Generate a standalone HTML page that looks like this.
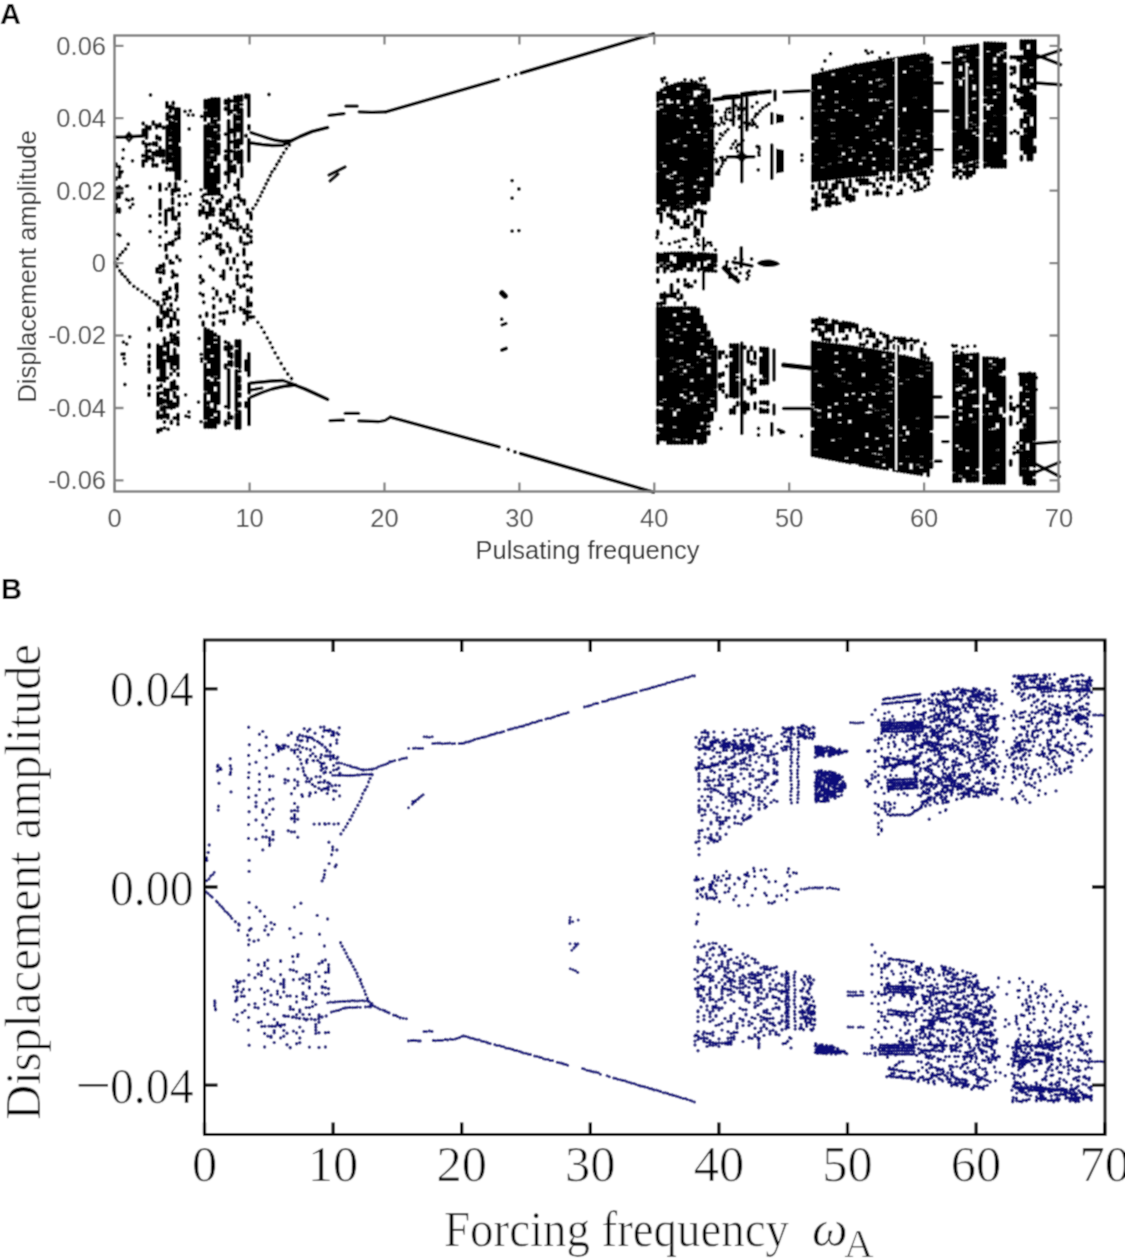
<!DOCTYPE html>
<html><head><meta charset="utf-8"><style>
html,body{margin:0;padding:0;background:#fff;overflow:hidden;}
svg{display:block;}
</style></head><body>
<svg width="1125" height="1259" viewBox="0 0 1125 1259">
<defs><filter id="soft" filterUnits="userSpaceOnUse" x="0" y="0" width="1125" height="1259"><feConvolveMatrix order="3" kernelMatrix="1 2 1 2 8 2 1 2 1" divisor="20" edgeMode="duplicate"/></filter></defs>
<g filter="url(#soft)">
<rect x="0" y="0" width="1125" height="1259" fill="#fff"/>
<g id="pa">
<path d="M732.0 156.8L738.5 154.0L741.8 149.0L745.0 154.0L751.0 156.8L745.0 159.5L741.8 164.0L738.5 159.5Z" fill="#000"/>
<path d="M776.0 113.4L784.0 115.0L784.0 122.0L776.0 123.4Z" fill="#000"/>
<path d="M776.0 148.4L784.0 150.0L784.0 172.0L776.0 173.4Z" fill="#000"/>
<path d="M756.8 263.3C760 258,776 258,780.1 264C776 268,760 268,756.8 263.3Z" fill="#000"/>
<path d="M115.0 137.2L125.0 137.0L133.0 136.5L143.0 136.0" stroke="#000" stroke-width="3.6" stroke-linecap="round" stroke-linejoin="round" fill="none"/>
<path d="M129.0 132.8L132.8 137.0L129.0 141.2L125.2 137.0L129.0 132.8" stroke="#000" stroke-width="2.6" stroke-linecap="round" stroke-linejoin="round" fill="none"/>
<path d="M251.0 132.6L260.0 135.5L268.0 138.2L276.0 140.3L283.0 141.2L292.0 140.4" stroke="#000" stroke-width="3.4" stroke-linecap="round" stroke-linejoin="round" fill="none"/>
<path d="M251.0 143.0L262.0 144.5L272.0 145.5L283.0 145.3L292.0 140.6" stroke="#000" stroke-width="3.4" stroke-linecap="round" stroke-linejoin="round" fill="none"/>
<path d="M292.0 140.4L300.0 136.5L312.0 131.5L327.6 127.6" stroke="#000" stroke-width="3.6" stroke-linecap="round" stroke-linejoin="round" fill="none"/>
<path d="M329.0 115.3L344.0 113.6" stroke="#000" stroke-width="3.2" stroke-linecap="round" stroke-linejoin="round" fill="none"/>
<path d="M345.8 106.1L357.3 106.1" stroke="#000" stroke-width="3.2" stroke-linecap="round" stroke-linejoin="round" fill="none"/>
<path d="M359.1 111.8L372.0 112.3L385.8 111.8" stroke="#000" stroke-width="3.2" stroke-linecap="round" stroke-linejoin="round" fill="none"/>
<path d="M329.0 175.0L345.0 167.0" stroke="#000" stroke-width="3.2" stroke-linecap="round" stroke-linejoin="round" fill="none"/>
<path d="M330.0 181.0L338.0 174.0" stroke="#000" stroke-width="3.2" stroke-linecap="round" stroke-linejoin="round" fill="none"/>
<path d="M251.0 383.0L262.0 382.0L272.0 381.0L283.0 380.5L295.6 385.0" stroke="#000" stroke-width="3.4" stroke-linecap="round" stroke-linejoin="round" fill="none"/>
<path d="M251.0 397.0L262.0 392.5L272.0 389.0L283.0 386.5L295.6 385.0" stroke="#000" stroke-width="3.4" stroke-linecap="round" stroke-linejoin="round" fill="none"/>
<path d="M251.0 390.0L262.0 388.0" stroke="#000" stroke-width="3.0" stroke-linecap="round" stroke-linejoin="round" fill="none"/>
<path d="M295.6 385.3L305.0 389.0L316.0 394.0L327.6 399.4" stroke="#000" stroke-width="3.6" stroke-linecap="round" stroke-linejoin="round" fill="none"/>
<path d="M330.0 420.7L343.6 420.2" stroke="#000" stroke-width="3.2" stroke-linecap="round" stroke-linejoin="round" fill="none"/>
<path d="M345.1 413.3L358.7 413.3" stroke="#000" stroke-width="3.2" stroke-linecap="round" stroke-linejoin="round" fill="none"/>
<path d="M358.7 420.8L378.4 421.7L385.0 420.5L390.4 417.2" stroke="#000" stroke-width="3.2" stroke-linecap="round" stroke-linejoin="round" fill="none"/>
<path d="M385.8 111.8L498.7 79.4" stroke="#000" stroke-width="3.4" stroke-linecap="round" stroke-linejoin="round" fill="none"/>
<path d="M521.1 73.0L653.6 33.9" stroke="#000" stroke-width="3.4" stroke-linecap="round" stroke-linejoin="round" fill="none"/>
<path d="M390.4 417.2L499.2 446.8" stroke="#000" stroke-width="3.4" stroke-linecap="round" stroke-linejoin="round" fill="none"/>
<path d="M520.4 453.5L653.4 492.2" stroke="#000" stroke-width="3.4" stroke-linecap="round" stroke-linejoin="round" fill="none"/>
<path d="M502.0 293.0L505.0 296.0" stroke="#000" stroke-width="6" stroke-linecap="round" stroke-linejoin="round" fill="none"/>
<path d="M502.0 325.0L506.0 323.5" stroke="#000" stroke-width="3.2" stroke-linecap="round" stroke-linejoin="round" fill="none"/>
<path d="M502.0 350.0L506.0 348.5" stroke="#000" stroke-width="4" stroke-linecap="round" stroke-linejoin="round" fill="none"/>
<path d="M714.0 99.5L723.0 98.5" stroke="#000" stroke-width="4.5" stroke-linecap="round" stroke-linejoin="round" fill="none"/>
<path d="M724.0 97.5L738.0 96.5" stroke="#000" stroke-width="5.5" stroke-linecap="round" stroke-linejoin="round" fill="none"/>
<path d="M744.0 94.5L756.0 93.0" stroke="#000" stroke-width="5.5" stroke-linecap="round" stroke-linejoin="round" fill="none"/>
<path d="M760.0 92.5L770.0 91.5" stroke="#000" stroke-width="4.5" stroke-linecap="round" stroke-linejoin="round" fill="none"/>
<path d="M775.0 91.0L775.0 100.0" stroke="#000" stroke-width="3.6" stroke-linecap="round" stroke-linejoin="round" fill="none"/>
<path d="M733.4 98.0L733.4 125.0" stroke="#000" stroke-width="3.6" stroke-linecap="round" stroke-linejoin="round" fill="none"/>
<path d="M746.8 98.0L746.8 130.0" stroke="#000" stroke-width="3.6" stroke-linecap="round" stroke-linejoin="round" fill="none"/>
<path d="M741.8 93.4L741.8 181.8" stroke="#000" stroke-width="3.4" stroke-linecap="round" stroke-linejoin="round" fill="none"/>
<path d="M729.0 156.8L754.0 156.8" stroke="#000" stroke-width="3.4" stroke-linecap="round" stroke-linejoin="round" fill="none"/>
<path d="M771.8 113.4L771.8 123.4" stroke="#000" stroke-width="3.4" stroke-linecap="round" stroke-linejoin="round" fill="none"/>
<path d="M771.8 145.0L771.8 178.5" stroke="#000" stroke-width="3.4" stroke-linecap="round" stroke-linejoin="round" fill="none"/>
<path d="M741.3 247.7L741.3 266.0" stroke="#000" stroke-width="3.6" stroke-linecap="round" stroke-linejoin="round" fill="none"/>
<path d="M724.0 268.0L731.0 275.0L738.0 281.0" stroke="#000" stroke-width="5" stroke-linecap="round" stroke-linejoin="round" fill="none"/>
<path d="M733.0 262.0L752.0 266.0" stroke="#000" stroke-width="3.4" stroke-linecap="round" stroke-linejoin="round" fill="none"/>
<path d="M703.5 238.0L703.5 250.0" stroke="#000" stroke-width="3.2" stroke-linecap="round" stroke-linejoin="round" fill="none"/>
<path d="M703.5 272.0L703.5 289.0" stroke="#000" stroke-width="3.2" stroke-linecap="round" stroke-linejoin="round" fill="none"/>
<path d="M741.8 343.0L741.8 433.5" stroke="#000" stroke-width="3.4" stroke-linecap="round" stroke-linejoin="round" fill="none"/>
<path d="M774.0 350.0L774.0 380.0" stroke="#000" stroke-width="3.4" stroke-linecap="round" stroke-linejoin="round" fill="none"/>
<path d="M774.0 405.0L774.0 414.0" stroke="#000" stroke-width="3.4" stroke-linecap="round" stroke-linejoin="round" fill="none"/>
<path d="M783.5 365.0L810.0 368.0" stroke="#000" stroke-width="5" stroke-linecap="round" stroke-linejoin="round" fill="none"/>
<path d="M783.5 408.5L810.0 408.5" stroke="#000" stroke-width="3.4" stroke-linecap="round" stroke-linejoin="round" fill="none"/>
<path d="M771.8 423.5L771.8 435.0" stroke="#000" stroke-width="3.4" stroke-linecap="round" stroke-linejoin="round" fill="none"/>
<path d="M778.5 430.0L783.5 432.0" stroke="#000" stroke-width="4" stroke-linecap="round" stroke-linejoin="round" fill="none"/>
<path d="M783.7 92.0L809.2 90.8" stroke="#000" stroke-width="3.4" stroke-linecap="round" stroke-linejoin="round" fill="none"/>
<path d="M935.0 83.0L942.5 83.0" stroke="#000" stroke-width="3.4" stroke-linecap="round" stroke-linejoin="round" fill="none"/>
<path d="M935.0 111.0L948.0 111.0" stroke="#000" stroke-width="3.4" stroke-linecap="round" stroke-linejoin="round" fill="none"/>
<path d="M935.0 149.6L942.5 149.6" stroke="#000" stroke-width="3.4" stroke-linecap="round" stroke-linejoin="round" fill="none"/>
<path d="M942.5 62.8L949.8 62.8" stroke="#000" stroke-width="3.4" stroke-linecap="round" stroke-linejoin="round" fill="none"/>
<path d="M933.7 397.0L941.0 397.0" stroke="#000" stroke-width="3.4" stroke-linecap="round" stroke-linejoin="round" fill="none"/>
<path d="M935.5 417.0L948.0 417.0" stroke="#000" stroke-width="3.4" stroke-linecap="round" stroke-linejoin="round" fill="none"/>
<path d="M942.7 441.6L948.0 441.6" stroke="#000" stroke-width="3.4" stroke-linecap="round" stroke-linejoin="round" fill="none"/>
<path d="M935.5 461.3L941.0 461.3" stroke="#000" stroke-width="3.4" stroke-linecap="round" stroke-linejoin="round" fill="none"/>
<path d="M1033.3 59.2L1060.7 50.1" stroke="#000" stroke-width="3.4" stroke-linecap="round" stroke-linejoin="round" fill="none"/>
<path d="M1033.3 53.8L1060.7 64.7" stroke="#000" stroke-width="3.4" stroke-linecap="round" stroke-linejoin="round" fill="none"/>
<path d="M1037.0 83.0L1060.7 84.8" stroke="#000" stroke-width="3.4" stroke-linecap="round" stroke-linejoin="round" fill="none"/>
<path d="M1036.2 443.4L1059.5 441.6" stroke="#000" stroke-width="3.4" stroke-linecap="round" stroke-linejoin="round" fill="none"/>
<path d="M1027.3 459.5L1059.5 476.5" stroke="#000" stroke-width="3.4" stroke-linecap="round" stroke-linejoin="round" fill="none"/>
<path d="M1036.2 472.0L1059.5 462.2" stroke="#000" stroke-width="3.4" stroke-linecap="round" stroke-linejoin="round" fill="none"/>
<path d="M114.9 262.7h0M117.6 258.7h0M120.0 254.9h0M122.6 252.0h0M125.6 248.9h0M128.2 244.2h0M114.9 263.3h0M117.0 266.4h0M119.8 270.7h0M122.1 273.9h0M125.0 276.6h0M127.6 279.8h0M129.7 282.7h0M133.8 286.3h0M137.7 289.1h0M142.1 291.9h0M146.0 294.7h0M149.6 297.8h0M154.1 300.9h0M157.4 303.6h0M132.8 204.3h0M127.6 185.8h0M121.8 188.3h0M130.1 207.5h0M132.5 160.8h0M126.4 186.1h0M121.3 172.5h0M123.4 149.7h0M121.8 192.7h0M122.8 158.3h0M126.5 199.5h0M122.1 171.6h0M128.7 200.3h0M132.5 199.0h0M124.2 354.0h0M124.9 384.5h0M129.7 336.8h0M123.4 342.1h0M123.9 358.5h0M126.7 344.1h0M122.0 354.2h0M125.0 363.8h0M119.8 235.4h0M118.1 234.3h0M201.5 116.4h0M189.2 129.0h0M190.3 110.7h0M185.0 111.4h0M193.1 115.1h0M188.4 115.1h0M185.1 195.9h0M186.5 204.0h0M185.7 181.3h0M190.2 194.0h0M185.6 394.8h0M185.9 416.1h0M188.9 411.9h0M198.5 402.1h0M189.1 417.0h0M212.5 198.7h0M219.8 199.4h0M203.8 195.1h0M205.4 194.3h0M222.5 197.1h0M221.6 195.6h0M200.5 256.6h0M201.1 354.3h0M199.8 243.6h0M200.7 282.8h0M202.3 196.7h0M202.3 233.2h0M201.0 189.7h0M201.0 421.7h0M201.6 361.3h0M200.3 204.6h0M200.2 293.5h0M201.5 358.8h0M199.2 338.5h0M202.5 280.0h0M269.0 94.5h0M150.5 95.0h0M250.6 212.8h0M252.9 208.5h0M255.8 204.6h0M257.9 200.5h0M260.3 196.1h0M262.1 192.1h0M264.2 188.1h0M266.1 183.8h0M268.1 180.0h0M270.2 175.7h0M271.9 171.8h0M274.6 168.7h0M276.7 164.5h0M279.1 161.0h0M281.0 156.8h0M283.6 152.8h0M286.4 148.6h0M289.4 144.9h0M250.1 312.1h0M253.7 316.8h0M257.8 322.3h0M261.5 327.3h0M264.3 332.4h0M267.3 338.0h0M270.2 342.7h0M272.4 347.6h0M275.1 352.8h0M278.0 357.8h0M281.1 363.5h0M284.4 368.9h0M287.7 374.0h0M291.5 378.5h0M508.5 76.6h0M515.7 74.6h0M508.3 449.5h0M515.0 452.0h0M512.1 180.6h0M518.9 189.0h0M512.1 198.1h0M512.1 231.1h0M518.9 230.6h0M501.7 319.2h0M662.6 81.5h0M700.1 78.7h0M692.1 81.5h0M704.0 78.2h0M695.9 82.1h0M664.6 78.0h0M697.1 84.3h0M666.7 83.2h0M700.9 80.6h0M684.9 79.7h0M666.5 87.2h0M691.4 80.4h0M661.7 79.0h0M686.6 83.9h0M675.1 242.1h0M656.9 237.7h0M698.7 245.3h0M697.2 243.6h0M691.6 246.6h0M694.9 236.4h0M684.2 239.2h0M685.9 239.3h0M679.9 247.1h0M683.3 239.0h0M678.9 241.2h0M697.8 239.5h0M669.4 243.8h0M661.3 243.1h0M742.7 110.3h0M752.3 106.7h0M725.4 115.9h0M745.4 123.0h0M748.0 125.3h0M756.1 113.8h0M741.0 104.4h0M734.2 116.3h0M726.7 119.3h0M729.6 112.4h0M757.0 102.5h0M725.4 112.3h0M730.5 120.2h0M724.1 123.5h0M753.1 122.0h0M738.5 107.9h0M746.5 114.4h0M738.3 109.5h0M738.9 118.7h0M752.1 125.3h0M729.6 108.3h0M739.1 115.8h0M735.8 105.5h0M726.9 109.1h0M739.7 127.2h0M754.9 124.2h0M757.1 126.9h0M745.1 122.7h0M726.0 118.9h0M744.7 108.3h0M737.7 151.4h0M736.2 147.8h0M733.1 144.1h0M743.0 140.3h0M731.2 148.1h0M735.6 141.0h0M739.2 144.5h0M737.9 145.0h0M716.7 143.5h0M719.8 138.9h0M722.7 135.3h0M725.4 131.9h0M728.0 129.3h0M746.5 126.7h0M749.3 123.5h0M752.3 120.0h0M755.1 116.7h0M757.7 114.1h0M760.0 110.9h0M762.7 108.0h0M766.2 105.9h0M769.0 104.0h0M716.4 173.8h0M719.0 169.6h0M721.2 166.4h0M722.7 163.4h0M725.4 160.0h0M727.4 156.8h0M713.6 126.6h0M716.7 111.1h0M718.9 124.9h0M716.0 159.5h0M717.3 172.2h0M719.2 171.0h0M718.6 174.2h0M721.7 121.8h0M720.5 133.9h0M720.6 157.6h0M721.3 118.6h0M716.7 161.6h0M722.5 160.5h0M713.4 152.3h0M714.0 148.4h0M721.0 117.9h0M722.3 157.3h0M715.5 123.5h0M758.3 169.8h0M758.7 146.6h0M757.1 146.5h0M759.4 148.9h0M758.7 152.3h0M759.1 155.2h0M729.8 277.3h0M740.0 273.2h0M747.0 278.9h0M726.4 265.5h0M729.9 269.0h0M748.7 275.6h0M726.9 262.0h0M747.3 272.9h0M736.2 268.5h0M730.1 276.6h0M736.2 277.2h0M741.9 259.7h0M734.6 262.8h0M749.2 271.0h0M727.1 261.7h0M735.4 268.3h0M741.0 266.5h0M735.2 258.1h0M741.1 265.3h0M726.5 268.1h0M751.6 259.0h0M729.8 272.8h0M708.0 242.7h0M710.5 242.6h0M711.3 245.3h0M715.5 249.9h0M705.4 245.6h0M721.0 428.5h0M758.5 428.5h0M758.5 435.0h0M801.5 436.0h0M781.0 432.7h0M801.9 118.2h0M801.9 155.0h0M801.9 160.5h0M904.8 63.1h0M865.9 50.7h0M872.1 52.1h0M888.0 52.9h0M879.8 57.8h0M855.6 64.6h0M830.5 53.7h0M923.0 57.3h0M911.2 69.2h0M868.1 53.3h0M822.2 69.3h0M824.9 60.9h0M974.8 346.1h0M962.7 347.7h0M962.5 354.0h0M967.6 346.3h0M961.6 352.9h0M956.6 351.3h0M952.6 345.3h0M953.7 352.7h0M956.3 345.7h0M953.7 346.2h0M1029.0 385.2h0M1029.6 373.2h0M1034.9 377.4h0M1036.3 389.6h0M1021.5 381.6h0M1036.4 377.7h0M1028.9 376.3h0M1019.5 374.1h0" stroke="#000" stroke-width="3.8" stroke-linecap="round" fill="none"/>
<path d="M116.2 164.1V165.9M116.0 177.9V179.3M116.1 188.2V198.6M115.8 204.6V212.0M119.4 166.8V167.7M119.6 171.5V177.1M119.3 186.7V197.1M119.4 209.0V212.0M167.2 118.6V119.6M167.2 126.1V163.4M166.8 168.0V170.0M170.1 116.2V117.5M170.0 121.4V128.9M170.1 132.5V135.5M170.5 139.9V140.4M170.2 145.8V148.7M170.1 153.1V161.2M170.3 168.4V170.0M173.5 116.3V118.3M173.4 122.5V154.2M173.6 157.9V170.0M176.9 118.1V118.6M177.0 129.4V165.2M176.7 169.4V170.0M166.9 102.6V107.1M167.3 113.8V117.0M170.4 106.5V111.6M173.3 102.4V103.7M173.5 107.6V108.6M177.2 108.6V110.4M175.8 110.4V119.5M175.8 123.8V128.1M176.2 134.3V179.0M179.1 109.0V141.2M179.5 147.6V179.0M143.2 123.1V123.7M143.3 130.0V134.8M143.3 141.7V143.3M142.8 155.4V155.9M143.2 160.6V166.0M146.5 126.1V137.9M146.2 144.3V146.7M146.5 150.4V161.0M150.0 127.0V128.7M149.7 143.9V144.6M149.9 150.5V151.3M149.6 156.9V158.5M153.3 122.0V123.9M153.5 143.0V144.6M153.2 152.8V155.1M153.0 158.8V160.5M153.0 164.2V166.0M156.5 125.2V127.7M156.8 136.1V138.5M156.4 142.9V145.3M156.6 151.1V155.5M156.8 164.6V166.0M160.0 124.3V126.4M160.0 137.8V139.6M160.1 147.5V156.0M163.4 127.1V128.0M163.2 150.5V156.0M163.1 160.5V162.2M150.2 186.9V188.0M150.1 216.0V216.2M150.2 231.4V231.5M159.9 184.3V190.4M160.2 199.6V208.8M160.0 213.9V215.0M159.9 222.1V222.5M160.0 236.9V236.9M159.9 245.4V245.4M166.3 188.9V189.1M165.8 210.4V224.7M166.2 231.8V232.0M169.5 183.7V185.9M169.1 209.0V210.2M172.4 189.6V194.5M172.6 198.7V203.4M172.7 207.9V219.0M175.6 183.1V190.9M175.8 217.1V219.5M175.8 232.3V234.0M179.0 189.1V190.2M179.0 195.8V196.0M179.4 203.8V205.3M179.0 212.8V215.6M179.1 224.0V224.1M179.2 227.9V233.2M165.8 244.6V250.0M166.0 291.9V293.0M169.4 242.6V244.0M172.7 241.4V244.9M172.5 271.2V272.2M172.3 277.1V277.3M175.7 239.2V239.6M176.0 284.4V288.5M175.8 299.5V300.0M179.1 236.8V238.0M149.2 328.3V329.8M149.2 344.5V347.0M149.3 355.8V356.6M149.1 361.8V364.4M149.2 368.5V372.1M149.2 385.9V388.6M149.0 393.8V395.2M157.1 268.6V272.1M160.1 265.7V268.0M160.2 272.3V272.6M160.3 278.7V282.3M163.6 264.3V266.6M163.7 270.2V273.4M163.7 292.7V294.2M163.5 299.4V300.0M166.7 255.5V258.1M166.9 291.9V299.3M170.4 260.7V263.0M169.9 288.1V290.1M170.3 297.3V297.9M173.2 262.9V262.9M173.6 273.5V275.7M176.8 256.1V257.6M177.0 275.2V275.5M177.1 284.0V291.7M177.0 295.7V296.9M179.9 260.0V260.6M157.8 302.0V304.6M157.8 317.3V326.5M161.4 306.3V312.8M161.3 319.6V326.5M161.3 330.4V330.4M164.5 303.3V303.8M164.3 312.0V317.5M164.4 338.1V340.0M167.8 309.2V316.1M168.2 325.4V326.9M171.1 304.1V305.8M171.4 310.0V310.3M171.0 318.1V326.3M171.0 333.7V335.8M174.7 312.6V319.1M174.8 334.9V340.0M177.9 309.3V309.4M177.9 320.4V324.5M178.1 332.3V332.4M177.7 337.7V339.6M157.9 345.2V367.7M158.0 378.1V380.2M157.8 387.0V388.1M158.0 393.2V405.0M161.3 346.6V380.5M161.1 385.1V386.3M161.1 392.6V393.2M161.5 398.7V403.8M164.6 342.5V345.7M164.3 352.3V354.8M164.4 360.5V381.1M164.8 389.1V395.1M164.4 400.2V402.1M168.1 342.7V361.2M167.6 378.0V378.1M167.9 389.7V403.2M171.5 339.0V342.0M171.5 356.8V368.4M171.0 373.8V374.5M171.5 382.8V389.7M171.4 401.5V405.0M174.7 343.6V343.9M174.6 349.2V364.3M174.4 370.2V371.1M174.3 381.1V388.3M174.5 392.4V396.9M174.6 403.6V405.0M178.1 341.5V345.2M177.8 355.5V368.4M178.1 373.7V375.4M177.5 386.8V389.0M177.8 397.0V403.7M157.8 411.9V418.0M161.4 408.0V409.7M161.4 415.4V418.0M164.5 406.4V416.9M168.1 406.7V407.5M167.9 414.6V418.0M171.3 406.7V408.3M174.3 405.7V407.2M177.5 405.7V405.8M178.0 414.4V418.0M157.9 429.7V432.0M161.0 428.9V430.3M164.5 421.8V422.3M164.5 427.9V427.9M168.2 429.2V429.3M171.4 421.5V423.3M174.4 417.6V418.3M178.0 419.5V419.9M178.0 423.8V424.4M205.2 100.4V108.0M205.1 112.2V120.2M205.2 125.9V188.0M208.7 99.9V116.1M208.6 124.3V136.5M208.7 141.0V158.0M208.6 161.9V194.2M212.0 98.8V122.2M212.1 126.3V137.6M212.1 141.3V146.8M211.9 150.8V152.5M212.1 157.3V167.2M212.0 174.0V194.2M215.4 98.8V116.1M215.4 120.5V127.2M215.4 132.3V160.3M215.3 166.7V194.0M218.8 98.8V119.7M218.7 125.3V130.9M218.9 134.9V139.1M218.8 144.0V153.8M218.7 164.8V182.5M218.9 188.6V194.2M228.7 99.3V114.2M228.6 120.6V182.0M234.8 96.6V101.5M234.8 105.4V110.0M234.7 115.2V136.3M234.8 139.9V147.8M234.7 151.8V159.3M234.7 165.7V170.2M238.2 96.3V112.3M238.2 116.1V119.6M238.2 124.2V130.8M238.2 139.9V147.4M238.3 151.7V162.5M241.6 96.0V100.4M241.7 104.4V104.5M241.6 109.1V143.4M241.5 150.8V163.2M241.6 166.8V170.2M234.9 169.3V172.2M234.9 184.4V184.9M234.8 197.5V198.0M238.2 179.5V189.7M238.7 195.0V198.0M241.7 168.8V176.6M248.8 95.3V116.1M248.9 125.8V128.8M248.8 139.7V160.9M225.5 100.5V103.4M225.5 108.3V109.4M225.5 134.1V134.3M225.6 151.1V151.2M225.5 156.0V159.6M225.5 172.4V173.9M225.5 185.6V187.8M231.3 100.9V101.0M231.4 110.9V112.0M231.2 129.6V132.1M231.2 141.6V142.1M231.3 150.9V151.3M231.3 161.5V161.7M231.4 166.1V171.4M246.0 94.7V97.5M246.1 135.5V136.1M199.8 210.9V215.1M200.3 275.7V277.4M200.2 316.2V316.7M203.6 200.1V201.1M203.3 207.2V212.9M203.4 240.5V240.9M203.3 280.5V281.0M203.1 294.7V295.6M203.7 302.1V302.5M203.2 322.3V325.0M206.9 200.9V202.8M206.8 212.7V217.9M206.6 233.8V239.2M206.7 313.3V315.8M210.2 203.3V214.9M210.2 224.9V228.5M209.9 234.9V238.3M210.3 266.3V267.0M213.5 208.5V211.2M213.4 214.9V214.9M213.6 232.2V233.6M213.4 269.3V269.7M213.3 288.4V288.4M213.5 298.3V298.5M213.7 305.8V307.9M213.6 314.8V317.2M213.4 322.9V325.0M217.2 200.6V203.1M216.9 228.4V229.7M217.0 233.4V236.0M217.0 245.8V248.4M216.8 291.3V294.7M220.3 199.7V201.6M220.6 209.1V209.2M220.7 213.0V215.0M220.5 220.8V221.3M220.6 235.0V237.6M220.3 243.9V244.8M220.6 249.1V254.6M220.6 276.1V276.1M220.5 299.2V300.8M220.2 312.9V313.6M220.3 320.9V321.0M223.9 210.3V215.0M223.8 223.0V225.0M223.7 250.7V252.5M223.6 270.8V279.1M223.7 312.9V313.0M224.1 320.4V323.8M227.1 204.3V209.6M227.3 217.1V223.1M227.5 243.5V246.2M227.3 258.8V263.4M227.3 294.7V296.2M227.0 311.8V312.7M230.4 200.3V206.3M230.9 210.3V210.6M230.3 220.2V220.6M230.7 224.8V227.7M230.3 248.3V251.7M230.8 268.0V269.1M230.3 297.1V302.6M233.8 213.8V221.1M233.7 227.9V228.2M234.1 258.6V262.8M233.9 291.2V293.7M234.2 298.8V299.1M234.0 305.9V306.9M233.9 310.8V311.5M237.7 205.0V205.9M237.5 219.5V224.3M237.4 228.3V229.7M237.5 254.4V255.4M237.6 270.0V270.6M237.2 275.6V279.9M237.6 283.5V284.1M240.8 199.1V200.8M240.8 227.0V227.5M240.7 237.2V241.7M240.6 286.3V287.1M240.6 307.8V309.5M244.3 200.3V204.2M244.1 229.8V232.3M244.4 243.2V244.4M243.9 249.3V254.8M244.4 261.7V262.4M244.4 275.9V277.1M244.2 284.5V286.1M244.3 309.7V313.1M244.0 322.8V323.8M247.4 209.7V213.1M247.6 225.0V228.7M247.8 234.2V235.7M247.5 243.2V243.7M247.4 264.6V269.3M247.5 275.3V276.0M247.5 290.1V290.5M247.7 297.1V306.4M247.4 311.5V319.7M251.1 215.0V218.9M251.1 230.7V231.2M250.9 236.4V237.0M251.2 241.1V242.4M251.1 262.8V264.5M251.1 277.0V277.4M251.2 288.3V291.7M251.1 303.3V305.5M251.1 316.8V317.5M205.3 328.6V358.7M205.2 364.1V389.7M205.1 393.9V418.6M205.2 423.0V427.2M208.6 330.2V344.0M208.6 349.1V362.2M208.6 369.8V374.9M208.6 380.7V393.1M208.6 402.2V403.2M208.7 407.0V427.2M212.0 331.8V353.2M212.0 358.7V376.6M212.0 382.9V401.3M212.0 409.4V415.3M211.9 419.6V427.2M215.4 334.2V335.6M215.4 340.0V340.3M215.4 344.8V374.7M215.4 378.8V385.1M215.3 393.0V411.7M215.3 417.7V427.2M218.8 336.6V378.0M218.7 382.6V403.2M218.8 411.8V422.7M228.7 343.3V355.9M229.0 362.0V364.7M228.7 369.7V407.8M228.8 412.9V418.7M228.9 423.0V423.0M236.3 340.8V346.2M236.3 350.9V366.2M236.4 370.7V410.3M236.4 414.0V428.2M239.7 340.8V367.5M239.8 371.1V371.3M239.6 377.1V381.4M239.8 385.3V389.3M239.8 393.8V396.3M239.8 403.1V405.9M239.7 411.4V428.2M248.8 353.6V375.6M249.1 383.8V392.8M249.0 398.7V424.4M225.5 341.6V342.2M225.4 346.9V349.4M225.5 365.0V367.8M225.6 406.6V406.6M225.5 421.4V424.7M231.6 346.4V348.6M231.5 353.6V357.6M231.5 361.7V365.5M231.6 416.6V418.2M245.9 361.0V370.1M246.0 402.6V406.5M657.8 92.6V100.9M657.9 104.8V106.3M657.8 111.4V169.5M657.8 173.2V202.9M661.3 90.3V99.1M661.1 104.3V104.6M661.1 109.5V160.5M661.1 164.5V203.8M664.6 88.1V89.9M664.6 94.6V111.9M664.6 115.7V163.6M664.6 168.4V198.2M664.7 202.4V205.7M667.9 86.8V97.2M668.1 105.2V141.7M668.1 145.8V173.7M668.0 179.5V205.5M671.4 85.7V99.8M671.5 104.6V172.5M671.4 176.5V176.6M671.5 180.8V205.3M674.9 84.5V138.3M674.8 144.3V169.8M674.8 175.7V205.1M678.2 83.4V86.1M678.3 91.6V98.3M678.2 105.2V113.2M678.1 118.2V137.0M678.3 140.9V182.6M678.3 187.0V189.7M678.2 195.1V203.1M681.6 82.9V105.0M681.5 109.7V116.0M681.6 119.9V156.1M681.6 160.7V176.1M681.7 179.9V181.3M681.6 185.5V188.8M681.6 194.3V199.4M681.5 203.5V204.7M685.0 83.1V143.4M685.1 148.1V157.2M685.1 161.4V204.5M688.3 83.4V92.2M688.3 96.0V102.0M688.5 105.7V130.1M688.5 134.5V204.3M691.7 83.6V98.8M691.8 106.3V115.2M691.8 120.0V204.1M695.3 83.8V89.1M695.1 98.5V106.0M695.3 110.0V123.0M695.1 129.5V183.9M695.2 189.4V203.9M698.7 84.4V89.0M698.6 96.1V130.0M698.5 134.6V177.2M698.5 181.3V190.2M698.5 194.6V200.1M702.0 84.9V85.3M702.1 89.1V90.2M702.1 94.1V175.7M702.0 181.9V186.5M702.1 190.2V203.5M705.5 85.4V97.9M705.3 102.2V131.9M705.4 135.8V137.6M705.5 142.2V146.9M705.3 150.8V166.8M705.4 170.7V203.4M708.9 90.1V101.6M708.7 105.3V199.9M712.2 105.8V112.9M712.1 116.9V125.9M712.3 130.0V185.7M657.8 208.6V213.3M657.7 231.3V234.2M661.2 206.8V209.4M661.2 213.5V221.8M664.5 206.8V210.2M667.9 214.3V215.8M671.4 208.2V210.5M671.4 214.2V217.8M671.4 227.7V228.3M674.8 206.8V208.7M674.7 216.5V223.4M678.2 206.8V210.2M678.1 220.3V224.2M681.6 208.4V208.9M681.5 227.1V227.3M685.0 207.0V211.5M684.9 221.5V227.6M688.3 206.8V207.0M688.4 216.5V220.0M688.3 224.7V227.3M691.8 206.8V207.6M691.9 223.0V223.9M695.2 210.4V219.6M695.3 227.5V234.2M698.7 209.7V212.5M698.7 230.2V234.2M702.1 211.2V226.2M705.4 212.2V213.2M657.8 253.7V262.4M657.7 267.7V272.1M661.2 254.5V260.7M661.2 265.1V266.2M664.6 253.5V263.7M664.6 267.9V271.7M668.0 253.4V261.0M668.0 265.4V268.4M671.4 253.3V253.5M671.4 262.5V265.8M671.5 271.3V271.3M674.7 253.2V255.3M674.7 264.6V271.1M678.1 253.1V269.1M681.5 253.0V269.1M685.0 252.9V266.4M688.4 252.8V261.6M688.4 268.9V270.3M691.7 252.9V270.3M695.2 255.3V265.9M698.7 253.5V260.0M698.6 269.2V270.5M702.0 253.7V269.1M705.4 254.0V259.8M705.4 267.7V270.8M708.7 254.2V258.6M708.7 264.6V270.9M712.3 254.5V271.1M715.7 254.8V261.4M715.6 265.1V265.7M715.7 271.1V271.2M657.8 279.8V282.0M657.8 303.4V304.2M661.2 294.4V297.8M661.2 303.0V304.2M664.6 293.3V303.4M668.0 295.1V296.4M671.5 284.7V296.2M674.9 293.6V297.1M678.1 279.8V281.4M678.2 290.3V292.5M678.2 299.3V299.9M681.5 295.1V298.1M685.0 279.8V280.9M685.1 284.6V285.6M684.9 302.8V304.2M688.4 283.9V287.0M691.7 286.1V286.5M695.2 281.3V281.9M657.7 307.8V357.1M657.8 360.7V404.9M657.7 410.2V423.3M657.9 427.4V430.5M657.8 435.3V443.2M661.2 307.8V374.2M661.2 382.3V399.6M661.3 403.6V405.0M661.3 411.3V422.6M661.2 428.6V439.5M664.5 307.8V397.5M664.5 401.8V439.8M668.1 307.8V327.7M668.0 331.7V337.4M668.0 341.3V443.2M671.4 307.8V330.7M671.3 335.0V337.0M671.3 343.1V356.1M671.3 360.0V370.0M671.4 373.6V406.4M671.3 410.2V443.2M674.8 307.8V311.9M674.7 318.0V367.1M674.8 371.3V409.7M674.9 417.8V424.8M674.8 429.4V437.1M674.8 440.9V443.2M678.1 307.8V321.6M678.3 326.5V333.6M678.2 337.4V359.0M678.2 363.1V407.4M678.2 412.5V437.6M678.1 441.9V443.2M681.5 307.8V340.4M681.6 345.2V358.6M681.6 362.7V364.8M681.6 368.7V372.8M681.7 376.8V392.3M681.7 398.0V443.2M685.0 307.8V308.7M685.0 313.8V326.8M684.9 331.9V368.0M685.0 374.2V387.2M685.1 391.1V394.8M684.9 400.2V437.6M684.9 441.3V443.2M688.4 307.8V309.0M688.5 314.0V320.0M688.4 324.7V362.6M688.4 367.0V401.6M688.5 405.2V443.2M691.8 307.8V365.6M691.7 369.2V377.6M691.9 383.4V390.5M691.8 396.0V398.7M691.9 403.0V443.2M695.2 307.8V395.6M695.2 402.9V438.2M698.5 309.1V327.2M698.6 332.5V349.3M698.7 356.6V360.7M698.7 364.3V400.7M698.7 404.8V428.5M698.5 433.5V443.2M701.9 316.8V332.7M702.0 336.8V341.2M701.9 346.4V354.5M702.1 359.2V376.8M702.1 381.0V391.7M702.0 395.5V420.4M702.1 426.3V443.2M705.4 324.4V351.8M705.3 357.5V410.8M705.3 414.9V428.3M705.3 432.0V441.9M708.8 332.1V335.7M708.7 340.2V353.7M708.9 357.4V357.7M708.8 363.3V365.9M708.7 375.0V399.9M708.7 404.4V421.5M708.9 426.2V426.5M708.9 431.5V434.1M712.1 339.5V347.9M712.3 351.6V396.3M712.2 400.4V406.5M712.1 412.7V419.5M715.6 346.7V387.4M715.6 391.3V410.5M719.9 351.8V358.0M719.8 373.9V376.9M719.9 384.5V389.3M723.3 351.8V352.9M723.2 373.0V375.1M723.2 384.0V386.4M723.2 390.8V392.0M726.5 356.3V357.1M726.5 366.0V366.4M726.6 395.1V397.0M730.7 344.8V347.0M730.8 352.0V356.4M730.8 363.2V396.4M730.7 409.9V413.2M734.2 344.8V397.3M734.3 406.8V413.2M737.6 344.8V372.3M737.5 377.1V377.4M737.5 382.2V396.8M737.6 402.4V405.1M744.8 346.8V347.9M744.7 379.9V384.5M744.8 402.3V412.8M748.2 351.4V361.8M748.2 387.5V388.7M748.2 404.2V409.4M751.5 347.3V350.0M751.6 362.0V364.1M751.6 375.5V377.0M751.6 380.7V393.7M755.0 352.1V358.5M754.9 363.0V363.8M755.1 379.9V380.4M755.0 388.8V392.6M755.0 403.2V408.5M760.8 347.9V350.9M760.8 358.0V373.0M760.8 380.1V384.1M764.1 348.2V376.5M764.2 380.1V383.8M767.5 348.5V383.5M760.7 401.9V403.3M760.7 408.6V412.2M764.1 401.8V403.4M764.1 410.2V412.2M767.7 401.8V404.6M767.6 409.8V412.2M812.9 75.4V89.1M812.7 92.8V139.1M812.9 143.9V161.9M812.8 165.6V181.0M816.1 74.6V109.1M816.2 113.0V123.7M816.3 127.6V135.5M816.3 140.4V152.8M816.1 156.7V180.6M819.7 73.8V84.6M819.6 90.3V101.9M819.5 106.3V180.2M823.0 72.9V94.1M823.1 100.2V108.5M823.1 112.6V165.6M823.1 169.4V179.8M826.3 72.3V179.4M829.7 71.3V117.9M829.7 121.8V161.9M829.8 166.0V179.0M833.1 70.5V71.7M833.1 77.2V118.1M833.2 122.5V131.8M833.3 135.5V136.2M833.1 140.2V178.6M836.5 69.7V89.3M836.6 94.3V99.9M836.6 104.3V108.5M836.6 112.9V178.2M840.0 68.9V144.0M840.0 148.0V154.8M840.0 158.5V160.1M840.0 164.3V177.7M843.4 68.1V105.1M843.5 109.7V150.7M843.4 156.8V177.3M846.8 67.3V176.9M850.3 66.5V71.9M850.3 75.5V108.2M850.2 112.2V145.2M850.1 149.2V156.9M850.3 162.7V176.5M853.6 65.7V79.4M853.7 84.0V97.2M853.7 100.8V148.8M853.7 153.3V176.2M857.0 65.1V112.7M857.0 117.8V135.3M857.0 140.0V175.9M860.4 64.5V73.3M860.4 77.3V161.1M860.4 166.2V175.7M863.8 63.9V155.7M863.9 160.2V175.5M867.2 63.3V123.7M867.3 128.5V175.2M870.7 62.7V79.5M870.5 85.2V89.8M870.6 93.7V97.5M870.6 103.0V128.8M870.7 132.5V150.2M870.6 155.2V175.0M874.0 62.1V67.8M873.9 72.0V97.7M874.0 101.8V116.4M874.0 120.0V127.9M874.0 131.5V138.4M873.9 142.4V156.1M874.0 161.8V165.2M874.0 171.1V174.8M877.3 61.5V77.8M877.4 82.1V98.1M877.4 102.1V120.5M877.4 126.1V141.3M877.3 145.9V174.5M880.8 60.9V77.2M880.9 81.3V83.9M880.8 88.1V114.2M880.7 120.5V170.1M884.3 60.3V82.0M884.3 86.3V108.7M884.2 113.0V136.7M884.2 142.4V174.1M887.6 59.7V99.6M887.5 105.0V156.4M887.7 160.3V163.1M887.7 166.8V170.0M891.0 59.2V99.1M891.0 103.5V105.5M891.1 109.7V140.4M890.9 146.1V173.6M894.5 58.6V58.8M894.4 62.8V73.4M894.4 77.4V145.9M894.3 150.4V169.5M897.9 58.1V114.7M897.7 118.7V126.6M897.8 131.1V147.5M897.8 151.9V173.1M901.2 57.6V145.7M901.2 149.4V162.6M901.2 166.8V172.4M904.6 57.0V69.1M904.6 74.6V106.0M904.7 112.9V133.5M904.6 137.2V157.1M904.5 160.7V171.8M908.0 56.5V146.0M908.0 151.5V171.2M911.5 56.0V64.3M911.3 68.1V155.6M911.5 159.3V162.8M911.4 170.0V170.6M914.7 55.5V96.0M914.7 99.7V141.3M914.7 147.1V159.3M914.8 163.9V170.0M918.3 55.0V68.7M918.3 72.5V128.7M918.2 132.9V134.1M918.2 138.9V147.8M918.2 151.5V169.3M921.7 54.5V58.7M921.7 62.5V152.4M921.6 159.3V168.7M925.1 54.0V78.0M925.1 81.7V104.9M924.9 109.6V136.8M925.1 140.6V151.7M925.1 157.5V166.5M928.4 55.5V167.5M931.8 57.9V59.7M931.8 64.1V74.0M931.8 77.8V132.1M931.7 135.8V164.4M812.7 185.7V188.2M812.8 198.9V201.8M812.7 207.4V209.5M816.3 192.3V195.1M816.2 198.8V209.0M819.5 183.8V188.4M819.6 204.9V205.6M823.1 188.2V189.6M822.9 194.0V197.4M826.3 183.0V187.9M826.5 194.1V197.8M826.4 201.8V205.6M829.9 190.1V192.6M829.8 196.3V205.7M833.2 184.4V189.7M833.1 194.8V196.5M833.2 202.2V203.2M836.6 181.8V188.0M836.7 198.0V204.1M840.0 181.3V182.2M839.9 203.2V203.3M843.4 182.4V195.9M846.9 188.2V199.3M850.2 180.1V186.6M850.3 195.5V200.9M853.7 188.7V191.7M853.7 196.5V200.1M856.9 179.5V180.6M857.0 189.9V191.0M860.4 179.3V184.3M863.9 179.1V183.7M867.3 179.6V183.9M867.3 191.3V194.9M870.5 183.1V183.2M874.0 184.0V186.4M874.1 192.3V194.0M877.4 179.0V180.2M877.5 189.2V193.6M880.9 177.9V178.1M880.9 183.6V184.8M880.9 192.6V193.6M884.2 177.7V179.7M887.7 186.6V187.5M887.5 192.7V195.5M891.1 177.2V179.6M890.9 185.9V187.7M894.4 177.0V179.9M897.7 176.7V181.0M897.9 193.7V194.0M901.2 176.0V180.0M901.3 190.5V193.4M904.7 184.5V184.7M908.1 174.8V177.2M911.3 174.2V179.7M911.5 187.0V187.6M914.7 179.0V182.5M914.8 190.7V190.8M918.2 172.9V174.3M918.2 183.0V190.1M921.7 172.3V174.2M921.6 189.3V189.4M925.1 171.7V178.7M925.0 186.3V186.9M928.4 177.9V178.7M928.4 182.8V184.2M931.8 170.5V171.3M812.7 320.1V322.4M812.8 328.8V330.8M816.2 319.6V329.1M819.6 318.2V324.3M819.6 329.4V335.1M823.0 318.8V324.4M823.0 332.2V339.6M826.5 319.4V320.6M826.4 324.6V331.6M826.4 339.2V340.0M829.8 325.0V330.6M829.7 339.2V340.4M833.2 320.5V334.2M836.7 321.1V323.1M836.6 339.3V340.9M840.0 323.4V331.6M843.3 322.2V331.5M843.4 338.9V339.2M846.8 322.8V327.2M846.8 335.6V339.0M850.1 323.3V330.6M853.7 324.0V326.8M857.0 325.2V332.0M860.4 332.9V337.7M860.4 344.3V344.5M863.7 329.5V330.5M863.9 344.5V345.0M867.3 328.6V328.9M867.2 336.2V336.2M867.1 341.2V342.5M870.5 329.8V336.4M874.0 333.1V337.0M873.9 344.4V346.8M877.4 339.9V346.5M880.8 333.3V333.4M880.8 342.1V342.4M884.2 334.5V336.5M884.3 348.4V348.5M887.6 335.6V348.6M891.0 341.2V341.8M894.4 337.8V340.3M894.4 345.8V347.9M897.8 338.1V341.0M897.7 346.6V351.1M901.3 338.3V343.1M904.6 338.5V348.6M908.1 340.7V340.7M911.4 339.0V340.2M911.5 345.5V349.5M914.9 340.9V342.6M918.1 340.4V340.9M921.7 348.9V357.1M924.9 343.4V344.0M924.9 355.3V357.9M928.5 358.1V358.8M812.6 342.0V400.5M812.4 404.2V404.7M812.4 409.3V426.0M812.5 431.7V455.4M815.8 342.4V369.1M816.0 373.2V407.5M815.8 411.9V447.6M815.9 451.5V456.0M819.2 342.8V347.5M819.3 351.8V382.7M819.2 387.7V408.0M819.3 413.1V415.1M819.3 419.3V456.7M822.7 343.2V384.4M822.7 388.2V457.4M826.0 343.6V458.0M829.5 344.0V404.8M829.4 410.0V411.4M829.4 419.4V458.7M832.8 344.4V437.8M832.9 442.8V459.4M836.2 344.8V350.6M836.4 355.9V359.8M836.4 364.8V372.1M836.2 375.9V401.0M836.4 406.5V460.0M839.8 345.2V373.6M839.7 378.1V411.9M839.6 417.4V420.3M839.7 424.8V436.8M839.6 440.4V460.7M843.0 345.6V367.1M843.1 371.9V380.0M843.1 383.8V461.4M846.6 346.0V391.9M846.5 397.7V401.5M846.4 405.5V455.8M846.6 460.5V462.1M849.9 346.4V350.7M849.9 355.3V381.0M849.9 385.3V418.3M850.0 424.9V462.7M853.2 346.9V391.0M853.3 396.0V462.3M856.7 347.4V447.5M856.7 452.6V462.8M860.1 348.0V351.5M860.2 359.8V397.0M860.2 402.3V464.7M863.5 348.6V358.6M863.6 362.3V371.5M863.6 378.1V392.0M863.6 397.4V465.3M866.9 349.2V410.3M866.9 415.0V431.1M866.9 438.7V444.8M867.0 449.7V465.8M870.4 349.8V390.7M870.3 394.4V402.8M870.3 409.2V409.7M870.2 414.8V466.4M873.7 350.3V391.4M873.7 396.7V406.7M873.6 410.3V451.4M873.7 455.4V466.9M877.1 350.9V382.8M877.0 386.8V389.1M877.0 392.8V408.5M877.2 412.2V436.0M877.2 441.0V452.2M877.1 456.0V459.7M877.1 463.9V467.5M880.5 351.5V445.7M880.6 451.5V452.6M880.6 456.5V468.0M883.8 352.1V352.4M883.9 358.8V364.8M883.8 369.5V407.4M884.0 411.2V414.7M883.9 418.9V455.9M883.8 459.8V462.1M884.0 468.0V468.5M887.4 352.7V357.9M887.3 361.8V377.8M887.4 381.5V391.5M887.4 395.5V412.3M887.2 416.2V423.7M887.3 427.9V443.8M887.2 448.2V469.1M890.6 353.2V362.6M890.7 366.9V371.2M890.6 376.3V379.7M890.6 384.1V390.8M890.6 395.1V399.5M890.8 403.6V425.8M890.6 430.4V433.0M890.8 438.2V467.1M894.2 353.8V357.9M894.0 362.4V372.0M894.0 378.0V386.3M894.1 390.3V470.2M897.5 354.7V375.8M897.5 379.6V417.7M897.5 421.5V470.7M900.8 356.3V381.6M900.9 385.9V433.1M900.9 437.1V461.2M901.0 466.1V471.2M904.3 356.3V424.5M904.2 430.8V437.9M904.2 442.6V471.8M907.6 357.1V377.4M907.7 381.2V429.6M907.7 436.5V454.5M907.6 458.2V472.3M911.1 358.0V461.7M911.0 471.0V472.9M914.5 358.8V473.4M917.9 359.6V373.2M917.8 377.3V416.0M918.0 420.1V426.3M917.9 429.9V462.7M917.9 467.0V473.9M921.4 360.5V365.0M921.3 368.7V373.9M921.2 378.5V454.7M921.3 458.6V465.0M921.4 469.4V474.5M924.7 361.3V471.4M928.2 362.1V364.0M928.1 367.7V368.3M928.2 372.3V475.6M931.6 362.9V429.1M931.4 433.9V459.1M931.5 463.0V467.2M953.7 47.6V129.6M953.8 133.3V163.2M957.1 47.2V54.6M957.2 58.9V77.4M957.2 81.2V115.0M957.3 119.5V147.4M957.2 151.0V163.2M960.7 46.9V51.8M960.6 57.7V64.4M960.6 72.7V78.5M960.5 87.1V144.6M960.6 150.2V161.4M963.9 46.5V52.8M963.9 56.8V57.8M963.9 62.1V75.8M964.0 80.7V152.1M964.0 156.3V163.2M967.4 46.1V46.6M967.5 50.4V62.0M967.4 67.8V112.9M967.5 118.0V148.5M967.4 152.4V162.1M970.9 45.7V68.7M970.7 75.5V97.7M970.8 101.3V120.4M970.7 124.5V126.3M970.7 130.2V160.0M974.3 45.4V76.4M974.3 80.0V83.1M974.2 91.9V96.0M974.2 100.7V110.3M974.1 114.9V122.4M974.1 126.1V130.6M974.2 135.6V159.9M977.6 45.0V55.4M977.6 59.4V125.5M977.6 129.2V133.3M977.5 137.7V158.8M953.8 166.8V167.4M953.9 172.4V176.8M957.2 167.4V173.9M960.6 170.5V171.2M960.6 176.6V178.4M964.0 166.8V167.0M964.0 172.2V174.2M967.3 165.7V177.9M970.7 164.6V166.4M970.9 171.6V175.8M974.2 163.5V173.0M977.6 162.4V162.7M977.6 166.9V167.2M984.8 42.9V95.3M984.8 99.2V102.4M984.8 107.1V118.4M984.7 123.1V160.5M984.8 164.2V167.1M988.2 43.0V49.3M988.3 53.8V85.0M988.3 89.3V104.1M988.1 111.8V135.9M988.2 140.4V165.7M991.5 43.1V103.2M991.6 107.8V131.9M991.7 135.6V167.1M994.9 43.3V55.8M995.0 64.4V65.7M994.9 71.5V75.1M995.0 78.8V83.3M994.9 89.6V94.2M995.0 100.0V113.9M995.1 117.7V124.6M995.0 128.4V135.9M995.0 142.9V167.1M998.4 43.4V51.9M998.3 57.4V90.5M998.3 94.4V167.1M1001.8 43.5V50.6M1001.7 55.2V167.1M1005.2 43.6V48.4M1005.2 52.6V57.8M1005.2 64.0V113.7M1005.2 117.3V153.4M1005.2 160.4V167.1M1011.3 56.8V57.7M1011.3 67.1V68.4M1011.4 73.4V74.2M1011.4 84.3V87.3M1011.4 108.2V109.0M1011.3 132.6V133.2M1014.7 56.8V57.7M1014.6 67.1V72.6M1014.8 85.7V87.0M1014.8 95.8V101.3M1014.8 130.8V131.2M1018.0 56.8V60.0M1018.1 88.6V91.0M1018.2 99.7V104.2M1018.1 132.8V133.2M1021.3 40.8V48.7M1021.3 56.5V61.7M1021.3 65.4V92.5M1021.5 97.7V108.0M1021.4 119.6V127.1M1021.5 136.6V149.3M1021.5 156.4V159.8M1024.9 40.8V58.5M1024.8 64.0V77.3M1024.7 86.4V108.3M1024.9 113.1V122.1M1024.9 128.9V131.5M1024.8 135.2V153.1M1028.2 40.8V42.7M1028.2 50.8V81.9M1028.3 86.2V113.5M1028.3 117.8V159.8M1031.7 40.8V65.5M1031.6 69.7V76.9M1031.6 84.0V88.1M1031.5 93.5V115.6M1031.6 127.4V159.8M1035.0 40.8V89.0M1035.0 96.3V136.9M1034.9 147.3V151.9M953.9 355.7V406.4M953.8 411.4V470.8M953.9 474.7V481.2M957.2 355.4V362.0M957.2 366.7V382.5M957.2 386.3V386.4M957.1 392.5V422.8M957.1 427.0V443.0M957.1 448.4V481.2M960.6 355.2V385.6M960.7 391.6V398.6M960.7 407.2V408.4M960.5 413.1V415.1M960.5 421.8V446.7M960.7 451.5V473.9M960.5 478.3V481.2M964.0 355.0V366.6M963.9 370.9V374.8M964.0 378.5V383.3M964.0 388.2V392.7M964.0 397.4V476.8M967.4 354.7V359.6M967.3 363.5V367.6M967.4 373.5V448.5M967.4 453.0V465.2M967.3 471.0V481.2M970.9 354.5V354.6M970.8 360.8V370.4M970.8 378.9V390.2M970.8 394.4V412.2M970.7 418.4V481.2M974.2 354.3V388.7M974.3 394.5V403.6M974.1 408.8V420.1M974.3 423.9V474.1M974.2 477.7V481.2M977.6 354.0V403.6M977.6 408.7V467.0M977.6 471.9V480.8M983.9 357.9V385.9M983.9 395.1V412.8M983.8 416.5V473.5M983.9 477.6V483.2M987.3 358.0V403.4M987.1 408.7V483.2M990.6 358.1V358.6M990.5 364.1V366.7M990.6 370.7V391.4M990.7 401.7V411.6M990.6 416.3V427.2M990.7 431.3V483.2M993.9 358.2V362.6M993.9 367.0V396.4M993.9 401.5V426.6M994.0 431.3V465.8M994.0 470.5V483.2M997.5 358.4V421.5M997.3 429.9V448.0M997.4 452.0V462.6M997.5 466.2V483.2M1000.8 360.0V371.8M1000.8 377.0V405.7M1000.9 415.5V483.2M1004.2 358.6V369.0M1004.3 377.1V411.7M1004.2 418.6V483.2M1010.8 396.8V397.7M1010.8 403.4V409.3M1010.7 416.8V424.5M1010.7 460.7V465.0M1014.2 407.9V410.6M1014.3 447.4V447.6M1014.1 452.6V453.5M1017.6 405.7V406.6M1017.6 423.0V423.3M1017.6 442.6V443.3M1017.7 450.9V452.3M1020.8 373.8V384.9M1020.8 392.9V421.3M1020.9 430.1V440.4M1020.8 445.6V448.2M1020.7 452.2V474.9M1024.1 373.8V400.8M1024.1 407.0V416.5M1024.2 424.5V425.2M1024.3 429.0V467.1M1024.2 470.8V483.3M1027.7 373.8V382.2M1027.7 386.3V389.3M1027.6 393.2V397.3M1027.7 402.0V405.6M1027.6 410.9V441.7M1027.7 451.7V456.7M1027.7 462.8V484.2M1031.0 373.8V412.4M1031.1 416.3V465.3M1030.9 471.9V484.2M1034.5 373.8V439.2M1034.4 443.3V466.3M1034.3 471.3V474.9M1034.4 480.2V484.2" stroke="#000" stroke-width="3.9" stroke-linecap="round" fill="none"/>
<path d="" stroke="#fff" stroke-width="2.2" stroke-linecap="round" fill="none"/>
<path d="M966.6 63L966.6 128.7M980.8 60L980.8 170M896.2 58L896.2 190M896.2 340L896.2 470M980.8 360L980.8 480" stroke="#fff" stroke-width="2" fill="none"/>
</g>
<path d="M209.2 845.0h0M208.2 852.5h0M206.8 860.5h0M206.5 858.0h0M217.5 766.4h0M217.9 765.2h0M220.9 769.4h0M218.2 770.1h0M217.8 766.2h0M220.4 768.1h0M217.4 770.9h0M217.9 765.1h0M219.0 783.3h0M218.5 806.3h0M218.2 810.1h0M230.2 758.8h0M230.3 765.8h0M231.1 769.0h0M230.6 772.4h0M230.1 774.4h0M231.0 791.9h0M248.7 727.3h0M249.3 744.8h0M248.6 755.5h0M249.5 764.1h0M248.9 772.6h0M248.4 777.5h0M248.7 788.2h0M248.7 797.3h0M249.1 811.8h0M248.6 824.6h0M248.5 838.4h0M249.1 860.4h0M249.1 871.4h0M273.0 754.5h0M256.0 762.3h0M266.2 737.3h0M259.4 774.3h0M266.2 745.8h0M262.8 836.9h0M269.6 800.1h0M259.4 734.2h0M256.0 839.2h0M269.6 845.5h0M256.0 806.3h0M266.2 817.7h0M262.8 849.9h0M256.0 795.5h0M269.6 838.0h0M269.6 814.4h0M273.0 839.8h0M262.8 812.2h0M273.0 834.5h0M262.8 824.9h0M273.0 798.7h0M269.6 775.9h0M266.2 803.1h0M256.0 806.7h0M269.6 776.6h0M269.6 799.7h0M266.2 830.6h0M256.0 820.0h0M256.0 802.2h0M266.2 757.6h0M269.6 789.7h0M269.6 840.5h0M262.8 731.4h0M262.8 811.4h0M259.4 750.4h0M273.0 809.2h0M266.2 837.0h0M262.8 809.9h0M259.4 781.7h0M273.0 839.7h0M273.0 776.1h0M266.2 768.0h0M259.4 789.6h0M273.0 831.8h0M269.6 844.0h0M278.2 746.2h0M279.6 746.9h0M277.7 747.9h0M281.0 748.5h0M278.5 750.9h0M283.9 748.2h0M276.6 745.2h0M283.0 745.3h0M281.7 749.0h0M278.5 750.5h0M285.0 745.2h0M291.4 732.8h0M297.8 756.6h0M288.2 735.3h0M294.6 780.0h0M294.6 803.4h0M297.8 837.3h0M294.6 752.3h0M291.4 750.0h0M285.0 782.9h0M294.6 750.1h0M288.2 768.7h0M294.6 788.3h0M294.6 814.7h0M291.4 818.7h0M297.8 739.8h0M297.8 810.9h0M288.2 780.8h0M294.6 831.9h0M291.4 793.7h0M297.8 819.2h0M297.8 781.9h0M294.6 752.9h0M294.6 821.7h0M294.6 810.4h0M288.2 830.8h0M294.6 818.6h0M291.4 831.9h0M297.8 769.0h0M285.0 779.4h0M294.6 816.0h0M291.4 733.2h0M297.8 737.2h0M297.8 749.4h0M291.4 818.2h0M288.2 746.7h0M291.4 811.0h0M297.8 807.2h0M297.8 785.2h0M297.8 739.6h0M299.7 735.0h0M302.8 736.0h0M306.1 736.5h0M309.3 737.3h0M311.8 737.9h0M312.3 738.4h0M314.2 740.1h0M317.5 741.5h0M319.6 743.0h0M322.0 745.0h0M322.1 744.5h0M325.1 747.3h0M327.2 750.0h0M330.1 752.0h0M300.2 759.6h0M301.3 763.7h0M303.0 767.9h0M303.5 771.2h0M304.6 774.9h0M305.3 775.4h0M307.3 778.2h0M309.4 781.8h0M312.4 784.6h0M312.3 784.5h0M315.0 786.4h0M318.9 788.2h0M321.9 790.1h0M321.6 790.2h0M325.0 788.7h0M328.4 787.0h0M332.0 785.9h0M295.9 744.9h0M299.5 745.9h0M302.7 747.6h0M306.6 748.8h0M310.4 750.1h0M310.4 749.7h0M312.9 753.6h0M315.7 756.5h0M317.8 760.4h0M317.7 760.5h0M320.1 762.6h0M321.2 766.2h0M323.0 768.6h0M325.3 771.9h0M331.6 735.3h0M316.1 776.7h0M300.7 740.9h0M327.3 793.4h0M338.7 734.5h0M320.2 782.1h0M320.1 776.7h0M307.6 731.2h0M304.2 728.8h0M322.1 764.1h0M322.7 736.8h0M307.4 741.1h0M333.6 799.3h0M337.1 733.0h0M302.5 796.4h0M318.5 782.6h0M313.1 760.6h0M320.6 757.8h0M324.0 727.0h0M328.0 788.5h0M307.3 759.6h0M329.6 756.0h0M307.8 738.2h0M320.5 727.1h0M335.7 785.3h0M328.2 789.7h0M325.2 755.9h0M324.0 763.3h0M339.3 785.6h0M310.3 793.4h0M329.8 783.6h0M332.6 756.0h0M335.9 791.1h0M327.8 782.8h0M330.6 756.0h0M328.9 731.2h0M313.7 760.7h0M300.4 752.3h0M325.5 772.2h0M309.3 795.9h0M326.6 751.0h0M326.4 768.1h0M321.3 754.8h0M340.0 773.5h0M328.1 782.4h0M339.2 727.7h0M324.6 780.7h0M310.3 755.7h0M302.0 740.5h0M315.0 733.3h0M310.0 793.0h0M322.0 763.6h0M338.7 768.0h0M339.8 773.2h0M332.4 731.6h0M323.9 782.2h0M301.8 794.8h0M306.4 760.9h0M306.8 762.7h0M324.4 730.3h0M337.8 757.1h0M321.1 770.2h0M314.6 747.1h0M326.2 767.5h0M311.3 779.0h0M309.8 729.2h0M306.3 781.8h0M315.6 792.4h0M329.9 729.7h0M339.6 795.9h0M324.0 788.6h0M330.4 759.5h0M333.6 790.7h0M336.8 758.8h0M333.6 734.8h0M333.6 758.0h0M327.2 730.5h0M333.6 735.5h0M330.4 772.4h0M330.4 744.8h0M333.6 755.5h0M336.8 763.1h0M336.8 743.2h0M327.2 787.7h0M336.8 769.5h0M330.4 745.5h0M333.6 765.4h0M333.6 770.1h0M336.8 739.9h0M327.2 793.6h0M324.0 731.1h0M327.2 755.9h0M333.6 734.0h0M333.6 731.9h0M324.0 773.0h0M314.1 824.1h0M319.4 824.0h0M324.7 823.8h0M325.2 824.3h0M328.9 823.6h0M334.0 824.1h0M338.3 823.7h0M332.7 847.0h0M336.9 850.0h0M335.2 866.7h0M331.6 854.8h0M336.2 864.9h0M332.7 850.0h0M329.1 863.6h0M328.9 842.2h0M323.8 877.7h0M324.4 874.4h0M324.9 870.4h0M322.1 880.9h0M372.2 774.8h0M370.1 778.4h0M368.6 782.0h0M367.0 786.6h0M365.3 789.6h0M364.8 790.2h0M362.8 793.7h0M361.5 798.0h0M359.8 801.6h0M357.8 805.3h0M357.9 805.4h0M355.6 809.1h0M353.7 812.5h0M352.0 815.9h0M350.3 819.8h0M349.8 819.6h0M347.6 823.5h0M345.7 826.9h0M343.4 830.1h0M340.9 834.0h0M215.6 1009.8h0M215.5 1008.9h0M214.9 1002.9h0M214.7 1005.7h0M214.7 1000.9h0M235.6 1001.0h0M236.7 1000.1h0M244.9 1010.6h0M243.4 989.2h0M237.6 983.3h0M241.3 996.3h0M236.3 980.8h0M235.2 991.8h0M237.7 1021.6h0M241.6 992.1h0M237.3 986.9h0M244.2 996.2h0M242.2 1012.6h0M243.9 980.9h0M236.9 997.3h0M234.0 1019.7h0M236.9 1014.7h0M239.2 982.5h0M237.7 990.7h0M233.5 986.8h0M240.1 981.4h0M236.7 999.1h0M249.1 902.6h0M249.2 917.8h0M249.3 930.2h0M248.6 944.7h0M248.7 960.2h0M248.9 974.9h0M249.4 989.7h0M248.8 1004.8h0M248.7 1017.5h0M248.4 1030.1h0M249.1 1045.3h0M327.6 919.0h0M298.0 954.4h0M254.0 941.3h0M297.7 956.4h0M317.2 915.4h0M294.4 907.1h0M274.5 924.4h0M238.8 923.9h0M264.8 930.3h0M260.1 911.0h0M272.0 929.1h0M249.2 939.9h0M256.3 907.3h0M266.2 926.1h0M247.6 935.2h0M301.0 933.5h0M300.9 903.3h0M271.0 922.8h0M239.1 925.0h0M238.3 930.2h0M289.8 928.7h0M264.6 916.4h0M235.3 921.8h0M319.5 934.2h0M258.4 940.1h0M251.0 928.7h0M292.7 956.4h0M268.2 934.8h0M324.4 946.0h0M293.9 937.4h0M287.0 996.0h0M274.2 1032.8h0M322.2 993.0h0M322.2 962.4h0M264.6 1004.1h0M277.4 991.1h0M328.6 972.3h0M271.0 979.3h0M306.2 979.9h0M255.0 1007.4h0M283.8 980.3h0M293.4 1016.9h0M296.6 1014.6h0M296.6 1033.0h0M328.6 988.7h0M280.6 1037.9h0M277.4 1022.7h0M306.2 1020.1h0M328.6 1032.4h0M267.8 1014.3h0M290.2 1009.2h0M283.8 984.4h0M312.6 1006.5h0M274.2 981.2h0M280.6 974.8h0M293.4 970.2h0M258.2 965.1h0M261.4 1021.7h0M264.6 999.2h0M312.6 1001.8h0M267.8 1036.1h0M319.0 963.8h0M274.2 1004.2h0M315.8 993.9h0M309.4 981.4h0M309.4 988.1h0M280.6 1026.6h0M319.0 1032.7h0M296.6 996.4h0M309.4 1014.4h0M315.8 1030.3h0M264.6 992.5h0M306.2 979.6h0M267.8 960.2h0M299.8 1042.7h0M328.6 970.9h0M306.2 996.3h0M303.0 994.3h0M325.4 1047.0h0M258.2 1022.5h0M264.6 962.8h0M277.4 1024.1h0M328.6 969.7h0M280.6 961.4h0M296.6 1002.0h0M283.8 986.5h0M315.8 1033.6h0M277.4 993.9h0M299.8 1027.1h0M328.6 993.7h0M306.2 1007.6h0M315.8 972.1h0M267.8 968.5h0M325.4 981.4h0M290.2 969.7h0M280.6 960.7h0M296.6 971.8h0M303.0 983.4h0M271.0 1001.9h0M283.8 982.1h0M258.2 964.7h0M322.2 986.5h0M261.4 975.2h0M290.2 1047.7h0M271.0 1036.2h0M290.2 995.9h0M315.8 994.2h0M258.2 1008.0h0M303.0 1014.5h0M274.2 1042.6h0M319.0 1047.5h0M287.0 1033.2h0M309.4 974.7h0M258.2 974.0h0M264.6 965.6h0M280.6 1026.1h0M277.4 1004.8h0M255.0 977.7h0M325.4 960.0h0M293.4 1031.1h0M315.8 1024.5h0M283.8 1030.5h0M315.8 1027.3h0M328.6 968.0h0M325.4 994.8h0M309.4 981.3h0M322.2 961.1h0M299.8 979.2h0M283.8 991.9h0M303.0 1031.2h0M283.8 1015.8h0M280.6 983.9h0M322.2 987.6h0M261.4 988.8h0M309.4 977.8h0M309.4 1007.6h0M306.2 974.8h0M261.4 971.7h0M280.6 997.3h0M255.0 1003.7h0M283.8 987.6h0M296.6 1043.8h0M271.0 1037.4h0M280.6 1026.1h0M264.6 1046.9h0M287.0 1044.7h0M271.0 995.3h0M309.4 974.8h0M274.2 1019.3h0M325.4 987.7h0M267.8 990.8h0M328.6 972.2h0M303.0 992.7h0M303.0 977.9h0M299.8 1038.0h0M319.0 1014.9h0M293.4 1009.5h0M264.6 1033.5h0M306.2 999.3h0M306.2 996.3h0M283.8 979.5h0M299.8 1010.0h0M293.4 961.9h0M303.0 998.8h0M299.8 1011.9h0M325.4 972.5h0M290.2 1047.4h0M309.4 986.9h0M309.4 1047.1h0M283.8 1036.2h0M264.6 1047.1h0M293.4 979.8h0M319.0 1016.8h0M325.4 1032.8h0M315.8 1004.5h0M328.6 964.8h0M319.0 1022.3h0M274.2 1030.8h0M290.2 1006.7h0M319.0 976.4h0M261.8 1026.5h0M264.9 1026.3h0M269.0 1026.1h0M271.7 1026.3h0M272.4 1026.3h0M275.3 1026.2h0M278.8 1025.2h0M281.6 1024.9h0M284.5 1024.8h0M285.4 1016.3h0M288.4 1016.2h0M292.4 1017.3h0M296.4 1017.9h0M299.6 1018.5h0M299.7 1018.1h0M304.1 1018.7h0M307.2 1019.2h0M311.2 1019.0h0M314.8 1019.8h0M315.1 1019.8h0M318.8 1018.9h0M322.0 1017.0h0M326.2 1016.0h0M340.6 942.8h0M342.2 946.3h0M344.2 949.7h0M346.1 953.2h0M347.6 956.9h0M349.6 960.0h0M350.0 959.9h0M351.4 962.9h0M353.2 966.5h0M355.0 969.7h0M356.9 973.3h0M357.8 976.6h0M360.5 979.5h0M360.1 980.5h0M361.3 983.7h0M362.8 987.0h0M364.6 990.9h0M365.7 994.4h0M367.4 998.3h0M368.5 1001.2h0M712.5 741.1h0M735.9 743.8h0M728.4 745.5h0M749.5 745.7h0M718.0 740.0h0M724.8 743.0h0M729.3 747.0h0M722.8 741.0h0M724.9 745.3h0M733.2 750.7h0M712.2 744.9h0M700.9 748.8h0M709.6 749.1h0M742.3 742.8h0M748.4 745.5h0M720.7 746.1h0M750.9 745.4h0M724.0 743.2h0M744.8 745.5h0M715.9 742.2h0M708.5 749.2h0M742.6 750.8h0M749.2 747.5h0M742.3 747.8h0M743.0 748.8h0M706.2 749.0h0M713.6 742.7h0M749.3 740.3h0M725.7 743.8h0M741.9 746.7h0M748.8 750.3h0M733.4 740.7h0M734.7 741.2h0M753.0 749.6h0M714.0 742.0h0M736.3 748.3h0M753.1 746.9h0M703.3 748.0h0M699.4 749.5h0M740.6 748.6h0M746.7 746.3h0M750.7 747.0h0M724.5 744.2h0M716.5 740.3h0M705.3 748.8h0M709.3 747.2h0M741.0 747.6h0M725.9 743.5h0M711.8 742.1h0M733.6 747.5h0M750.6 743.6h0M749.8 750.0h0M712.9 750.5h0M731.9 750.6h0M740.9 743.7h0M712.2 745.7h0M724.3 740.4h0M746.0 745.9h0M723.4 748.2h0M710.5 742.2h0M729.7 742.7h0M715.0 740.8h0M699.0 743.9h0M726.6 750.4h0M733.1 744.6h0M719.6 742.6h0M723.5 750.5h0M703.1 744.8h0M735.8 748.4h0M728.2 747.1h0M750.4 749.9h0M710.6 746.0h0M753.8 745.8h0M707.0 748.4h0M699.3 741.7h0M728.0 743.0h0M737.7 748.0h0M714.5 748.4h0M733.6 747.8h0M722.5 744.8h0M705.0 789.3h0M702.0 737.2h0M717.0 817.6h0M732.0 744.5h0M732.0 801.9h0M756.0 780.0h0M750.0 815.9h0M747.0 734.0h0M753.0 744.6h0M699.0 789.1h0M696.0 737.4h0M729.0 788.4h0M765.0 790.8h0M744.0 768.7h0M777.0 743.5h0M720.0 756.5h0M768.0 793.6h0M729.0 779.4h0M768.0 761.2h0M732.0 775.2h0M732.0 786.4h0M723.0 808.5h0M729.0 767.2h0M759.0 786.7h0M732.0 776.5h0M759.0 779.8h0M720.0 821.4h0M750.0 784.1h0M750.0 757.2h0M759.0 797.6h0M777.0 772.1h0M753.0 730.2h0M729.0 826.9h0M717.0 807.1h0M714.0 779.4h0M777.0 753.4h0M771.0 735.7h0M765.0 778.5h0M744.0 819.9h0M744.0 760.5h0M753.0 800.4h0M708.0 828.7h0M723.0 821.7h0M774.0 763.4h0M744.0 796.2h0M738.0 749.5h0M750.0 765.3h0M762.0 782.2h0M708.0 806.2h0M735.0 796.3h0M777.0 801.5h0M774.0 773.5h0M759.0 737.7h0M720.0 817.3h0M726.0 763.3h0M726.0 797.3h0M699.0 776.3h0M750.0 747.2h0M774.0 760.2h0M711.0 743.2h0M702.0 830.4h0M756.0 762.1h0M735.0 817.7h0M699.0 833.6h0M765.0 755.3h0M714.0 789.1h0M723.0 785.0h0M762.0 801.5h0M714.0 756.7h0M747.0 747.4h0M774.0 772.0h0M732.0 783.6h0M753.0 750.1h0M726.0 819.1h0M714.0 841.9h0M768.0 757.2h0M726.0 757.5h0M756.0 734.1h0M753.0 736.1h0M765.0 798.1h0M744.0 740.3h0M699.0 773.5h0M768.0 736.1h0M705.0 730.7h0M753.0 750.8h0M717.0 814.0h0M753.0 769.6h0M735.0 765.3h0M741.0 773.9h0M726.0 760.1h0M720.0 761.7h0M696.0 768.0h0M744.0 762.7h0M705.0 837.1h0M735.0 794.0h0M759.0 808.3h0M750.0 817.3h0M738.0 781.3h0M729.0 793.0h0M735.0 796.2h0M768.0 756.9h0M699.0 766.8h0M699.0 830.7h0M747.0 764.8h0M711.0 840.1h0M732.0 779.3h0M765.0 737.6h0M741.0 794.4h0M720.0 839.2h0M696.0 747.1h0M729.0 810.5h0M705.0 800.6h0M774.0 784.2h0M759.0 804.4h0M744.0 750.3h0M750.0 756.0h0M732.0 798.1h0M723.0 802.5h0M747.0 730.3h0M714.0 812.7h0M714.0 737.4h0M759.0 771.1h0M774.0 800.1h0M705.0 810.2h0M717.0 833.1h0M702.0 732.4h0M762.0 746.1h0M714.0 731.9h0M708.0 789.1h0M774.0 769.4h0M717.0 834.8h0M711.0 809.9h0M699.0 800.6h0M726.0 834.3h0M717.0 820.2h0M711.0 791.9h0M774.0 759.0h0M750.0 736.5h0M711.0 758.6h0M720.0 837.0h0M750.0 809.0h0M726.0 820.5h0M735.0 735.6h0M735.0 777.5h0M741.0 734.3h0M699.0 854.8h0M726.0 770.6h0M708.0 804.4h0M771.0 751.3h0M738.0 792.5h0M759.0 800.9h0M717.0 752.5h0M756.0 738.1h0M711.0 788.3h0M765.0 807.9h0M756.0 734.7h0M765.0 747.1h0M708.0 732.8h0M699.0 841.1h0M726.0 739.2h0M699.0 837.2h0M699.0 742.5h0M720.0 752.6h0M705.0 753.9h0M750.0 749.7h0M711.0 797.1h0M726.0 747.3h0M744.0 793.5h0M729.0 789.2h0M699.0 807.3h0M711.0 771.3h0M696.0 842.5h0M744.0 778.6h0M708.0 777.5h0M753.0 776.0h0M699.0 764.7h0M720.0 824.8h0M771.0 752.0h0M759.0 742.5h0M768.0 774.7h0M771.0 802.4h0M774.0 746.5h0M729.0 800.8h0M708.0 828.7h0M702.0 809.1h0M720.0 769.6h0M747.0 752.7h0M777.0 761.9h0M726.0 817.5h0M711.0 837.5h0M711.0 799.8h0M723.0 763.5h0M702.0 820.4h0M714.0 790.1h0M774.0 782.3h0M723.0 779.3h0M723.0 823.7h0M735.0 816.4h0M708.0 829.0h0M774.0 754.2h0M747.0 748.9h0M699.0 781.4h0M711.0 822.3h0M744.0 815.0h0M705.0 732.6h0M753.0 798.7h0M765.0 776.0h0M705.0 810.8h0M699.0 757.6h0M699.0 748.8h0M702.0 796.6h0M708.0 805.8h0M765.0 772.4h0M705.0 814.6h0M741.0 803.1h0M777.0 765.0h0M759.0 809.6h0M735.0 729.4h0M735.0 762.0h0M744.0 793.7h0M738.0 735.6h0M708.0 806.3h0M762.0 765.4h0M732.0 793.2h0M762.0 778.9h0M771.0 790.4h0M729.0 789.9h0M699.0 779.6h0M702.0 815.5h0M708.0 747.2h0M732.0 805.7h0M759.0 785.3h0M720.0 775.5h0M768.0 755.5h0M696.0 842.3h0M735.0 745.1h0M708.0 842.9h0M756.0 736.3h0M750.0 755.6h0M732.0 806.1h0M699.0 848.7h0M723.0 746.6h0M759.0 742.1h0M699.0 812.1h0M762.0 754.6h0M699.0 805.8h0M735.0 766.8h0M771.0 754.9h0M750.0 737.5h0M747.0 769.3h0M762.0 733.3h0M738.0 746.1h0M768.0 760.1h0M741.0 769.0h0M711.0 823.9h0M759.0 771.4h0M729.0 817.8h0M756.0 787.8h0M705.0 740.3h0M711.0 834.6h0M738.0 811.1h0M726.0 775.6h0M747.0 744.6h0M753.0 805.1h0M777.0 780.5h0M750.0 776.3h0M729.0 775.2h0M750.0 773.5h0M765.0 777.8h0M750.0 760.4h0M723.0 741.0h0M720.0 776.8h0M705.0 746.3h0M702.0 760.8h0M759.0 757.1h0M768.0 773.5h0M735.0 754.0h0M720.0 782.8h0M720.0 822.1h0M699.0 810.4h0M762.0 770.1h0M711.0 743.5h0M702.0 830.2h0M744.0 730.0h0M732.0 805.2h0M723.0 732.5h0M732.0 773.6h0M777.0 774.4h0M744.0 744.2h0M762.0 739.6h0M741.0 740.5h0M705.0 781.0h0M750.0 789.0h0M708.0 796.4h0M729.0 794.5h0M765.0 739.9h0M708.0 734.1h0M720.0 784.6h0M735.0 800.8h0M720.0 828.5h0M709.0 838.0h0M712.1 839.4h0M714.8 840.1h0M717.4 841.4h0M699.8 739.8h0M705.4 737.4h0M708.1 736.9h0M698.8 762.6h0M701.8 764.0h0M704.2 765.6h0M707.0 767.6h0M711.9 770.6h0M714.6 772.5h0M709.7 767.8h0M715.1 765.6h0M717.7 763.9h0M723.4 761.3h0M725.9 760.1h0M728.5 759.1h0M731.4 758.0h0M733.8 756.7h0M739.1 753.7h0M742.2 752.7h0M707.9 785.0h0M715.7 790.0h0M718.1 791.3h0M720.7 793.3h0M723.2 794.6h0M735.8 803.7h0M709.2 785.2h0M715.1 785.6h0M718.4 785.4h0M721.1 785.2h0M729.3 795.8h0M731.7 797.0h0M735.0 798.0h0M737.3 799.8h0M740.4 800.8h0M757.1 728.6h0M743.7 820.5h0M746.6 819.0h0M748.8 818.0h0M706.9 781.3h0M709.5 780.6h0M712.8 780.8h0M718.6 780.0h0M727.9 779.5h0M722.6 763.4h0M732.1 763.8h0M735.1 763.9h0M737.6 764.0h0M741.1 763.7h0M743.3 791.1h0M745.9 792.1h0M748.6 794.2h0M750.9 795.5h0M753.8 796.9h0M758.8 800.4h0M764.4 804.6h0M766.6 806.5h0M734.7 823.0h0M738.0 823.4h0M741.2 824.0h0M767.2 787.2h0M772.1 784.3h0M774.7 782.5h0M777.0 781.0h0M712.1 763.5h0M715.4 764.1h0M717.9 764.9h0M729.6 767.1h0M732.5 767.6h0M696.4 769.6h0M699.0 768.3h0M702.3 768.4h0M704.8 767.5h0M707.9 766.7h0M710.7 766.3h0M713.5 765.7h0M740.6 760.8h0M743.4 759.1h0M745.7 758.2h0M754.1 754.6h0M756.8 753.4h0M762.9 750.6h0M765.2 749.4h0M742.4 818.3h0M748.1 817.4h0M750.9 816.2h0M783.3 728.2h0M789.6 741.9h0M794.4 734.1h0M784.3 732.3h0M783.1 727.7h0M787.9 737.1h0M786.2 749.8h0M785.4 746.9h0M788.5 729.5h0M781.4 741.6h0M793.2 728.2h0M790.8 732.6h0M790.6 747.0h0M791.2 732.9h0M783.2 750.2h0M793.8 749.2h0M788.6 728.2h0M786.2 748.8h0M781.9 734.1h0M781.6 748.1h0M786.0 729.0h0M786.0 731.9h0M787.1 741.8h0M790.2 729.3h0M788.5 728.3h0M787.2 746.4h0M784.7 746.7h0M784.4 736.4h0M792.1 727.1h0M788.8 739.9h0M791.6 727.4h0M791.5 730.3h0M790.9 734.2h0M791.0 737.9h0M790.8 741.6h0M791.2 744.5h0M790.8 749.0h0M791.7 752.6h0M791.2 756.3h0M790.9 759.6h0M791.8 762.7h0M790.7 766.2h0M790.8 770.5h0M791.4 773.8h0M790.8 777.5h0M790.9 780.6h0M791.4 784.7h0M791.7 788.5h0M790.9 791.6h0M790.9 795.4h0M790.7 799.4h0M791.5 802.9h0M798.0 727.4h0M798.4 730.9h0M798.4 733.9h0M797.8 737.4h0M798.3 741.4h0M798.6 744.8h0M797.9 749.0h0M798.6 752.5h0M798.5 756.2h0M797.7 759.5h0M797.5 763.2h0M798.5 766.6h0M797.6 770.3h0M797.5 773.8h0M797.5 777.3h0M798.4 781.2h0M798.4 784.6h0M797.9 787.8h0M798.3 791.9h0M797.9 795.0h0M798.0 798.6h0M797.5 802.2h0M806.4 726.9h0M812.4 733.5h0M813.0 732.7h0M802.4 728.9h0M812.6 733.2h0M809.7 733.9h0M800.7 727.8h0M806.5 736.8h0M814.2 733.3h0M803.9 725.7h0M808.4 730.7h0M814.0 727.9h0M803.1 725.2h0M800.4 736.3h0M813.1 727.2h0M800.2 733.1h0M803.7 733.6h0M813.7 735.5h0M804.2 733.5h0M804.3 735.6h0M803.9 737.2h0M810.2 737.5h0M805.2 738.4h0M808.7 728.6h0M809.7 729.3h0M801.7 725.6h0M809.2 728.4h0M801.5 735.9h0M802.1 735.6h0M804.1 730.1h0M814.0 736.6h0M812.5 738.7h0M809.1 738.1h0M809.3 733.2h0M804.9 730.3h0M833.2 748.8h0M815.9 750.2h0M828.9 755.7h0M832.5 752.0h0M834.4 752.4h0M836.7 752.4h0M832.7 748.7h0M819.0 751.1h0M824.4 752.6h0M831.6 751.2h0M820.7 755.1h0M817.7 748.6h0M823.9 748.3h0M821.2 746.9h0M831.8 748.0h0M835.6 752.9h0M835.0 751.5h0M834.6 749.4h0M829.8 753.9h0M821.9 754.4h0M834.7 752.3h0M839.6 749.3h0M826.9 751.0h0M838.5 754.3h0M846.4 751.7h0M827.3 747.0h0M815.6 752.8h0M838.0 753.1h0M840.1 751.0h0M838.7 752.9h0M835.3 752.3h0M836.3 752.4h0M817.9 753.8h0M837.5 750.9h0M846.0 751.5h0M820.3 751.9h0M826.5 747.9h0M817.8 755.9h0M815.2 757.2h0M844.1 751.2h0M835.4 751.3h0M820.2 750.1h0M829.1 756.0h0M818.7 752.2h0M830.1 752.4h0M840.4 752.9h0M834.2 749.1h0M816.5 753.5h0M830.6 749.3h0M820.1 748.7h0M829.0 750.9h0M834.2 749.1h0M834.8 751.4h0M832.5 749.9h0M823.1 754.2h0M829.0 753.9h0M823.2 755.9h0M823.5 756.0h0M829.0 750.6h0M833.5 752.0h0M832.5 752.4h0M815.5 746.6h0M815.9 748.0h0M830.8 755.7h0M815.6 747.9h0M815.4 746.6h0M825.1 751.6h0M842.3 752.8h0M822.7 750.3h0M830.3 747.3h0M844.6 751.6h0M821.4 751.7h0M822.7 748.2h0M831.2 753.9h0M822.3 753.9h0M833.8 754.6h0M846.9 751.2h0M831.3 748.0h0M817.7 753.4h0M818.3 746.4h0M817.7 752.2h0M821.3 749.0h0M839.5 751.1h0M819.7 753.8h0M829.2 752.2h0M819.1 751.8h0M820.9 752.5h0M828.9 755.4h0M845.2 751.2h0M839.6 751.7h0M827.8 774.1h0M837.0 780.5h0M831.8 781.8h0M827.5 795.5h0M815.2 785.9h0M831.4 774.9h0M838.4 778.4h0M827.9 778.2h0M834.1 784.2h0M836.9 784.0h0M840.1 788.2h0M818.4 786.2h0M823.1 779.8h0M845.3 785.8h0M838.6 775.1h0M835.1 773.9h0M822.1 774.2h0M815.8 799.9h0M815.4 794.2h0M822.5 795.7h0M839.6 777.7h0M831.3 796.4h0M834.3 787.3h0M820.9 772.2h0M821.0 787.3h0M834.1 785.2h0M835.4 788.6h0M835.7 783.6h0M841.9 787.5h0M837.1 788.2h0M822.9 773.4h0M836.2 778.2h0M834.6 788.1h0M834.4 784.2h0M822.7 780.0h0M825.2 780.4h0M829.3 784.2h0M835.2 794.9h0M829.4 784.7h0M835.8 780.4h0M841.5 783.8h0M832.8 787.2h0M823.9 785.7h0M840.3 779.2h0M815.6 799.1h0M817.2 779.8h0M820.7 786.6h0M818.0 782.5h0M830.9 797.0h0M824.3 792.0h0M819.5 778.5h0M816.9 789.2h0M833.8 793.5h0M828.4 800.9h0M838.1 788.8h0M824.3 788.2h0M845.2 785.4h0M821.6 795.2h0M835.1 798.2h0M832.6 778.4h0M830.1 785.4h0M826.3 789.2h0M819.8 778.4h0M818.8 770.9h0M831.8 794.3h0M827.9 799.8h0M834.5 791.7h0M824.2 799.7h0M826.1 797.9h0M822.8 801.4h0M836.9 775.9h0M838.4 775.1h0M827.3 782.5h0M825.7 781.9h0M820.1 783.2h0M818.0 796.3h0M826.3 793.5h0M844.8 783.6h0M826.7 780.8h0M828.5 786.0h0M841.9 790.9h0M819.7 792.0h0M822.5 790.4h0M829.4 779.0h0M824.9 801.6h0M826.1 778.0h0M832.1 792.1h0M825.5 793.9h0M830.9 792.8h0M816.6 775.9h0M824.7 776.0h0M824.2 773.8h0M815.8 787.3h0M839.3 775.3h0M818.0 794.0h0M817.5 774.6h0M830.7 779.8h0M840.1 786.7h0M831.7 782.3h0M815.9 797.1h0M827.5 797.3h0M818.4 784.3h0M832.3 775.1h0M817.4 800.9h0M832.4 794.2h0M834.2 785.8h0M820.5 791.2h0M829.2 792.4h0M816.3 779.7h0M818.6 795.2h0M830.3 779.4h0M840.0 787.2h0M824.3 783.0h0M815.1 772.0h0M816.2 801.7h0M843.1 788.0h0M845.1 787.8h0M829.0 790.2h0M828.1 791.5h0M826.0 791.6h0M821.7 786.2h0M828.7 787.4h0M816.8 778.0h0M837.9 775.5h0M834.5 794.2h0M827.4 783.1h0M830.0 779.0h0M832.8 794.2h0M842.6 786.7h0M834.7 786.2h0M831.4 783.6h0M820.7 776.5h0M840.4 787.0h0M816.2 790.3h0M841.6 791.5h0M820.8 801.4h0M820.8 786.8h0M829.7 775.5h0M823.5 776.1h0M820.4 771.4h0M835.7 792.0h0M823.1 801.4h0M828.5 785.1h0M829.9 794.7h0M838.7 780.2h0M817.2 794.2h0M838.9 789.8h0M818.7 794.6h0M820.6 796.3h0M834.9 791.0h0M817.4 782.0h0M816.2 783.6h0M842.3 790.8h0M822.4 772.7h0M837.4 776.8h0M820.5 780.6h0M820.1 794.2h0M839.4 778.8h0M817.4 798.2h0M833.1 772.8h0M838.7 791.4h0M841.6 795.1h0M829.8 784.7h0M835.4 796.0h0M823.7 799.6h0M843.1 781.4h0M815.9 789.8h0M832.9 793.9h0M839.3 775.6h0M836.3 784.5h0M821.9 779.1h0M826.6 794.2h0M832.7 780.6h0M816.8 796.0h0M824.0 785.3h0M824.5 797.2h0M821.5 770.5h0M829.4 771.7h0M815.9 790.0h0M834.3 787.9h0M817.3 788.5h0M831.7 780.0h0M822.1 775.1h0M830.5 782.1h0M833.7 792.2h0M823.8 790.0h0M823.3 794.6h0M821.5 789.6h0M838.6 796.4h0M826.5 778.8h0M835.0 774.2h0M820.7 773.1h0M835.8 782.8h0M832.0 781.2h0M825.3 771.7h0M818.5 798.8h0M839.8 785.0h0M830.1 791.4h0M815.8 800.3h0M825.8 792.4h0M817.5 772.6h0M817.8 796.0h0M832.0 773.0h0M839.9 786.7h0M840.0 790.9h0M833.1 775.6h0M819.6 772.7h0M828.8 779.5h0M818.3 800.5h0M822.0 789.6h0M833.7 783.2h0M826.2 774.6h0M837.3 782.3h0M834.2 797.0h0M817.4 784.0h0M826.3 800.8h0M834.9 776.5h0M831.5 772.3h0M819.4 786.8h0M832.2 777.0h0M833.7 780.3h0M841.9 784.8h0M820.5 779.6h0M835.1 773.1h0M828.1 772.4h0M821.0 775.9h0M832.5 791.1h0M819.6 777.2h0M834.3 777.9h0M815.9 792.9h0M842.4 777.0h0M824.9 789.8h0M834.7 790.7h0M832.7 777.7h0M822.6 772.8h0M816.8 789.2h0M817.8 798.9h0M815.2 782.6h0M826.6 780.2h0M817.1 778.0h0M867.5 751.2h0M868.2 751.6h0M869.1 750.8h0M869.2 750.8h0M870.4 783.8h0M868.6 783.4h0M867.7 786.5h0M866.1 780.5h0M867.5 781.5h0M869.0 784.1h0M695.0 880.0h0M709.9 884.5h0M711.3 886.3h0M697.7 891.6h0M718.4 877.2h0M709.8 889.7h0M709.7 887.1h0M707.2 898.7h0M715.9 885.4h0M714.5 891.0h0M714.3 899.0h0M696.7 880.1h0M700.6 894.6h0M717.2 880.4h0M706.7 896.3h0M712.3 889.1h0M716.4 897.2h0M697.2 898.2h0M702.0 889.7h0M713.1 882.1h0M702.4 896.7h0M714.0 898.4h0M697.3 890.0h0M712.7 898.0h0M712.4 881.7h0M697.4 879.2h0M701.2 888.7h0M702.7 878.6h0M697.1 891.5h0M714.6 878.0h0M707.3 898.5h0M703.7 887.8h0M714.5 875.6h0M716.0 893.6h0M712.7 883.2h0M706.8 897.6h0M696.5 877.0h0M710.4 897.9h0M698.6 879.5h0M706.0 893.9h0M764.7 893.1h0M723.2 875.6h0M766.4 895.5h0M726.4 871.4h0M744.5 883.8h0M746.0 874.5h0M725.0 892.5h0M796.2 892.1h0M793.5 872.8h0M768.9 881.9h0M787.6 890.7h0M768.7 902.8h0M796.4 873.2h0M754.4 871.2h0M764.4 876.5h0M775.6 881.5h0M719.6 901.8h0M729.2 878.2h0M761.1 870.2h0M781.5 895.2h0M728.5 891.6h0M729.4 888.2h0M726.6 878.7h0M755.5 888.7h0M772.0 903.2h0M746.2 881.3h0M735.9 896.0h0M748.7 876.1h0M734.6 884.0h0M786.7 884.6h0M784.9 885.9h0M766.1 877.7h0M752.2 895.5h0M725.8 885.3h0M739.5 879.0h0M746.4 875.5h0M765.7 869.5h0M738.3 878.0h0M733.7 899.7h0M774.6 901.7h0M729.8 875.1h0M744.4 887.3h0M786.6 899.7h0M788.7 868.7h0M721.2 880.8h0M753.7 868.2h0M747.4 872.9h0M789.8 876.0h0M744.8 874.6h0M787.7 872.3h0M754.6 876.4h0M738.9 905.8h0M776.9 896.0h0M747.8 905.1h0M797.2 892.2h0M697.0 921.8h0M696.3 923.9h0M698.2 914.3h0M707.0 1038.2h0M782.0 974.2h0M767.0 1018.5h0M746.0 978.1h0M722.0 1030.1h0M701.0 1000.3h0M698.0 1039.6h0M764.0 1017.6h0M725.0 984.2h0M761.0 1016.9h0M752.0 1038.4h0M713.0 980.6h0M722.0 991.6h0M776.0 1034.6h0M782.0 1020.1h0M731.0 990.4h0M704.0 1040.5h0M728.0 960.6h0M701.0 996.2h0M752.0 983.2h0M758.0 1005.4h0M740.0 992.5h0M731.0 1041.1h0M701.0 959.1h0M767.0 969.3h0M725.0 983.5h0M722.0 1023.3h0M704.0 998.5h0M758.0 972.7h0M761.0 974.1h0M722.0 999.1h0M749.0 987.4h0M698.0 996.5h0M713.0 1006.4h0M716.0 943.4h0M701.0 1006.9h0M773.0 1024.7h0M749.0 1037.3h0M779.0 1008.9h0M752.0 972.6h0M704.0 971.0h0M716.0 1007.8h0M755.0 1007.5h0M713.0 943.1h0M728.0 1042.0h0M737.0 1028.1h0M710.0 974.1h0M767.0 966.6h0M761.0 1003.8h0M728.0 964.8h0M758.0 989.8h0M752.0 978.4h0M719.0 966.4h0M716.0 1015.4h0M704.0 945.2h0M764.0 1012.3h0M704.0 945.7h0M725.0 988.7h0M707.0 1046.4h0M707.0 955.5h0M707.0 1009.9h0M770.0 969.6h0M764.0 1026.6h0M758.0 982.4h0M734.0 1036.8h0M758.0 989.6h0M779.0 1022.9h0M716.0 1016.2h0M779.0 983.5h0M725.0 967.9h0M713.0 1010.9h0M767.0 1009.9h0M722.0 979.8h0M767.0 1020.7h0M743.0 1020.9h0M767.0 994.2h0M755.0 1034.7h0M698.0 1016.9h0M770.0 1023.0h0M710.0 949.8h0M755.0 1006.7h0M710.0 1041.3h0M713.0 1032.3h0M758.0 997.8h0M776.0 984.9h0M731.0 959.3h0M770.0 969.9h0M725.0 1002.8h0M770.0 991.0h0M710.0 958.9h0M698.0 976.9h0M731.0 1033.8h0M761.0 974.4h0M764.0 1011.1h0M701.0 988.1h0M734.0 986.8h0M746.0 1014.9h0M731.0 994.1h0M770.0 1013.7h0M713.0 947.8h0M719.0 1046.6h0M731.0 1037.8h0M782.0 1015.9h0M728.0 1021.5h0M740.0 1008.3h0M755.0 1007.5h0M710.0 1000.1h0M734.0 1013.6h0M728.0 962.1h0M782.0 990.6h0M764.0 1035.4h0M731.0 985.8h0M710.0 1013.6h0M740.0 980.8h0M740.0 980.8h0M755.0 1003.0h0M698.0 991.2h0M716.0 1001.8h0M737.0 1023.4h0M782.0 1021.2h0M749.0 992.7h0M704.0 1019.7h0M713.0 977.1h0M746.0 963.2h0M773.0 997.4h0M737.0 970.2h0M746.0 1009.7h0M734.0 976.0h0M761.0 998.3h0M719.0 1043.0h0M743.0 1041.6h0M773.0 1030.2h0M749.0 993.1h0M722.0 951.0h0M734.0 1032.2h0M767.0 997.0h0M749.0 981.7h0M776.0 1032.2h0M710.0 1040.6h0M755.0 974.8h0M761.0 982.2h0M758.0 992.3h0M776.0 989.4h0M731.0 1017.9h0M740.0 964.9h0M722.0 961.6h0M719.0 999.7h0M773.0 1008.9h0M752.0 1023.5h0M731.0 983.0h0M707.0 1006.0h0M725.0 952.8h0M749.0 996.2h0M743.0 993.1h0M749.0 1025.5h0M761.0 1016.8h0M770.0 988.1h0M701.0 986.0h0M755.0 959.5h0M740.0 987.9h0M719.0 1008.0h0M728.0 972.7h0M707.0 1042.4h0M734.0 1001.3h0M716.0 1044.7h0M704.0 1015.7h0M701.0 995.6h0M734.0 1032.9h0M698.0 959.7h0M782.0 975.9h0M698.0 962.5h0M728.0 995.1h0M728.0 968.0h0M737.0 988.0h0M710.0 993.9h0M746.0 1000.7h0M761.0 986.1h0M713.0 1045.6h0M707.0 967.9h0M731.0 981.1h0M713.0 1035.6h0M722.0 997.5h0M743.0 1019.7h0M704.0 986.7h0M755.0 976.4h0M779.0 991.1h0M731.0 1015.6h0M770.0 991.2h0M773.0 1023.3h0M731.0 1017.1h0M776.0 1033.6h0M740.0 967.8h0M740.0 977.5h0M743.0 983.7h0M764.0 1010.9h0M719.0 955.1h0M716.0 970.7h0M734.0 992.3h0M719.0 966.8h0M749.0 1002.3h0M704.0 960.2h0M761.0 1020.8h0M728.0 1038.3h0M710.0 958.8h0M746.0 995.7h0M767.0 968.5h0M776.0 1007.8h0M758.0 1000.8h0M713.0 999.5h0M725.0 968.4h0M719.0 1024.7h0M758.0 1037.7h0M749.0 1038.0h0M743.0 992.5h0M731.0 999.8h0M776.0 1003.6h0M761.0 987.6h0M773.0 1024.4h0M740.0 967.7h0M743.0 982.9h0M749.0 965.4h0M776.0 989.6h0M776.0 997.4h0M743.0 983.8h0M779.0 999.4h0M743.0 975.2h0M737.0 963.8h0M734.0 963.0h0M701.0 975.4h0M698.0 1011.7h0M704.0 1041.0h0M722.0 964.0h0M743.0 966.4h0M761.0 967.9h0M701.0 1038.2h0M758.0 963.0h0M752.0 974.8h0M740.0 964.4h0M743.0 1009.8h0M746.0 999.9h0M773.0 989.3h0M731.0 980.3h0M782.0 1001.4h0M743.0 1025.5h0M749.0 994.0h0M755.0 962.8h0M761.0 1031.1h0M725.0 1043.0h0M704.0 1037.7h0M713.0 1019.9h0M743.0 953.9h0M773.0 996.1h0M695.0 979.1h0M695.0 1041.1h0M773.0 1018.2h0M695.0 1045.0h0M719.0 1010.1h0M764.0 998.9h0M704.0 960.8h0M728.0 1044.2h0M731.0 949.5h0M752.0 973.5h0M767.0 975.4h0M770.0 1031.3h0M710.0 997.4h0M776.0 972.5h0M755.0 988.0h0M737.0 957.5h0M710.0 1033.7h0M749.0 1021.7h0M761.0 979.8h0M743.0 967.8h0M755.0 983.3h0M764.0 966.4h0M698.0 957.1h0M698.0 982.5h0M728.0 1038.2h0M698.0 1050.7h0M704.0 1031.9h0M728.0 960.9h0M749.0 974.2h0M695.0 946.9h0M755.0 1018.4h0M764.0 972.6h0M740.0 964.8h0M731.0 1042.1h0M719.0 982.6h0M776.0 985.9h0M767.0 995.9h0M725.0 1018.5h0M755.0 977.2h0M770.0 1018.6h0M758.0 988.6h0M755.0 1036.2h0M731.0 1021.0h0M758.0 992.0h0M764.0 989.8h0M707.0 994.5h0M737.0 1032.4h0M695.0 1035.9h0M725.0 975.1h0M758.0 1000.7h0M722.0 949.9h0M734.0 1039.1h0M758.0 1014.5h0M707.0 1033.5h0M698.0 994.5h0M731.0 1042.6h0M752.0 958.4h0M701.0 988.4h0M743.0 987.8h0M728.0 1031.8h0M722.0 953.9h0M710.0 1045.0h0M773.0 980.2h0M725.0 975.7h0M779.0 1035.0h0M761.0 974.4h0M698.0 1011.0h0M719.0 1038.9h0M710.0 1012.1h0M719.0 968.6h0M764.0 1024.7h0M713.0 976.4h0M725.0 956.1h0M722.0 966.5h0M761.0 983.2h0M713.0 1008.3h0M764.0 1019.0h0M740.0 1018.8h0M761.0 1028.3h0M722.0 993.7h0M746.0 997.8h0M770.0 1034.0h0M710.0 1016.8h0M743.0 980.1h0M704.0 1041.5h0M725.0 971.0h0M704.0 976.6h0M728.0 981.2h0M701.0 947.1h0M779.0 998.4h0M716.0 985.6h0M728.0 990.0h0M710.0 1021.5h0M779.0 1007.3h0M782.0 1030.0h0M743.0 994.4h0M758.0 975.6h0M701.0 985.9h0M767.0 1013.0h0M698.0 1031.4h0M698.0 994.0h0M710.0 967.5h0M716.0 1005.7h0M758.0 1038.4h0M698.0 941.3h0M707.0 952.4h0M722.0 949.3h0M770.0 974.7h0M737.0 1026.3h0M710.0 991.9h0M698.0 989.9h0M779.0 999.9h0M722.0 1008.0h0M740.0 991.5h0M752.0 1017.4h0M782.0 1029.5h0M755.0 1028.2h0M713.0 955.0h0M770.0 983.9h0M698.0 1021.5h0M707.0 964.1h0M767.0 977.3h0M746.0 1014.1h0M716.0 1025.6h0M710.0 981.3h0M704.0 1001.8h0M710.0 974.9h0M782.0 985.1h0M703.8 945.9h0M709.0 943.9h0M696.8 1035.3h0M703.0 1034.3h0M773.5 997.5h0M781.5 993.2h0M784.2 991.8h0M710.0 1042.2h0M713.1 1042.7h0M716.0 1043.2h0M722.1 1043.3h0M725.3 1043.8h0M727.8 1044.2h0M730.9 1044.3h0M740.4 961.1h0M745.0 957.8h0M747.9 956.0h0M695.6 988.7h0M698.1 988.3h0M710.4 987.8h0M716.3 987.6h0M722.4 986.8h0M703.4 971.6h0M705.9 969.9h0M716.1 961.9h0M710.6 949.1h0M713.9 948.6h0M719.6 946.9h0M725.2 945.8h0M764.6 969.2h0M771.0 968.2h0M774.1 968.0h0M776.6 966.9h0M724.6 953.4h0M729.1 949.4h0M724.9 969.0h0M730.7 971.2h0M733.4 972.8h0M744.3 976.4h0M749.8 977.8h0M753.0 978.4h0M755.2 979.1h0M758.0 980.4h0M724.3 976.0h0M726.8 977.2h0M729.6 978.5h0M732.4 979.7h0M734.8 981.2h0M740.0 983.9h0M745.7 986.0h0M756.3 990.3h0M761.4 992.9h0M758.6 1032.5h0M766.7 1028.7h0M774.8 1025.5h0M779.9 1023.8h0M703.5 989.9h0M709.7 989.4h0M722.0 989.5h0M727.7 989.3h0M730.5 989.4h0M694.9 969.4h0M697.5 971.1h0M702.5 974.0h0M705.6 975.9h0M707.9 976.9h0M710.3 978.5h0M695.5 1035.3h0M698.4 1036.6h0M786.5 971.9h0M785.9 974.4h0M785.8 977.7h0M786.2 980.6h0M786.0 983.7h0M785.4 986.5h0M786.2 989.7h0M786.4 992.2h0M786.5 996.0h0M786.1 998.8h0M785.6 1001.2h0M785.7 1004.5h0M786.5 1007.4h0M786.5 1010.8h0M785.5 1013.0h0M786.6 1016.5h0M786.3 1019.9h0M785.8 1022.0h0M786.4 1025.9h0M785.9 1028.7h0M787.9 973.4h0M788.6 976.9h0M788.7 979.7h0M788.1 983.2h0M788.9 986.6h0M788.5 989.7h0M788.1 993.1h0M788.3 996.8h0M789.0 1000.0h0M788.2 1003.8h0M789.0 1006.7h0M788.3 1010.3h0M788.0 1013.4h0M788.6 1016.9h0M788.2 1020.9h0M788.5 1024.1h0M788.7 1027.6h0M795.2 972.0h0M794.2 975.3h0M794.1 978.3h0M794.4 981.9h0M794.3 985.6h0M795.1 989.8h0M794.7 993.1h0M795.0 996.8h0M794.2 1000.3h0M794.3 1003.9h0M795.3 1007.2h0M794.5 1011.2h0M794.9 1014.5h0M794.6 1018.3h0M795.2 1021.4h0M795.2 1025.6h0M795.2 1029.0h0M809.7 976.3h0M803.2 1011.1h0M804.8 1003.8h0M814.7 1006.2h0M810.0 1006.4h0M803.6 1029.8h0M805.6 976.3h0M806.3 998.1h0M802.9 998.8h0M800.9 1027.3h0M807.7 990.9h0M808.1 1007.9h0M805.7 1020.0h0M806.7 1026.3h0M811.4 1013.5h0M802.3 1014.1h0M814.7 1020.2h0M800.5 990.8h0M799.8 1012.0h0M813.3 1013.2h0M809.9 1005.1h0M810.9 1005.4h0M811.9 983.7h0M807.0 1010.0h0M800.8 1006.3h0M813.7 979.9h0M811.0 1015.0h0M813.3 1028.7h0M809.5 1008.2h0M807.0 999.5h0M808.9 993.8h0M811.9 1005.4h0M806.4 1003.6h0M810.6 1021.5h0M812.2 1014.4h0M801.6 979.7h0M807.5 979.3h0M807.0 1017.0h0M806.5 1023.6h0M805.3 1001.9h0M803.8 982.3h0M808.6 981.9h0M802.0 991.1h0M810.9 1029.4h0M803.1 988.4h0M814.5 1007.3h0M811.9 1030.6h0M809.8 988.8h0M814.7 1024.6h0M799.8 1028.8h0M809.7 987.9h0M807.0 991.8h0M811.6 997.2h0M801.1 1024.4h0M804.8 984.7h0M810.4 982.2h0M809.0 999.7h0M801.6 1028.1h0M810.3 978.1h0M813.5 1010.9h0M800.8 1018.0h0M803.7 1017.0h0M806.1 1016.4h0M814.5 1012.7h0M810.8 984.9h0M802.1 997.3h0M805.1 998.0h0M807.7 998.8h0M813.4 1001.2h0M802.3 1010.2h0M808.2 1010.6h0M811.2 1011.8h0M814.2 1012.3h0M803.2 1018.0h0M806.2 1017.4h0M804.5 976.1h0M805.9 1017.6h0M808.9 1018.8h0M811.8 1018.7h0M814.8 1019.3h0M805.4 1021.3h0M808.5 1022.6h0M811.2 1024.3h0M813.8 1025.0h0M802.1 1012.2h0M804.7 1012.6h0M808.2 1013.3h0M810.7 1013.5h0M814.1 1013.9h0M821.6 1051.0h0M835.8 1054.0h0M844.9 1052.8h0M820.0 1049.1h0M832.0 1052.2h0M816.0 1049.6h0M817.3 1051.2h0M817.9 1047.9h0M840.5 1051.5h0M824.5 1049.8h0M832.3 1048.0h0M834.1 1047.4h0M827.1 1051.3h0M835.7 1053.9h0M844.7 1051.8h0M818.5 1048.1h0M830.9 1051.6h0M815.3 1052.6h0M827.3 1049.8h0M837.1 1053.0h0M826.7 1048.0h0M831.5 1053.2h0M830.9 1049.7h0M817.5 1049.1h0M832.3 1046.8h0M819.9 1045.1h0M832.3 1051.8h0M841.8 1051.2h0M827.8 1048.6h0M826.9 1052.4h0M824.9 1053.1h0M815.7 1043.8h0M829.3 1049.8h0M840.4 1052.9h0M829.9 1046.3h0M815.8 1044.5h0M846.8 1053.8h0M823.9 1050.8h0M821.6 1046.3h0M815.2 1045.9h0M818.1 1047.0h0M817.6 1053.4h0M823.3 1046.5h0M817.0 1051.9h0M826.9 1053.1h0M843.9 1051.2h0M822.9 1052.2h0M820.1 1047.9h0M824.2 1048.9h0M823.0 1048.6h0M818.6 1051.6h0M829.3 1048.3h0M821.0 1047.0h0M839.0 1050.9h0M829.7 1049.4h0M823.2 1053.6h0M835.5 1051.8h0M826.8 1049.1h0M837.7 1048.5h0M827.9 1052.8h0M816.0 1044.3h0M832.4 1050.0h0M837.0 1050.4h0M838.0 1049.4h0M819.9 1048.6h0M831.2 1053.9h0M829.9 1051.3h0M844.8 1052.3h0M833.7 1047.7h0M832.0 1045.9h0M829.1 1049.4h0M825.0 1049.4h0M816.8 1052.6h0M818.4 1052.7h0M842.5 1051.6h0M838.9 1051.6h0M821.7 1047.4h0M817.9 1050.1h0M834.6 1052.7h0M820.7 1053.1h0M817.7 1051.2h0M821.2 1052.5h0M824.7 1047.6h0M830.9 1049.1h0M838.1 1052.9h0M834.0 1051.0h0M822.1 1044.6h0M826.5 1045.4h0M826.3 1053.7h0M826.6 1046.0h0M758.7 1040.3h0M758.8 1047.7h0M759.3 1038.4h0M758.9 1045.9h0M759.0 1043.8h0M783.1 1043.8h0M787.8 1041.3h0M789.7 1037.4h0M785.8 1043.2h0M791.0 1047.9h0M790.9 1038.4h0M875.2 771.8h0M878.4 775.2h0M878.4 806.3h0M875.2 761.6h0M881.6 820.8h0M875.2 751.2h0M878.4 739.8h0M878.4 827.2h0M875.2 813.0h0M884.8 768.6h0M878.4 720.3h0M878.4 814.8h0M878.4 738.1h0M884.8 725.5h0M878.4 804.6h0M878.4 743.1h0M881.6 748.8h0M881.6 808.4h0M884.8 805.6h0M875.2 740.1h0M881.6 787.7h0M884.8 762.2h0M872.0 714.6h0M872.0 775.0h0M875.2 709.9h0M884.8 713.4h0M878.4 805.7h0M881.6 733.4h0M884.8 763.1h0M884.8 759.9h0M881.6 829.3h0M872.0 778.8h0M881.6 830.8h0M881.6 739.0h0M875.2 777.0h0M875.2 750.6h0M884.8 728.7h0M875.2 792.0h0M878.4 823.1h0M875.2 803.6h0M878.4 834.2h0M884.8 730.2h0M878.4 766.6h0M878.4 781.9h0M881.6 724.4h0M904.1 793.3h0M896.7 734.6h0M891.8 770.4h0M887.7 728.4h0M893.3 779.0h0M907.0 763.6h0M888.6 743.5h0M885.9 811.6h0M898.3 794.8h0M891.6 735.3h0M888.4 747.1h0M905.3 764.5h0M894.0 719.6h0M892.4 787.6h0M889.5 811.1h0M910.0 723.9h0M884.1 793.4h0M885.3 777.0h0M899.6 749.7h0M902.0 707.8h0M907.3 795.1h0M885.2 735.9h0M910.0 726.8h0M888.5 791.3h0M914.7 810.7h0M890.0 720.0h0M884.3 718.5h0M894.2 807.8h0M907.4 725.2h0M896.3 764.2h0M888.9 712.1h0M889.9 737.8h0M885.2 809.3h0M914.2 756.1h0M897.4 764.7h0M909.9 749.5h0M912.5 807.4h0M892.6 767.3h0M913.6 738.2h0M914.7 759.1h0M904.8 716.1h0M896.3 775.6h0M890.4 808.9h0M896.3 766.1h0M908.1 739.1h0M905.8 783.7h0M908.0 739.7h0M894.5 767.8h0M897.9 756.1h0M901.6 786.4h0M888.4 728.5h0M887.9 760.9h0M890.4 804.6h0M890.4 753.4h0M907.8 736.0h0M886.5 730.5h0M905.9 743.0h0M913.3 722.5h0M893.4 758.4h0M894.4 737.4h0M887.2 759.6h0M907.2 745.1h0M914.5 771.9h0M895.2 744.8h0M892.6 716.1h0M898.6 762.6h0M908.7 714.3h0M884.9 802.2h0M895.2 782.8h0M911.2 735.7h0M889.5 788.7h0M893.4 759.2h0M884.0 767.8h0M897.7 728.2h0M890.0 804.2h0M911.9 738.9h0M893.8 742.0h0M894.7 746.6h0M913.8 707.8h0M895.3 764.1h0M902.9 741.3h0M906.4 751.4h0M888.7 802.6h0M890.4 780.7h0M912.8 724.0h0M907.4 788.5h0M894.7 803.2h0M888.3 761.0h0M914.3 761.7h0M911.2 748.6h0M904.1 757.5h0M906.0 783.9h0M906.3 786.5h0M890.6 775.2h0M908.6 785.1h0M889.5 764.3h0M884.5 808.9h0M904.1 732.0h0M902.7 739.1h0M901.3 789.4h0M883.4 699.5h0M885.6 698.8h0M887.9 698.1h0M889.8 698.5h0M893.2 698.2h0M894.8 697.7h0M897.3 697.1h0M900.3 697.4h0M899.5 697.3h0M902.7 696.9h0M904.6 696.2h0M907.7 695.8h0M909.7 695.7h0M912.2 695.2h0M914.7 694.8h0M917.1 694.7h0M919.8 694.1h0M882.7 703.9h0M885.0 703.5h0M887.4 703.7h0M889.9 703.1h0M892.4 703.0h0M895.6 702.8h0M897.2 702.0h0M899.7 702.4h0M899.6 702.3h0M902.8 702.1h0M904.9 701.4h0M907.4 701.4h0M910.0 701.2h0M912.4 701.1h0M915.1 700.3h0M917.4 700.0h0M920.4 699.5h0M881.9 722.4h0M884.6 722.2h0M887.1 722.2h0M889.3 722.4h0M891.7 722.9h0M894.1 722.8h0M897.1 722.8h0M899.6 722.5h0M902.0 722.5h0M904.4 722.2h0M907.1 722.7h0M909.9 722.8h0M912.1 722.3h0M914.5 722.2h0M917.3 722.7h0M919.4 722.4h0M922.3 722.4h0M881.7 725.6h0M884.4 725.2h0M887.3 725.3h0M889.3 725.5h0M891.8 725.4h0M894.5 725.8h0M897.1 725.4h0M899.8 725.8h0M902.3 725.1h0M904.7 725.7h0M907.2 725.7h0M909.6 725.3h0M912.3 725.7h0M914.3 725.5h0M916.8 725.3h0M919.6 725.2h0M921.6 725.6h0M882.1 728.8h0M884.1 728.3h0M886.7 728.8h0M889.7 728.2h0M892.0 728.7h0M894.6 728.5h0M897.0 728.3h0M899.1 728.2h0M902.0 728.2h0M904.8 728.3h0M906.6 728.6h0M909.6 728.7h0M912.0 728.8h0M914.6 728.8h0M917.2 728.3h0M919.4 728.3h0M922.1 728.4h0M882.0 731.4h0M884.2 731.6h0M887.2 731.4h0M889.2 731.6h0M892.1 731.5h0M894.8 731.9h0M897.2 731.6h0M899.9 731.6h0M902.0 731.3h0M904.4 731.4h0M906.8 731.3h0M909.2 731.2h0M912.0 731.4h0M914.7 731.7h0M917.3 731.8h0M919.2 731.6h0M922.3 731.2h0M881.6 756.5h0M884.2 757.9h0M887.5 757.5h0M889.2 757.9h0M892.7 758.5h0M894.9 759.0h0M897.3 759.7h0M900.4 759.6h0M899.9 760.2h0M902.9 761.0h0M904.9 761.2h0M907.4 762.6h0M910.7 763.5h0M913.0 764.2h0M915.7 765.6h0M918.0 766.1h0M882.0 766.8h0M885.0 766.1h0M887.1 766.6h0M889.8 765.6h0M892.0 765.2h0M895.1 765.0h0M897.5 764.9h0M899.9 763.8h0M900.1 764.4h0M902.8 763.5h0M905.5 761.8h0M907.9 761.2h0M910.5 760.9h0M913.2 759.4h0M915.3 758.5h0M918.3 758.2h0M888.0 780.0h0M890.6 779.9h0M892.6 780.2h0M895.5 779.7h0M897.7 779.4h0M899.9 779.2h0M902.6 779.8h0M904.7 779.2h0M907.3 779.2h0M910.0 779.0h0M912.0 779.1h0M914.9 779.3h0M916.7 778.7h0M887.6 783.1h0M890.5 782.6h0M892.7 783.1h0M894.9 782.9h0M897.9 782.8h0M899.9 782.8h0M902.8 782.5h0M905.0 782.5h0M907.7 782.7h0M909.9 782.2h0M911.9 782.2h0M914.5 782.2h0M917.0 781.8h0M887.8 786.2h0M890.5 786.1h0M892.6 785.8h0M894.9 785.5h0M897.5 785.5h0M900.4 785.3h0M902.5 785.2h0M905.2 785.1h0M907.6 785.2h0M909.6 784.9h0M912.3 784.8h0M914.7 785.1h0M916.8 785.1h0M888.2 788.7h0M890.7 789.2h0M893.1 789.2h0M895.1 788.5h0M897.6 789.0h0M900.2 788.3h0M902.7 788.7h0M904.9 788.5h0M907.6 788.3h0M910.0 788.3h0M912.4 788.4h0M914.3 787.8h0M917.1 787.9h0M887.8 814.5h0M890.4 815.5h0M892.8 814.7h0M895.2 815.1h0M897.3 814.7h0M900.2 814.9h0M902.9 814.6h0M904.7 815.4h0M907.8 815.1h0M910.1 814.7h0M909.6 814.9h0M912.2 813.6h0M914.0 811.8h0M916.4 810.5h0M917.9 809.7h0M920.4 807.9h0M920.0 808.3h0M921.6 805.6h0M922.9 803.8h0M924.3 801.6h0M926.8 800.3h0M928.3 797.8h0M925.2 800.9h0M927.7 799.2h0M930.0 797.3h0M935.5 793.8h0M937.9 792.7h0M942.7 789.1h0M945.4 787.5h0M943.6 700.3h0M947.0 700.1h0M950.0 699.7h0M952.9 699.7h0M955.8 699.5h0M958.8 699.3h0M961.7 699.4h0M967.9 698.2h0M964.0 727.4h0M975.5 732.2h0M978.0 733.4h0M980.6 734.7h0M983.7 736.3h0M986.4 737.1h0M989.2 738.6h0M995.1 741.8h0M914.5 746.7h0M920.2 745.8h0M923.0 744.8h0M926.0 743.9h0M928.7 743.7h0M931.9 742.7h0M941.8 691.6h0M944.8 692.9h0M948.1 693.7h0M932.7 735.1h0M940.8 731.5h0M943.4 730.3h0M954.3 725.9h0M956.9 725.0h0M946.3 802.4h0M972.8 693.9h0M978.1 696.1h0M989.9 698.5h0M958.5 749.0h0M961.3 749.9h0M969.7 754.6h0M983.1 761.9h0M988.5 765.8h0M994.1 769.1h0M939.7 715.7h0M949.8 721.8h0M955.1 724.3h0M957.8 726.2h0M960.6 727.8h0M963.2 729.4h0M944.3 792.7h0M947.1 790.9h0M950.0 790.1h0M952.7 789.4h0M958.4 787.3h0M961.0 786.5h0M963.9 786.3h0M935.1 755.0h0M940.8 756.5h0M943.8 757.5h0M960.9 701.2h0M969.5 701.6h0M972.9 701.6h0M934.8 743.0h0M937.9 743.6h0M940.2 745.0h0M949.2 747.0h0M951.9 748.0h0M944.3 778.0h0M946.4 779.1h0M949.4 780.9h0M951.5 783.0h0M954.4 784.7h0M956.4 786.8h0M964.1 792.1h0M969.1 796.4h0M929.0 745.2h0M932.2 745.0h0M938.2 744.6h0M940.8 744.8h0M936.2 713.5h0M938.9 714.9h0M944.3 717.1h0M947.6 717.8h0M950.1 719.2h0M931.3 737.0h0M933.8 735.4h0M938.7 731.6h0M940.8 729.4h0M943.8 727.8h0M948.4 724.1h0M951.2 721.6h0M955.7 717.7h0M958.6 715.3h0M960.6 712.9h0M942.9 694.2h0M945.4 694.0h0M948.3 693.8h0M961.8 727.3h0M964.0 729.5h0M971.3 734.5h0M979.1 739.1h0M981.2 740.9h0M984.1 741.7h0M991.3 746.5h0M914.3 773.9h0M920.0 770.9h0M924.8 768.5h0M927.8 766.8h0M930.3 765.4h0M933.3 763.8h0M938.1 760.9h0M941.2 759.7h0M943.8 758.6h0M976.0 726.6h0M978.2 725.5h0M981.1 724.3h0M986.9 722.0h0M994.8 718.3h0M988.3 795.0h0M996.9 790.1h0M946.7 801.2h0M973.5 786.5h0M981.9 787.4h0M985.4 788.2h0M987.9 788.8h0M991.0 789.6h0M994.0 790.1h0M962.9 707.3h0M968.4 706.0h0M971.4 705.0h0M973.6 791.0h0M979.5 792.5h0M982.4 793.7h0M985.3 794.0h0M976.6 716.5h0M981.9 719.3h0M987.5 722.3h0M992.7 725.8h0M926.5 742.8h0M932.1 745.5h0M934.6 746.7h0M937.4 748.4h0M924.5 742.2h0M931.7 746.4h0M934.5 748.2h0M937.1 750.1h0M939.5 751.2h0M941.8 753.4h0M977.5 742.8h0M983.1 744.6h0M985.6 745.6h0M994.3 747.2h0M921.5 782.9h0M924.0 783.6h0M930.4 784.5h0M932.9 784.6h0M936.3 785.2h0M942.0 784.9h0M945.1 785.8h0M948.0 785.8h0M951.0 785.5h0M954.2 785.9h0M950.5 706.2h0M953.4 707.2h0M956.3 708.1h0M959.6 709.4h0M965.2 710.7h0M968.0 711.9h0M979.1 715.9h0M981.9 717.3h0M927.4 727.4h0M930.1 726.8h0M936.5 725.7h0M939.3 725.6h0M945.1 724.7h0M947.9 724.1h0M951.1 723.3h0M953.9 723.1h0M959.9 721.5h0M915.2 777.6h0M920.6 780.4h0M925.9 783.8h0M931.3 786.3h0M934.0 788.3h0M949.3 779.3h0M952.1 778.7h0M957.8 777.8h0M960.6 777.4h0M963.5 776.3h0M966.8 776.3h0M969.5 775.5h0M962.8 689.2h0M965.8 690.1h0M971.8 691.4h0M980.5 694.6h0M982.9 695.1h0M985.8 695.9h0M953.6 712.0h0M956.2 710.2h0M958.3 708.8h0M963.4 705.9h0M970.9 699.9h0M976.4 696.5h0M934.8 801.8h0M937.3 803.4h0M912.1 761.5h0M918.0 764.1h0M926.4 768.1h0M929.1 769.0h0M931.7 770.4h0M966.8 731.5h0M969.7 731.2h0M972.7 731.2h0M979.0 729.8h0M981.9 729.3h0M985.0 728.8h0M990.6 727.9h0M993.4 727.0h0M970.6 696.5h0M973.3 696.7h0M976.1 697.6h0M979.2 697.6h0M982.0 698.7h0M987.9 699.2h0M990.8 699.2h0M996.6 699.9h0M929.6 726.9h0M932.3 729.2h0M934.5 730.5h0M937.1 732.4h0M942.1 736.0h0M947.7 739.3h0M935.5 764.4h0M938.7 766.2h0M946.9 769.3h0M954.8 772.3h0M957.1 749.3h0M964.8 744.0h0M967.5 742.9h0M970.0 741.2h0M973.6 796.5h0M975.0 742.8h0M982.5 747.6h0M985.4 748.6h0M987.7 750.6h0M993.0 753.3h0M949.5 775.3h0M967.3 777.7h0M983.5 759.0h0M986.0 759.9h0M994.7 762.3h0M912.6 736.8h0M917.6 733.4h0M920.1 731.9h0M922.7 729.7h0M925.8 784.7h0M929.0 784.2h0M931.8 783.2h0M937.8 780.9h0M981.9 721.8h0M987.3 719.4h0M989.8 718.3h0M992.4 716.4h0M995.0 715.9h0M941.4 748.4h0M944.2 747.0h0M949.5 745.3h0M952.6 744.9h0M958.6 742.9h0M914.0 727.7h0M916.7 726.4h0M931.1 722.0h0M933.9 721.2h0M936.6 720.1h0M939.4 719.0h0M939.6 778.7h0M948.0 776.2h0M950.8 775.8h0M954.3 775.2h0M959.8 774.7h0M962.4 774.3h0M965.3 773.9h0M968.6 773.7h0M952.4 781.4h0M954.9 782.7h0M958.1 783.9h0M960.7 784.8h0M963.3 786.5h0M968.9 788.6h0M971.5 790.4h0M974.1 791.9h0M976.8 792.6h0M932.1 694.5h0M916.7 764.4h0M919.4 763.5h0M928.2 761.0h0M931.1 760.5h0M958.4 794.1h0M961.7 793.4h0M964.5 793.7h0M967.4 793.0h0M976.8 791.9h0M979.7 791.4h0M982.6 791.3h0M985.8 790.1h0M936.4 705.2h0M939.5 703.7h0M945.1 702.7h0M947.7 701.1h0M953.8 699.0h0M956.6 697.8h0M962.6 695.7h0M965.6 693.8h0M971.1 691.2h0M915.2 720.7h0M917.4 721.9h0M920.2 723.6h0M922.3 725.2h0M924.8 726.8h0M932.6 731.8h0M935.0 733.8h0M975.9 747.0h0M978.6 746.1h0M992.1 738.7h0M956.8 689.4h0M965.3 690.2h0M968.4 690.7h0M974.3 691.2h0M958.2 765.4h0M961.3 764.5h0M966.7 762.6h0M969.7 761.9h0M972.5 760.8h0M975.3 759.2h0M978.6 758.3h0M981.3 757.0h0M984.0 756.0h0M986.7 755.4h0M992.9 753.1h0M961.4 798.2h0M969.1 793.0h0M974.7 772.5h0M977.0 770.6h0M982.1 767.0h0M984.7 765.8h0M987.1 763.9h0M992.2 760.5h0M994.6 759.6h0M925.6 770.1h0M928.3 771.6h0M930.9 773.3h0M933.1 774.6h0M935.4 776.4h0M937.9 777.9h0M940.6 779.8h0M953.1 787.0h0M957.7 789.4h0M914.8 720.3h0M917.6 721.7h0M920.3 723.0h0M925.9 726.0h0M963.3 793.3h0M966.2 794.2h0M969.1 794.8h0M975.5 796.1h0M978.2 797.0h0M987.0 715.6h0M996.1 716.6h0M931.1 716.5h0M934.2 715.5h0M936.9 714.5h0M940.1 713.9h0M948.7 711.3h0M951.9 710.2h0M954.7 708.4h0M957.7 707.3h0M963.1 704.7h0M966.1 703.6h0M915.3 744.1h0M917.7 745.4h0M920.8 747.2h0M931.1 751.0h0M934.4 751.1h0M936.7 699.3h0M939.0 700.9h0M941.2 702.7h0M943.7 704.2h0M946.5 706.4h0M948.7 708.4h0M968.4 699.7h0M973.7 696.9h0M976.7 696.0h0M979.1 694.2h0M981.7 693.2h0M989.4 689.3h0M971.8 739.1h0M984.8 731.6h0M987.6 730.2h0M990.2 728.6h0M992.9 727.0h0M954.4 692.2h0M938.2 794.3h0M945.3 747.2h0M914.7 740.1h0M995.1 700.1h0M981.8 716.5h0M963.3 744.4h0M930.9 710.3h0M995.8 792.1h0M947.0 785.8h0M971.4 732.1h0M981.4 788.8h0M940.9 797.8h0M942.4 712.9h0M987.7 783.3h0M930.7 750.5h0M925.4 780.1h0M921.2 807.5h0M988.9 730.7h0M989.5 741.5h0M963.6 796.7h0M938.6 752.0h0M974.6 710.9h0M992.3 737.5h0M934.5 708.8h0M949.4 716.1h0M930.0 741.7h0M947.9 691.7h0M917.0 773.3h0M956.8 758.5h0M993.4 722.6h0M927.2 736.5h0M960.1 776.9h0M938.0 742.1h0M929.9 759.3h0M978.6 754.5h0M984.9 715.6h0M979.1 772.5h0M985.6 753.3h0M937.9 733.2h0M973.1 721.9h0M994.8 771.7h0M996.7 737.5h0M955.5 780.4h0M994.5 698.7h0M943.5 730.6h0M920.8 768.4h0M948.7 731.7h0M929.1 789.0h0M923.5 739.9h0M934.6 693.8h0M917.9 700.4h0M913.6 716.2h0M938.6 754.2h0M989.1 748.6h0M985.3 736.3h0M983.3 715.4h0M944.5 714.1h0M944.0 746.2h0M995.6 778.1h0M946.5 720.9h0M974.2 763.7h0M918.2 795.1h0M919.6 725.0h0M937.9 715.1h0M944.7 712.2h0M952.7 719.7h0M925.5 712.4h0M993.8 785.6h0M927.2 784.0h0M981.4 727.8h0M988.2 735.0h0M962.6 781.0h0M976.5 754.9h0M940.6 706.7h0M996.4 793.1h0M973.6 688.5h0M955.4 765.0h0M963.6 754.8h0M967.5 746.5h0M947.5 801.9h0M944.4 762.0h0M993.0 722.1h0M921.3 714.5h0M953.4 689.5h0M988.8 755.6h0M937.2 737.6h0M979.4 720.8h0M988.5 688.9h0M921.8 752.7h0M915.7 700.6h0M995.0 728.9h0M923.4 791.5h0M926.8 789.3h0M944.1 718.5h0M981.8 714.7h0M993.8 695.5h0M917.1 703.9h0M992.7 719.0h0M932.4 730.9h0M914.3 759.1h0M947.5 788.9h0M983.9 748.7h0M942.7 800.5h0M957.6 695.6h0M926.7 779.1h0M924.2 780.8h0M983.6 704.7h0M944.6 758.9h0M961.3 736.1h0M988.2 721.9h0M995.4 721.0h0M939.6 739.8h0M983.9 692.4h0M989.9 783.3h0M953.5 739.7h0M975.9 783.2h0M963.2 692.3h0M950.4 724.0h0M951.4 795.1h0M927.3 802.7h0M945.4 773.7h0M969.5 780.0h0M976.1 715.9h0M967.4 730.8h0M993.9 701.5h0M919.5 702.3h0M947.1 759.4h0M950.3 694.0h0M964.0 721.2h0M958.3 727.8h0M985.6 743.0h0M930.9 782.8h0M953.4 760.8h0M990.4 695.4h0M941.3 728.8h0M942.8 777.0h0M995.4 790.6h0M986.0 710.1h0M916.9 758.2h0M994.7 690.8h0M950.6 731.2h0M978.8 783.3h0M976.9 782.8h0M984.4 725.1h0M988.2 688.6h0M959.6 723.0h0M972.4 746.0h0M984.5 786.6h0M928.7 759.9h0M924.8 700.2h0M970.7 736.9h0M981.4 744.0h0M923.6 726.4h0M912.8 748.5h0M979.6 690.9h0M994.8 724.3h0M934.1 799.2h0M952.5 743.6h0M914.3 767.0h0M919.9 755.7h0M946.4 779.3h0M973.1 765.5h0M982.5 740.9h0M938.3 694.5h0M947.4 776.2h0M914.7 720.7h0M996.4 730.2h0M993.8 773.2h0M928.8 717.8h0M980.3 771.6h0M936.2 748.7h0M971.4 767.5h0M982.3 736.2h0M991.2 763.3h0M962.1 749.6h0M987.7 749.2h0M944.7 706.5h0M926.0 733.8h0M952.5 765.8h0M923.8 712.9h0M943.9 695.0h0M961.6 788.7h0M988.6 762.9h0M931.1 797.2h0M961.9 785.7h0M957.7 749.0h0M986.1 764.2h0M988.7 742.3h0M915.1 759.9h0M989.0 693.7h0M969.1 755.6h0M922.0 743.7h0M952.3 723.3h0M971.2 788.3h0M913.7 733.6h0M932.0 750.1h0M943.5 773.6h0M945.6 706.0h0M977.3 720.0h0M945.8 781.3h0M943.8 704.1h0M947.6 700.7h0M958.6 688.3h0M926.9 785.6h0M961.6 741.1h0M987.9 701.0h0M934.2 718.7h0M976.0 733.3h0M914.9 726.4h0M916.8 700.7h0M946.3 796.5h0M940.7 759.0h0M953.3 747.0h0M982.5 708.6h0M923.8 713.9h0M942.2 721.3h0M931.0 710.6h0M963.2 730.3h0M965.5 708.4h0M941.0 710.3h0M982.4 719.6h0M937.6 701.8h0M960.0 719.7h0M969.9 734.3h0M963.0 750.4h0M990.6 716.6h0M984.5 709.3h0M959.1 769.5h0M913.8 723.8h0M946.7 705.4h0M975.9 700.1h0M947.8 709.7h0M972.2 770.9h0M979.2 750.4h0M963.5 796.5h0M947.3 801.6h0M936.7 736.8h0M987.2 697.6h0M949.8 774.0h0M961.9 689.7h0M944.0 786.9h0M949.3 726.3h0M933.2 777.5h0M915.9 778.7h0M936.1 745.1h0M982.6 783.9h0M977.4 707.6h0M923.9 792.4h0M959.8 721.2h0M946.2 733.5h0M983.4 779.1h0M949.1 777.6h0M980.3 720.0h0M928.3 749.3h0M916.9 774.8h0M941.3 736.8h0M987.3 714.3h0M922.3 793.6h0M961.0 692.8h0M978.2 718.9h0M942.0 796.8h0M919.4 728.1h0M990.9 745.4h0M961.0 691.5h0M996.4 763.8h0M985.3 700.0h0M924.3 719.1h0M978.3 693.2h0M991.2 794.3h0M943.1 734.3h0M964.9 756.1h0M926.8 738.6h0M921.5 806.6h0M929.7 790.9h0M955.8 745.4h0M944.0 792.0h0M948.5 705.0h0M945.4 696.7h0M938.1 717.8h0M993.3 742.5h0M976.2 689.1h0M939.0 783.1h0M945.6 792.5h0M926.1 752.6h0M955.7 741.2h0M937.1 728.1h0M995.1 724.8h0M995.8 694.7h0M936.8 763.1h0M986.3 688.9h0M927.5 749.6h0M932.1 700.6h0M969.3 703.6h0M994.5 790.9h0M989.7 793.0h0M942.2 738.9h0M972.5 734.9h0M919.3 735.7h0M969.6 759.7h0M914.2 737.6h0M973.1 707.6h0M942.1 782.3h0M983.7 721.1h0M918.3 714.6h0M977.4 777.4h0M924.2 727.1h0M947.8 746.0h0M941.4 691.8h0M945.2 752.6h0M980.4 736.5h0M929.5 783.7h0M950.5 724.6h0M975.8 690.2h0M956.1 698.6h0M914.3 712.5h0M920.7 701.4h0M995.4 717.2h0M932.5 734.3h0M928.3 776.9h0M952.7 761.7h0M948.7 712.8h0M923.8 706.0h0M945.1 745.2h0M914.9 737.6h0M931.7 770.2h0M991.7 739.0h0M917.4 756.1h0M962.3 737.0h0M959.9 788.0h0M932.2 730.6h0M975.5 694.6h0M970.4 707.5h0M936.1 784.4h0M977.6 736.9h0M975.0 707.9h0M963.5 754.8h0M991.3 791.1h0M956.4 715.7h0M926.9 801.9h0M920.8 719.6h0M959.9 692.6h0M991.4 770.5h0M984.9 741.5h0M982.2 790.5h0M954.0 766.5h0M930.6 721.9h0M945.9 779.2h0M993.8 708.6h0M992.3 768.1h0M924.0 782.4h0M946.5 699.3h0M988.3 709.8h0M932.6 695.6h0M953.0 748.3h0M931.6 773.0h0M990.9 705.7h0M934.2 710.6h0M947.6 739.0h0M941.9 753.8h0M989.2 755.9h0M922.5 747.4h0M957.6 747.1h0M933.7 732.8h0M939.7 757.7h0M996.1 740.4h0M941.9 694.6h0M923.8 716.5h0M959.2 763.7h0M944.9 786.4h0M995.7 730.0h0M984.0 749.4h0M931.8 703.3h0M953.4 768.7h0M944.5 767.2h0M973.1 691.9h0M943.5 764.1h0M980.5 702.0h0M967.5 726.2h0M992.9 752.6h0M994.7 783.5h0M957.5 725.2h0M934.6 718.8h0M920.8 806.9h0M982.4 766.3h0M923.8 801.5h0M956.0 761.9h0M930.4 797.5h0M915.2 736.4h0M948.4 801.7h0M960.0 753.4h0M948.8 767.4h0M989.2 742.8h0M950.3 749.6h0M960.5 784.0h0M977.8 728.9h0M930.2 800.1h0M925.7 777.8h0M957.0 717.5h0M933.1 703.7h0M961.7 752.6h0M919.9 753.1h0M922.1 801.9h0M984.8 715.3h0M967.5 738.4h0M923.6 762.5h0M993.3 772.2h0M992.2 760.8h0M978.0 701.1h0M918.1 703.5h0M976.5 795.4h0M927.2 741.1h0M985.3 769.3h0M946.4 801.0h0M978.0 693.0h0M962.2 749.7h0M962.1 754.2h0M979.5 781.0h0M920.7 796.0h0M952.6 780.5h0M930.4 731.1h0M992.4 773.4h0M938.4 737.2h0M930.5 784.4h0M965.4 778.8h0M941.9 720.3h0M944.6 725.1h0M941.3 791.5h0M915.3 727.5h0M959.5 722.8h0M967.8 777.0h0M942.3 770.9h0M937.5 738.8h0M980.9 699.4h0M958.2 747.2h0M976.8 714.1h0M967.9 752.6h0M985.9 793.1h0M981.2 752.3h0M935.9 786.4h0M947.0 725.0h0M940.7 794.7h0M923.7 791.4h0M969.6 779.8h0M966.3 789.0h0M915.2 748.9h0M972.3 722.1h0M989.6 701.0h0M948.3 706.2h0M967.3 783.5h0M926.0 793.6h0M950.8 792.1h0M959.5 776.2h0M938.5 736.0h0M945.0 798.8h0M933.4 778.1h0M984.2 756.0h0M986.3 767.1h0M929.3 703.4h0M936.6 793.4h0M969.0 757.7h0M960.0 750.9h0M952.2 792.4h0M923.2 786.4h0M952.3 781.7h0M987.0 710.4h0M917.0 787.2h0M913.3 756.3h0M924.2 735.4h0M968.4 791.2h0M976.1 734.7h0M985.4 764.1h0M980.5 761.6h0M954.5 751.5h0M950.6 749.8h0M959.8 731.5h0M921.5 788.1h0M928.8 699.0h0M915.2 777.2h0M952.6 771.9h0M945.6 810.5h0M934.6 797.9h0M956.6 799.5h0M945.9 809.6h0M926.3 792.8h0M940.0 812.6h0M930.1 805.1h0M925.6 806.0h0M943.0 803.0h0M928.1 793.6h0M947.0 801.3h0M945.6 797.7h0M936.9 795.3h0M956.8 799.2h0M929.2 819.2h0M884.8 988.0h0M881.6 1016.3h0M884.8 1020.2h0M872.0 992.1h0M872.0 1037.6h0M881.6 955.9h0M878.4 1032.4h0M878.4 1003.9h0M872.0 1003.4h0M872.0 1048.5h0M884.8 994.5h0M884.8 966.5h0M884.8 1016.7h0M878.4 1049.8h0M884.8 1027.4h0M875.2 952.0h0M884.8 1002.5h0M881.6 984.5h0M881.6 972.2h0M881.6 1012.6h0M884.8 990.2h0M881.6 977.5h0M872.0 974.3h0M878.4 965.7h0M878.4 992.1h0M872.0 944.8h0M878.4 1011.4h0M872.0 965.8h0M875.2 996.5h0M872.0 1045.6h0M875.2 1029.6h0M881.6 1037.1h0M881.6 994.4h0M878.4 964.7h0M884.8 952.9h0M878.4 993.5h0M884.8 993.4h0M878.4 1021.3h0M875.2 1055.5h0M884.8 964.3h0M881.6 968.7h0M875.2 1047.8h0M884.8 968.1h0M875.2 1052.7h0M881.6 995.0h0M902.9 983.9h0M901.5 1075.7h0M893.7 995.0h0M903.6 1042.6h0M906.0 1033.5h0M899.4 1061.9h0M910.4 976.5h0M888.4 983.3h0M913.5 993.3h0M910.8 989.5h0M890.8 997.4h0M885.2 1054.5h0M903.6 988.4h0M896.6 1035.8h0M912.3 1037.0h0M901.1 973.5h0M902.9 1061.5h0M910.5 995.7h0M886.8 984.5h0M912.8 1042.6h0M913.5 1039.6h0M891.7 1027.2h0M905.1 1024.7h0M912.9 989.5h0M896.1 1065.2h0M895.4 1010.9h0M906.7 992.0h0M907.6 1033.0h0M911.4 1040.3h0M891.7 1073.4h0M899.6 963.9h0M895.3 1065.5h0M887.8 965.7h0M900.8 1042.2h0M905.5 972.2h0M905.8 1071.5h0M894.1 1073.3h0M889.8 1000.3h0M895.6 1055.1h0M902.4 981.9h0M911.4 962.5h0M909.9 1024.3h0M907.6 1020.1h0M912.1 1077.6h0M887.6 1057.3h0M902.3 965.2h0M893.4 974.1h0M887.4 987.1h0M886.0 994.3h0M896.5 1013.2h0M904.7 1022.8h0M912.2 969.5h0M898.1 1077.2h0M891.8 971.1h0M900.3 1030.2h0M900.1 982.6h0M911.5 1037.8h0M903.3 977.4h0M908.2 1047.2h0M911.2 998.1h0M887.5 1057.4h0M904.8 987.1h0M904.4 996.2h0M889.5 1067.8h0M902.3 1041.9h0M889.2 963.5h0M908.8 1030.8h0M912.9 996.5h0M913.3 982.1h0M896.8 1050.7h0M905.4 981.7h0M900.9 1038.1h0M887.9 1051.4h0M911.6 999.3h0M889.1 964.0h0M902.2 987.3h0M908.3 1004.9h0M906.0 1018.0h0M902.8 995.3h0M888.9 983.5h0M898.8 988.0h0M910.1 1076.0h0M906.7 1040.4h0M885.8 1028.4h0M887.0 978.4h0M896.5 1064.8h0M902.0 966.8h0M899.3 1041.4h0M903.2 1071.4h0M914.5 1072.4h0M886.8 1076.8h0M910.1 1072.7h0M884.2 1049.4h0M893.1 1068.5h0M887.8 1021.4h0M900.9 1016.7h0M914.3 982.4h0M899.1 1062.7h0M906.2 966.0h0M909.9 980.2h0M889.0 959.0h0M891.0 958.8h0M893.3 959.6h0M896.6 959.8h0M899.2 959.8h0M900.9 960.6h0M903.9 960.5h0M906.7 961.0h0M909.0 961.5h0M911.1 961.9h0M913.6 961.6h0M887.8 986.1h0M890.6 986.2h0M892.9 986.4h0M895.9 986.3h0M898.3 986.3h0M901.4 986.2h0M904.0 986.5h0M906.0 986.9h0M908.7 986.5h0M911.3 986.8h0M913.9 986.9h0M888.0 988.6h0M890.2 989.5h0M893.6 989.1h0M895.7 989.1h0M898.1 989.3h0M901.3 989.9h0M903.4 989.6h0M905.9 989.8h0M908.7 989.8h0M911.5 990.1h0M913.6 990.3h0M888.3 992.2h0M890.8 991.9h0M893.5 992.3h0M895.9 992.1h0M898.5 992.2h0M901.3 992.8h0M903.7 992.8h0M906.5 992.8h0M908.5 993.0h0M911.2 993.2h0M913.8 993.4h0M888.3 1010.3h0M891.0 1010.0h0M893.6 1011.0h0M896.1 1011.2h0M898.7 1011.5h0M901.0 1012.0h0M903.5 1012.1h0M906.5 1011.8h0M908.5 1012.8h0M911.6 1012.5h0M914.3 1013.0h0M888.2 1014.0h0M891.0 1014.5h0M892.8 1014.7h0M895.8 1014.2h0M898.2 1015.1h0M900.9 1014.7h0M903.6 1014.8h0M905.8 1015.2h0M908.3 1015.6h0M911.7 1016.1h0M914.2 1016.3h0M880.4 1044.9h0M882.5 1045.1h0M884.6 1045.1h0M887.2 1044.8h0M889.6 1045.4h0M892.1 1045.1h0M894.7 1044.8h0M896.7 1045.3h0M899.0 1044.9h0M902.2 1045.0h0M904.4 1045.0h0M906.8 1044.7h0M909.4 1044.8h0M911.7 1045.4h0M913.7 1045.2h0M879.6 1047.7h0M882.5 1048.2h0M885.0 1047.8h0M887.6 1047.8h0M889.7 1048.4h0M892.1 1047.8h0M894.4 1047.8h0M897.3 1047.8h0M899.1 1047.6h0M902.1 1048.1h0M904.3 1047.8h0M906.9 1048.3h0M909.5 1047.8h0M911.7 1047.9h0M914.0 1047.8h0M879.7 1051.2h0M882.2 1050.6h0M884.6 1050.8h0M887.0 1051.1h0M889.5 1050.9h0M892.2 1051.3h0M894.3 1050.9h0M896.9 1051.0h0M899.5 1050.6h0M902.0 1050.7h0M904.6 1051.0h0M906.6 1050.9h0M909.1 1051.0h0M911.6 1050.8h0M914.0 1051.2h0M880.0 1054.2h0M882.6 1053.9h0M884.9 1054.2h0M887.2 1054.2h0M890.0 1053.9h0M891.8 1053.8h0M894.7 1054.3h0M897.1 1054.2h0M899.5 1053.9h0M902.1 1054.3h0M904.7 1054.3h0M906.8 1054.1h0M909.0 1054.1h0M911.7 1054.4h0M913.9 1053.9h0M889.0 1069.0h0M891.1 1069.6h0M893.9 1069.9h0M896.7 1069.8h0M899.4 1071.0h0M901.9 1070.8h0M904.2 1071.6h0M906.1 1071.4h0M909.4 1072.5h0M911.9 1072.7h0M914.0 1073.1h0M889.4 1075.8h0M891.2 1076.7h0M893.5 1076.8h0M896.3 1077.2h0M899.3 1076.8h0M901.4 1077.6h0M903.5 1078.1h0M906.5 1078.0h0M908.9 1078.1h0M911.9 1079.2h0M914.3 1078.6h0M947.1 1079.0h0M950.1 1079.3h0M956.1 1079.3h0M959.0 1079.5h0M962.3 1079.3h0M965.2 1079.8h0M920.3 1037.8h0M923.0 1038.1h0M928.6 1038.5h0M969.4 1018.9h0M971.9 1020.3h0M974.5 1021.8h0M977.5 1023.6h0M980.0 1024.4h0M918.4 1048.8h0M921.2 1050.0h0M929.6 1051.3h0M932.0 1049.5h0M937.3 1046.3h0M942.2 1043.2h0M944.6 1040.9h0M924.2 996.2h0M926.9 996.3h0M929.9 997.4h0M935.8 998.9h0M941.7 1000.1h0M945.0 1001.3h0M953.5 1004.0h0M956.8 1005.4h0M915.9 1019.6h0M926.2 1057.3h0M928.8 1058.3h0M932.0 1058.3h0M940.6 1059.5h0M917.9 1061.6h0M921.3 1062.0h0M937.0 1044.4h0M939.7 1045.4h0M942.3 1046.2h0M951.0 1048.9h0M953.9 1050.1h0M956.2 1050.8h0M983.5 989.5h0M986.5 990.3h0M992.0 992.2h0M923.5 1029.7h0M926.2 1027.3h0M928.4 1025.6h0M930.8 1023.4h0M933.5 1022.1h0M986.6 1056.7h0M988.8 1058.2h0M992.0 1059.6h0M941.7 966.1h0M944.5 967.3h0M950.1 968.3h0M953.5 969.5h0M945.7 1056.8h0M949.2 1056.5h0M955.0 1056.6h0M958.2 1056.4h0M966.9 1056.7h0M970.2 1056.7h0M976.0 1056.8h0M925.7 1020.1h0M928.5 1020.4h0M931.4 1020.2h0M934.5 1021.0h0M940.7 1021.3h0M943.2 1021.8h0M946.6 1022.5h0M958.0 1022.8h0M927.7 1028.2h0M930.9 1028.9h0M933.9 1029.1h0M939.8 1030.1h0M942.5 1030.5h0M927.4 1050.5h0M930.2 1050.7h0M933.0 1050.3h0M939.6 1051.0h0M975.6 1011.7h0M978.4 1012.5h0M981.6 1013.7h0M984.6 1014.5h0M987.3 1015.3h0M992.9 1017.9h0M970.7 1009.6h0M975.9 1007.0h0M978.0 1005.4h0M980.4 1003.2h0M983.4 1002.2h0M993.6 995.7h0M954.5 975.0h0M957.5 973.8h0M962.7 971.0h0M955.4 1004.4h0M958.6 1005.7h0M963.9 1007.1h0M967.0 1007.9h0M975.6 1010.5h0M978.7 1010.7h0M930.6 995.4h0M933.4 994.9h0M936.5 993.7h0M939.2 992.9h0M942.3 992.2h0M944.8 991.7h0M953.0 1050.0h0M955.8 1048.3h0M958.0 1047.1h0M960.5 1044.9h0M965.8 1041.8h0M968.4 1039.6h0M973.6 1036.2h0M976.5 1034.9h0M979.2 1032.9h0M984.5 1028.2h0M982.1 1050.6h0M992.3 1056.4h0M994.9 1058.2h0M962.4 1082.9h0M965.6 1083.8h0M968.6 1084.6h0M974.4 1085.7h0M976.8 1086.4h0M979.8 1086.8h0M977.1 1039.0h0M979.4 1040.1h0M987.1 1045.4h0M989.3 1046.8h0M991.8 1048.9h0M994.5 1050.6h0M984.9 1038.7h0M990.2 1040.3h0M993.3 1041.2h0M996.0 1042.2h0M928.5 1044.3h0M931.5 1044.8h0M934.2 1045.3h0M937.5 1045.3h0M943.5 1045.3h0M952.5 1045.8h0M955.5 1045.6h0M961.4 1045.3h0M921.8 1050.9h0M924.4 1050.3h0M927.7 1050.8h0M965.8 1017.8h0M968.7 1018.1h0M972.0 1018.9h0M974.9 1019.7h0M977.5 1020.2h0M941.8 1020.9h0M944.8 1019.2h0M955.3 1013.8h0M961.0 1010.1h0M963.4 1008.8h0M966.0 1006.9h0M990.5 1005.8h0M934.3 1047.7h0M936.8 1047.0h0M939.6 1045.4h0M942.0 1043.3h0M952.4 1037.8h0M968.5 987.2h0M973.9 984.7h0M976.5 983.0h0M965.4 1052.8h0M967.9 1052.1h0M973.7 1050.0h0M916.7 1009.7h0M919.5 1008.7h0M931.2 1023.2h0M942.9 1019.9h0M945.6 1019.4h0M948.7 1018.0h0M954.2 1017.0h0M957.5 1016.1h0M960.0 1015.7h0M930.3 992.8h0M933.3 992.4h0M936.5 992.7h0M939.4 991.9h0M942.5 992.1h0M951.2 992.2h0M954.6 992.2h0M943.8 975.1h0M952.1 977.3h0M955.1 978.7h0M958.1 979.3h0M966.3 981.4h0M975.0 984.2h0M950.2 997.0h0M955.6 994.3h0M961.0 992.4h0M964.3 991.3h0M960.7 1033.5h0M963.8 1033.2h0M969.8 1033.0h0M973.1 1032.7h0M978.7 1032.3h0M981.6 1032.5h0M984.6 1032.1h0M987.5 1032.7h0M964.7 1086.1h0M967.5 1086.3h0M973.4 1087.4h0M979.3 1087.6h0M982.2 1087.9h0M970.9 1072.9h0M973.6 1074.6h0M976.4 1075.6h0M978.7 1076.9h0M981.8 1077.8h0M987.3 1080.6h0M990.1 1082.0h0M978.8 1047.9h0M981.2 1049.6h0M983.7 1051.0h0M986.4 1051.9h0M992.0 1054.6h0M959.9 999.7h0M968.6 1002.0h0M971.7 1003.0h0M977.8 1004.8h0M980.4 1005.8h0M983.4 1007.1h0M986.1 1007.6h0M989.4 1009.1h0M995.2 1011.6h0M963.2 983.7h0M965.9 981.8h0M973.0 976.7h0M975.8 975.3h0M985.0 1045.7h0M987.8 1046.1h0M990.9 1046.8h0M937.3 1070.4h0M942.3 1073.6h0M944.9 1075.2h0M947.2 1077.0h0M955.2 1082.8h0M972.4 1023.5h0M975.1 1022.9h0M980.8 1022.3h0M984.3 1021.7h0M986.6 1022.1h0M990.1 1021.3h0M979.1 1031.4h0M981.7 1029.6h0M984.1 1028.2h0M986.8 1027.2h0M989.4 1025.1h0M992.3 1023.9h0M916.1 1044.3h0M942.8 969.2h0M945.6 970.3h0M948.0 971.1h0M950.9 972.2h0M953.7 974.2h0M956.1 975.1h0M964.3 978.6h0M968.7 996.3h0M971.4 994.6h0M982.5 990.3h0M985.3 988.8h0M988.2 987.7h0M954.1 986.6h0M957.4 986.0h0M959.8 984.8h0M965.9 983.4h0M971.5 982.3h0M977.1 980.8h0M940.4 1070.0h0M942.7 1069.2h0M951.6 1065.9h0M951.5 1085.7h0M954.0 1084.6h0M957.3 1083.2h0M959.8 1082.0h0M919.8 1043.8h0M927.7 1038.0h0M929.8 1036.6h0M932.5 1034.9h0M937.4 1030.9h0M948.2 988.3h0M950.6 986.2h0M961.0 979.9h0M963.6 978.4h0M966.3 977.1h0M930.2 1014.1h0M936.5 1013.5h0M939.3 1012.8h0M942.2 1012.2h0M945.2 1012.0h0M951.1 1011.5h0M987.0 1034.1h0M990.2 1034.1h0M993.1 1034.9h0M923.9 1080.3h0M926.7 1079.3h0M931.9 1077.0h0M934.8 1075.5h0M937.6 1074.3h0M928.2 1062.9h0M931.1 1065.0h0M938.9 1068.6h0M943.6 1071.6h0M951.5 1075.3h0M954.0 1077.0h0M956.8 1078.1h0M957.4 1006.5h0M942.9 1049.3h0M946.0 1006.3h0M973.6 1024.3h0M962.2 1026.4h0M920.1 983.3h0M945.6 967.2h0M937.6 1045.3h0M956.4 1014.6h0M929.9 968.7h0M941.0 1043.0h0M966.2 1073.1h0M917.7 973.3h0M923.6 1026.8h0M924.4 1045.1h0M938.1 1061.6h0M948.8 1082.2h0M937.2 1074.6h0M964.6 1004.1h0M974.4 976.0h0M926.1 974.9h0M982.9 1024.6h0M955.6 1031.5h0M978.3 1001.2h0M934.5 1083.9h0M943.4 994.5h0M956.0 1061.6h0M924.4 998.1h0M969.7 985.5h0M915.5 994.5h0M923.2 996.1h0M968.6 1013.4h0M915.6 1021.3h0M990.7 1062.3h0M975.1 1053.6h0M928.3 971.4h0M980.5 1050.4h0M966.8 1081.0h0M933.1 972.5h0M929.6 1068.1h0M946.8 985.8h0M959.9 1040.5h0M921.7 975.1h0M953.0 996.1h0M965.6 979.0h0M933.4 1082.1h0M973.7 1031.2h0M972.4 987.9h0M951.6 1051.2h0M921.2 1029.7h0M925.7 1000.9h0M994.4 1067.0h0M934.0 1056.4h0M928.3 1056.4h0M927.9 1072.5h0M968.5 1044.6h0M980.0 1050.1h0M977.2 995.3h0M988.1 998.6h0M931.7 1077.6h0M916.0 968.3h0M983.8 1025.8h0M959.0 1030.3h0M958.0 992.3h0M962.3 1066.3h0M932.0 985.5h0M922.4 1030.6h0M930.0 986.3h0M995.7 1072.1h0M939.3 1078.9h0M952.9 1031.7h0M931.7 1004.0h0M918.5 1070.8h0M963.3 1023.3h0M933.1 1017.9h0M936.2 1004.1h0M963.8 996.1h0M933.9 1036.1h0M983.8 1016.8h0M938.5 1040.0h0M952.5 1032.4h0M961.4 1039.7h0M939.1 975.4h0M969.4 1045.4h0M951.4 981.5h0M961.0 1009.9h0M964.5 989.1h0M921.7 1050.8h0M990.5 1031.9h0M963.4 1085.2h0M936.4 1076.1h0M977.7 1041.0h0M931.5 1075.2h0M964.9 1027.2h0M957.1 1085.5h0M929.7 999.6h0M954.1 997.2h0M992.9 1044.2h0M962.9 1017.5h0M960.2 1083.0h0M930.2 1055.3h0M933.3 989.8h0M946.6 1036.1h0M937.8 1038.1h0M916.5 1036.1h0M996.0 1041.1h0M920.0 1034.0h0M938.0 1058.8h0M955.1 1007.3h0M916.9 988.1h0M989.1 1012.4h0M932.0 1010.1h0M920.2 1029.6h0M919.4 967.4h0M988.3 1009.3h0M972.3 1055.4h0M950.6 1016.2h0M972.3 994.4h0M930.4 1041.9h0M986.7 1001.1h0M927.9 1001.9h0M963.4 1056.6h0M947.7 980.9h0M939.3 975.0h0M923.9 1020.5h0M970.4 1055.2h0M971.7 1058.5h0M942.2 1047.3h0M963.9 979.4h0M972.4 990.5h0M966.8 1029.6h0M985.2 1079.7h0M991.2 1032.7h0M983.3 1045.0h0M939.3 1050.7h0M928.3 1080.0h0M931.0 1014.4h0M921.9 1032.2h0M952.1 1075.8h0M943.2 999.8h0M916.3 966.8h0M982.2 1078.6h0M996.4 1043.1h0M935.9 1067.8h0M946.2 1045.7h0M922.9 1027.3h0M959.9 1051.2h0M975.0 995.3h0M930.8 1043.3h0M967.4 1005.6h0M988.5 1059.5h0M936.7 1009.4h0M976.0 995.9h0M942.6 1018.7h0M954.3 1008.4h0M959.5 1015.8h0M983.9 1034.1h0M942.9 1009.2h0M983.7 1024.2h0M938.9 1050.8h0M918.6 974.2h0M957.3 973.1h0M956.8 1036.2h0M965.0 1071.7h0M991.8 1023.3h0M918.0 987.8h0M947.0 993.5h0M996.6 1042.7h0M945.1 1018.1h0M944.0 970.0h0M965.7 999.3h0M930.9 985.3h0M973.4 1025.0h0M955.5 1016.1h0M964.4 1016.6h0M991.6 1007.0h0M933.9 1016.1h0M940.8 1018.4h0M948.5 1011.4h0M982.7 1060.2h0M935.5 1067.6h0M925.5 1054.0h0M926.5 1070.3h0M964.3 1059.2h0M978.0 1080.7h0M943.1 1043.6h0M958.8 1012.7h0M950.5 1045.7h0M969.9 1071.7h0M984.8 1026.1h0M917.3 1003.4h0M939.8 1018.7h0M923.2 997.8h0M978.0 988.4h0M964.8 1072.5h0M942.7 1005.6h0M916.7 1055.4h0M975.6 1062.0h0M922.6 1076.6h0M922.4 1067.6h0M953.2 1030.6h0M952.2 1074.8h0M943.0 1047.1h0M956.3 1021.9h0M994.5 1053.1h0M920.5 969.6h0M935.9 1051.1h0M970.7 973.4h0M965.4 1082.3h0M983.0 1021.5h0M994.9 1030.2h0M993.0 1040.2h0M962.9 1035.5h0M988.5 1027.4h0M971.1 1023.0h0M938.2 1008.8h0M974.5 986.7h0M972.2 1026.6h0M947.9 1072.9h0M932.3 1005.6h0M932.6 1073.5h0M928.3 1082.7h0M925.3 972.3h0M951.3 1001.7h0M988.4 1010.4h0M923.5 999.6h0M956.8 1043.5h0M949.6 1066.0h0M974.9 998.8h0M932.0 1077.0h0M990.6 1036.0h0M976.2 984.1h0M946.5 1003.1h0M963.7 1014.1h0M936.5 998.3h0M981.6 1052.7h0M976.4 1045.1h0M929.8 1043.1h0M946.8 1009.3h0M929.2 977.6h0M975.2 1072.7h0M943.9 1049.2h0M925.0 1036.1h0M924.2 1003.3h0M978.1 983.1h0M980.0 1079.9h0M957.4 984.9h0M939.1 1015.3h0M966.7 1063.2h0M921.5 965.6h0M967.7 995.7h0M942.3 1051.6h0M969.7 981.4h0M968.0 1016.1h0M927.7 990.7h0M917.8 966.7h0M952.7 980.8h0M956.3 1006.7h0M923.4 1031.8h0M918.0 1081.5h0M971.7 1089.2h0M937.0 1017.6h0M922.6 1052.6h0M975.4 975.9h0M965.8 1052.6h0M960.0 1005.0h0M987.0 1039.6h0M951.6 1075.7h0M995.9 1041.4h0M967.7 1054.1h0M989.0 1062.6h0M960.9 1021.6h0M965.7 1017.6h0M948.2 1003.9h0M982.8 1021.5h0M956.9 1008.4h0M981.7 1030.3h0M982.7 1069.1h0M919.4 1053.3h0M921.9 1015.0h0M927.2 968.5h0M986.9 1074.2h0M934.1 1024.0h0M939.3 1002.6h0M982.3 994.8h0M976.4 998.2h0M959.2 1008.9h0M992.2 1022.4h0M958.8 1037.6h0M956.9 1066.6h0M974.3 1016.4h0M976.8 1079.3h0M977.8 1082.9h0M930.4 968.2h0M979.1 1088.1h0M984.1 1086.1h0M985.6 1013.4h0M982.2 989.6h0M946.8 1034.9h0M941.3 1008.0h0M988.4 1059.7h0M995.6 1080.8h0M929.4 1020.5h0M944.1 1060.5h0M990.8 996.7h0M945.7 979.0h0M970.3 1051.6h0M960.6 1068.0h0M967.2 972.7h0M943.6 973.1h0M950.1 973.2h0M925.9 1050.3h0M979.6 1013.8h0M988.0 1014.4h0M937.5 1030.8h0M937.7 988.2h0M992.2 1025.2h0M954.9 1056.4h0M954.3 1049.8h0M955.2 1084.6h0M972.7 1050.7h0M921.8 1008.0h0M917.8 972.8h0M951.1 1082.5h0M918.4 1079.9h0M949.5 1024.0h0M934.3 987.7h0M926.3 1064.4h0M953.1 1066.9h0M994.3 1041.9h0M958.3 1004.6h0M916.0 971.6h0M918.8 971.4h0M976.5 1058.3h0M985.0 1021.7h0M995.3 1018.0h0M961.1 1008.8h0M978.4 1043.9h0M922.3 995.2h0M973.9 1011.5h0M985.7 994.3h0M951.1 1047.8h0M940.4 1074.3h0M984.9 1075.7h0M929.1 1022.9h0M917.2 1002.0h0M970.1 1047.3h0M961.2 1025.5h0M951.7 986.7h0M947.9 1030.1h0M970.3 1061.4h0M916.2 1040.2h0M946.1 1006.3h0M986.9 1041.0h0M975.1 1024.1h0M972.9 1015.0h0M957.5 989.3h0M921.6 964.0h0M936.8 1019.9h0M920.2 1077.6h0M963.1 997.9h0M980.2 989.3h0M967.8 1067.8h0M982.3 1053.6h0M962.3 1087.5h0M916.6 971.1h0M938.8 1000.9h0M961.0 1045.7h0M951.8 1073.3h0M953.6 979.2h0M948.4 981.0h0M924.7 1010.9h0M986.7 1044.1h0M961.6 1024.2h0M975.5 1012.6h0M932.6 1027.8h0M957.8 999.8h0M980.9 1010.2h0M950.7 1003.8h0M929.5 1007.8h0M966.0 1012.8h0M991.6 1046.5h0M929.8 991.7h0M981.8 995.6h0M989.4 999.0h0M921.4 1026.6h0M964.6 1056.7h0M925.3 1034.4h0M969.7 985.9h0M939.8 1074.6h0M988.6 995.4h0M965.2 1063.8h0M975.8 1069.6h0M973.0 1070.7h0M969.5 1016.3h0M986.3 1045.8h0M983.3 1089.1h0M976.4 1058.5h0M987.2 1085.4h0M965.2 1080.4h0M957.5 1023.5h0M985.3 1068.7h0M994.3 1010.4h0M980.9 1087.4h0M977.9 986.8h0M932.2 1067.2h0M957.0 983.7h0M915.8 1011.6h0M939.0 1078.4h0M940.8 1041.6h0M927.2 1056.0h0M989.9 1009.8h0M991.7 1043.2h0M966.3 981.6h0M977.5 1019.5h0M925.8 980.3h0M932.3 1025.2h0M922.1 987.8h0M978.5 1064.4h0M982.8 1042.8h0M965.0 985.6h0M979.6 1067.6h0M962.9 1032.1h0M918.3 968.1h0M942.7 1081.1h0M941.9 1079.9h0M992.3 997.2h0M952.3 1072.2h0M967.4 1037.3h0M934.6 979.5h0M960.1 1030.6h0M973.5 991.3h0M951.8 986.2h0M970.1 1047.7h0M937.0 984.2h0M993.5 1056.5h0M950.5 1069.4h0M929.9 1044.5h0M960.7 1028.5h0M929.8 1032.7h0M996.2 1057.7h0M965.6 1081.4h0M932.6 969.9h0M931.7 1001.4h0M964.3 1071.7h0M972.2 1056.0h0M966.8 1031.7h0M929.5 1035.4h0M927.3 986.6h0M958.4 984.3h0M953.1 1038.7h0M934.0 1080.9h0M923.2 985.7h0M963.0 1064.5h0M925.9 1003.6h0M986.0 1072.1h0M974.3 1048.2h0M995.9 1060.1h0M929.8 1025.6h0M994.3 994.9h0M984.9 1060.7h0M969.0 977.6h0M980.6 1029.1h0M930.0 1078.5h0M961.8 990.9h0M979.0 1044.7h0M970.5 1013.6h0M938.0 1010.9h0M969.3 1043.7h0M944.2 986.3h0M942.7 1033.8h0M922.1 985.9h0M986.2 1007.0h0M947.6 974.3h0M957.4 983.4h0M916.8 1030.6h0M953.5 1039.3h0M946.3 993.1h0M986.6 1072.4h0M923.1 1077.6h0M1055.8 690.5h0M1062.3 690.6h0M1065.2 690.5h0M1070.9 690.1h0M1073.7 689.9h0M1082.8 688.9h0M1086.3 688.7h0M1088.8 688.6h0M1037.9 689.7h0M1040.9 689.6h0M1044.3 688.9h0M1050.0 688.1h0M1041.7 692.1h0M1044.4 691.6h0M1047.7 691.7h0M1050.7 691.4h0M1059.5 691.1h0M1062.7 690.0h0M1068.4 689.5h0M1014.0 676.3h0M1019.9 676.5h0M1025.7 675.9h0M1028.5 675.3h0M1031.5 675.7h0M1034.7 674.9h0M1037.6 674.8h0M1043.8 675.1h0M1049.5 674.8h0M1072.7 676.4h0M1075.8 675.9h0M1078.3 675.6h0M1081.6 674.7h0M1054.5 674.3h0M1061.2 687.7h0M1064.5 687.0h0M1067.3 686.8h0M1070.0 686.0h0M1087.7 682.1h0M1018.6 675.9h0M1027.6 676.2h0M1030.9 675.9h0M1033.6 675.9h0M1036.6 676.4h0M1060.7 679.4h0M1063.3 679.7h0M1066.8 680.0h0M1078.5 681.1h0M1087.4 683.3h0M1090.4 683.7h0M1022.3 682.0h0M1025.1 682.3h0M1031.4 682.0h0M1034.6 682.5h0M1040.5 682.6h0M1043.5 682.4h0M1052.1 683.6h0M1018.1 678.2h0M1023.8 678.9h0M1029.8 679.9h0M1027.1 686.7h0M1035.8 687.6h0M1039.0 687.8h0M1041.8 688.1h0M1045.2 688.5h0M1047.9 688.6h0M1051.2 689.0h0M1054.2 690.0h0M1012.5 691.2h0M1021.4 689.5h0M1024.5 689.1h0M1027.4 688.6h0M1030.4 687.8h0M1033.1 687.3h0M1068.2 686.5h0M1077.1 688.7h0M1079.8 689.1h0M1082.5 689.4h0M1085.7 690.3h0M1091.6 692.4h0M1079.9 692.0h0M1083.2 691.0h0M1088.9 689.3h0M1021.8 680.6h0M1030.4 679.6h0M1033.7 679.9h0M1036.6 679.1h0M1039.9 679.0h0M1042.7 679.1h0M1045.4 679.2h0M1039.7 687.0h0M1042.9 686.8h0M1045.6 686.3h0M1051.9 685.8h0M1054.6 685.7h0M1060.8 684.0h0M1063.7 683.9h0M1072.7 681.4h0M1076.7 681.1h0M1082.4 680.8h0M1085.4 681.2h0M1088.2 680.3h0M1091.7 680.5h0M1067.3 678.6h0M1085.8 685.2h0M1087.4 686.3h0M1089.5 690.7h0M1044.8 676.6h0M1071.5 676.0h0M1019.7 683.4h0M1081.7 688.6h0M1079.2 691.2h0M1083.0 675.6h0M1043.1 678.9h0M1058.2 681.4h0M1039.7 685.4h0M1012.6 683.5h0M1077.2 675.5h0M1019.8 687.0h0M1065.6 681.4h0M1083.9 688.9h0M1024.6 685.9h0M1047.9 686.7h0M1024.3 685.2h0M1087.2 688.8h0M1020.8 679.0h0M1015.5 687.1h0M1079.1 684.3h0M1015.0 675.9h0M1077.6 684.3h0M1046.3 676.7h0M1037.6 684.9h0M1089.9 680.4h0M1016.0 687.8h0M1019.5 678.8h0M1088.0 691.0h0M1018.4 685.7h0M1040.5 681.8h0M1071.7 676.2h0M1065.2 678.9h0M1062.4 681.0h0M1058.0 681.7h0M1017.5 684.0h0M1050.0 678.4h0M1034.8 674.9h0M1075.6 688.9h0M1047.7 683.3h0M1034.4 680.0h0M1067.2 690.3h0M1019.1 692.9h0M1034.3 687.4h0M1065.2 679.2h0M1077.1 691.5h0M1063.0 688.3h0M1084.4 690.3h0M1022.5 676.0h0M1016.4 683.7h0M1045.1 675.0h0M1023.8 678.1h0M1090.8 685.5h0M1069.2 691.2h0M1089.7 677.5h0M1082.3 685.2h0M1064.3 713.5h0M1066.8 714.4h0M1069.7 714.8h0M1075.9 716.1h0M1078.4 717.3h0M1081.4 717.6h0M1084.8 718.3h0M1087.4 719.3h0M1072.4 712.1h0M1080.8 709.9h0M1084.0 709.2h0M1086.9 709.1h0M1079.5 707.9h0M1082.6 706.5h0M1088.2 704.0h0M1071.6 745.2h0M1078.0 744.8h0M1080.9 743.7h0M1012.3 799.0h0M1015.2 797.9h0M1013.4 766.9h0M1014.3 728.7h0M1057.4 745.7h0M1060.3 747.0h0M1062.5 748.9h0M1065.1 750.4h0M1067.9 752.1h0M1073.4 755.0h0M1065.6 734.8h0M1068.0 733.5h0M1011.8 747.9h0M1017.2 746.5h0M1066.6 708.4h0M1069.3 707.1h0M1074.1 703.7h0M1076.7 701.6h0M1079.4 700.3h0M1081.6 698.5h0M1084.3 695.9h0M1086.6 694.1h0M1029.0 784.0h0M1031.7 785.7h0M1034.5 787.6h0M1069.2 752.9h0M1071.8 753.8h0M1082.4 760.3h0M1078.9 720.0h0M1084.6 722.7h0M1087.3 724.0h0M1015.1 745.6h0M1020.4 747.9h0M1026.0 749.5h0M1029.0 751.0h0M1011.8 754.8h0M1034.5 695.9h0M1043.0 695.7h0M1049.0 696.2h0M1052.4 696.1h0M1022.7 741.1h0M1025.8 741.0h0M1028.6 739.8h0M1034.3 737.9h0M1037.3 736.9h0M1015.6 778.9h0M1049.6 703.9h0M1052.7 705.1h0M1057.9 707.3h0M1060.9 708.3h0M1066.8 709.8h0M1069.4 711.5h0M1072.5 712.0h0M1078.2 714.2h0M1080.7 715.1h0M1083.6 716.3h0M1086.2 717.4h0M1058.5 721.4h0M1067.1 719.9h0M1072.8 719.4h0M1076.1 719.0h0M1079.0 719.0h0M1081.8 718.8h0M1012.1 753.2h0M1015.0 751.9h0M1018.3 750.5h0M1021.0 749.4h0M1023.5 748.6h0M1039.3 776.7h0M1045.5 777.0h0M1045.4 712.3h0M1047.9 711.4h0M1050.7 709.3h0M1055.5 706.5h0M1059.7 772.0h0M1064.8 769.2h0M1068.1 768.1h0M1070.7 766.9h0M1038.1 730.8h0M1040.8 729.5h0M1048.6 725.7h0M1053.8 722.1h0M1076.3 721.2h0M1078.7 723.0h0M1081.4 724.1h0M1059.4 696.6h0M1033.3 696.7h0M1091.3 726.6h0M1063.7 729.0h0M1065.2 706.1h0M1078.7 717.8h0M1034.1 770.0h0M1067.0 762.6h0M1055.2 712.2h0M1032.1 712.2h0M1020.0 717.7h0M1040.4 780.7h0M1058.3 714.5h0M1031.7 705.5h0M1072.4 754.3h0M1052.4 737.0h0M1023.9 693.4h0M1060.5 731.3h0M1057.7 723.1h0M1024.5 727.0h0M1020.7 758.0h0M1047.5 740.2h0M1048.1 746.0h0M1032.1 736.1h0M1058.0 730.6h0M1087.8 733.8h0M1020.2 713.5h0M1056.5 765.7h0M1041.7 721.0h0M1049.7 708.5h0M1016.6 737.8h0M1045.5 701.3h0M1051.4 767.1h0M1031.1 778.2h0M1021.5 759.8h0M1012.4 782.8h0M1087.3 726.8h0M1014.1 712.0h0M1026.6 771.4h0M1038.1 699.7h0M1065.2 735.5h0M1091.1 736.0h0M1037.9 735.6h0M1021.9 741.1h0M1076.2 710.5h0M1036.7 730.1h0M1015.8 715.2h0M1084.8 743.8h0M1044.3 709.4h0M1026.8 734.2h0M1014.0 759.2h0M1022.4 700.4h0M1075.3 717.8h0M1038.9 710.5h0M1058.4 716.9h0M1089.7 711.7h0M1071.9 710.2h0M1086.2 755.7h0M1079.5 695.1h0M1024.7 699.3h0M1025.7 776.8h0M1067.1 706.5h0M1040.2 767.8h0M1049.5 719.1h0M1022.7 750.2h0M1042.7 709.6h0M1086.7 703.6h0M1079.7 707.0h0M1033.7 694.8h0M1085.2 733.2h0M1030.0 695.3h0M1045.2 707.2h0M1038.0 712.1h0M1034.2 702.3h0M1057.6 704.8h0M1021.3 791.2h0M1037.3 723.7h0M1069.2 743.0h0M1023.3 755.3h0M1043.8 701.8h0M1072.6 752.5h0M1058.2 731.8h0M1063.1 745.9h0M1023.0 694.5h0M1068.6 695.1h0M1066.4 724.8h0M1027.1 736.3h0M1054.6 756.9h0M1087.3 724.8h0M1022.4 740.4h0M1030.8 750.4h0M1091.4 750.0h0M1021.1 767.2h0M1070.3 749.5h0M1026.8 721.4h0M1024.6 728.9h0M1018.0 693.9h0M1059.6 712.5h0M1042.3 751.5h0M1011.6 715.8h0M1041.7 703.9h0M1088.3 697.2h0M1057.3 730.3h0M1025.1 711.8h0M1046.8 723.0h0M1080.1 751.6h0M1065.3 738.9h0M1086.9 731.2h0M1020.0 745.3h0M1058.1 720.2h0M1076.0 719.1h0M1022.6 712.6h0M1077.5 749.1h0M1013.7 720.2h0M1016.4 758.0h0M1054.8 774.3h0M1048.9 759.4h0M1037.2 700.7h0M1026.5 764.6h0M1070.4 697.5h0M1075.3 737.2h0M1025.3 753.1h0M1080.6 743.9h0M1087.4 713.8h0M1075.3 710.4h0M1032.9 771.8h0M1028.4 698.0h0M1014.2 767.7h0M1014.2 751.1h0M1049.5 708.1h0M1056.4 723.2h0M1079.5 714.7h0M1076.2 717.2h0M1068.0 712.9h0M1086.6 709.2h0M1017.0 743.7h0M1050.6 740.0h0M1043.6 695.1h0M1071.6 761.0h0M1035.0 783.0h0M1036.6 707.0h0M1021.4 696.6h0M1066.2 695.9h0M1019.9 774.6h0M1068.3 703.0h0M1082.2 743.1h0M1048.9 749.1h0M1070.6 730.2h0M1089.8 751.9h0M1052.5 758.2h0M1025.8 759.5h0M1019.0 752.1h0M1019.7 734.9h0M1056.0 745.2h0M1040.1 722.3h0M1031.3 720.8h0M1034.3 741.5h0M1013.5 720.6h0M1059.4 755.9h0M1024.5 745.0h0M1052.8 750.5h0M1035.5 713.3h0M1043.3 732.8h0M1033.2 746.3h0M1027.4 731.4h0M1057.5 746.2h0M1052.3 721.6h0M1033.0 732.1h0M1057.3 732.4h0M1023.5 754.9h0M1022.9 717.5h0M1022.3 727.9h0M1032.3 723.4h0M1050.0 744.9h0M1020.1 751.2h0M1057.2 712.5h0M1052.7 736.4h0M1029.4 755.2h0M1060.3 715.2h0M1055.1 710.8h0M1034.5 717.5h0M1014.8 741.1h0M1016.4 716.6h0M1034.5 731.2h0M1047.9 712.6h0M1044.5 753.8h0M1054.5 737.1h0M1023.2 755.8h0M1051.7 733.4h0M1031.6 718.5h0M1052.0 750.9h0M1014.0 711.3h0M1028.6 726.0h0M1051.7 718.2h0M1049.7 750.1h0M1030.2 741.5h0M1019.3 750.7h0M1055.6 746.3h0M1015.9 747.6h0M1043.7 756.2h0M1049.8 753.8h0M1013.3 728.1h0M1027.2 735.4h0M1028.9 721.4h0M1039.3 755.4h0M1041.7 754.1h0M1029.3 715.2h0M1040.1 745.0h0M1051.4 730.7h0M1037.1 754.2h0M1023.3 717.1h0M1021.2 734.9h0M1050.7 752.8h0M1021.3 726.7h0M1022.5 740.3h0M1055.8 715.0h0M1043.8 747.9h0M1019.8 742.7h0M1052.5 714.7h0M1042.1 713.9h0M1049.2 722.2h0M1020.9 712.8h0M1012.9 754.1h0M1048.4 713.3h0M1036.0 726.9h0M1028.6 742.0h0M1032.3 735.1h0M1057.2 752.7h0M1030.5 750.1h0M1024.4 754.7h0M1049.8 731.2h0M1058.4 742.7h0M1018.1 742.8h0M1012.5 748.3h0M1047.7 743.3h0M1033.2 731.3h0M1055.1 750.6h0M1041.3 710.1h0M1047.1 757.3h0M1032.6 733.1h0M1017.8 768.8h0M1060.8 773.4h0M1013.5 763.6h0M1055.2 764.2h0M1059.6 768.9h0M1016.5 800.8h0M1013.5 771.7h0M1039.3 790.4h0M1017.7 765.9h0M1026.1 785.1h0M1011.7 764.9h0M1053.4 761.5h0M1038.3 774.3h0M1025.3 799.6h0M1045.5 793.7h0M1029.9 802.5h0M1072.3 760.9h0M1056.0 790.9h0M1023.1 796.1h0M1035.6 769.8h0M1024.4 782.3h0M1032.2 774.3h0M1056.0 769.9h0M1013.6 764.3h0M1038.4 795.2h0M1019.3 793.6h0M1017.3 802.8h0M1064.5 770.5h0M1022.0 766.0h0M1071.0 772.1h0M1025.4 773.8h0M1030.3 778.5h0M1069.6 767.0h0M1068.7 766.7h0M1049.2 774.1h0M1028.2 768.1h0M1023.0 769.0h0M1048.0 763.7h0M1014.4 776.6h0M1013.8 777.2h0M1062.3 995.4h0M1016.2 1016.1h0M1020.3 1034.9h0M1034.0 1008.9h0M1028.3 1009.9h0M1023.3 982.7h0M1027.5 1025.5h0M1056.5 1001.1h0M1028.4 986.4h0M1033.9 1032.2h0M1053.2 1036.9h0M1034.2 1019.5h0M1076.1 1007.3h0M1050.6 1011.1h0M1077.9 1009.5h0M1029.5 1006.8h0M1053.1 1006.7h0M1038.2 1030.8h0M1019.0 1028.7h0M1091.3 1032.8h0M1039.8 1040.5h0M1029.5 1029.9h0M1019.5 990.5h0M1085.9 1006.5h0M1028.5 990.0h0M1026.8 1003.2h0M1061.0 1021.9h0M1022.3 1015.2h0M1047.2 1020.1h0M1027.6 1029.1h0M1045.4 1032.7h0M1038.4 1036.1h0M1088.3 1033.5h0M1054.3 1029.6h0M1016.1 1021.4h0M1044.6 988.6h0M1045.7 1018.2h0M1077.7 1035.0h0M1080.4 1005.3h0M1046.7 991.0h0M1022.7 1004.3h0M1064.2 1004.4h0M1044.5 1006.2h0M1042.9 1003.4h0M1075.7 1012.0h0M1037.6 997.6h0M1022.7 1005.1h0M1016.5 1018.5h0M1046.1 996.7h0M1061.4 1008.2h0M1019.6 978.5h0M1080.7 1039.2h0M1041.5 986.8h0M1050.6 994.8h0M1054.2 1029.9h0M1040.9 1035.0h0M1062.0 1009.8h0M1070.2 1032.0h0M1040.3 1032.0h0M1043.3 1011.9h0M1058.8 1031.8h0M1083.2 1022.5h0M1065.5 1024.9h0M1065.9 1016.0h0M1033.3 1007.3h0M1049.0 1039.4h0M1038.8 996.1h0M1079.2 1038.0h0M1061.4 1025.9h0M1021.2 1015.0h0M1017.1 1024.0h0M1077.2 1007.4h0M1067.4 1002.9h0M1031.0 1001.3h0M1074.5 1028.1h0M1030.0 995.7h0M1028.3 1006.5h0M1042.6 1030.7h0M1045.5 1041.0h0M1017.9 990.7h0M1089.8 1036.5h0M1018.6 997.4h0M1060.7 1012.3h0M1059.3 1031.4h0M1074.0 1011.6h0M1045.1 984.4h0M1060.7 1030.0h0M1032.5 981.9h0M1030.4 996.9h0M1083.5 1023.9h0M1076.6 1002.0h0M1035.8 993.3h0M1033.9 1013.5h0M1028.4 1036.3h0M1027.8 1027.4h0M1041.0 990.0h0M1060.3 991.4h0M1088.1 1016.9h0M1075.0 1025.1h0M1073.5 1006.5h0M1026.4 1010.0h0M1038.3 1002.9h0M1067.8 1026.5h0M1072.8 1036.1h0M1049.8 1027.4h0M1053.4 1004.6h0M1040.2 1039.5h0M1080.8 1035.2h0M1029.9 997.1h0M1026.1 1000.0h0M1060.9 1039.4h0M1045.3 1023.5h0M1030.8 1022.4h0M1024.0 1015.8h0M1070.6 1023.7h0M1071.0 1036.7h0M1018.5 1039.3h0M1062.8 1038.2h0M1070.1 1018.5h0M1029.6 1013.4h0M1013.0 1064.1h0M1027.3 1062.2h0M1029.9 1061.8h0M1039.4 1062.7h0M1051.4 1064.1h0M1017.7 1061.2h0M1020.5 1060.8h0M1023.6 1061.2h0M1026.6 1060.5h0M1035.4 1059.6h0M1038.5 1059.5h0M1043.3 1048.4h0M1049.5 1047.3h0M1052.7 1046.6h0M1021.3 1045.6h0M1024.1 1045.5h0M1027.6 1046.1h0M1030.5 1046.5h0M1036.0 1047.5h0M1048.3 1057.6h0M1051.5 1057.3h0M1016.7 1061.3h0M1019.9 1060.6h0M1022.5 1060.4h0M1028.4 1060.5h0M1011.5 1058.6h0M1014.7 1058.6h0M1014.1 1061.0h0M1026.1 1062.8h0M1023.9 1052.4h0M1036.1 1052.4h0M1039.1 1053.0h0M1042.1 1053.1h0M1031.9 1045.2h0M1034.8 1046.1h0M1037.9 1046.5h0M1040.8 1046.9h0M1044.1 1048.2h0M1049.5 1049.2h0M1052.8 1050.4h0M1049.3 1048.4h0M1055.2 1047.4h0M1058.0 1046.6h0M1061.1 1045.5h0M1049.1 1059.1h0M1052.4 1059.7h0M1058.3 1060.2h0M1060.9 1060.5h0M1015.8 1042.6h0M1018.8 1042.4h0M1027.8 1046.3h0M1030.4 1046.1h0M1036.4 1045.8h0M1039.7 1045.4h0M1042.3 1045.0h0M1045.4 1044.8h0M1048.4 1044.0h0M1051.4 1043.9h0M1054.8 1043.4h0M1057.3 1042.3h0M1060.4 1041.9h0M1036.9 1054.2h0M1040.0 1054.8h0M1043.1 1054.9h0M1046.0 1055.9h0M1049.2 1056.7h0M1050.6 1049.8h0M1048.2 1053.8h0M1028.0 1052.9h0M1041.1 1045.4h0M1016.7 1041.3h0M1029.3 1053.2h0M1037.9 1055.1h0M1058.2 1048.5h0M1024.4 1052.8h0M1022.1 1062.7h0M1020.9 1049.2h0M1027.7 1045.4h0M1023.7 1052.7h0M1032.3 1060.4h0M1026.5 1044.7h0M1032.0 1050.4h0M1035.1 1046.3h0M1042.5 1053.0h0M1050.0 1044.5h0M1041.7 1042.2h0M1012.6 1047.7h0M1049.9 1044.3h0M1031.9 1060.4h0M1028.8 1042.1h0M1047.8 1060.5h0M1038.4 1043.2h0M1047.0 1062.1h0M1043.4 1053.1h0M1057.5 1058.8h0M1030.4 1057.4h0M1046.5 1058.3h0M1021.3 1051.2h0M1031.0 1049.3h0M1042.4 1054.7h0M1017.2 1047.4h0M1052.1 1044.4h0M1016.2 1056.6h0M1016.9 1052.5h0M1053.5 1041.6h0M1045.3 1044.2h0M1023.4 1059.6h0M1041.2 1063.4h0M1020.9 1045.2h0M1021.0 1060.2h0M1018.5 1055.7h0M1046.0 1043.0h0M1059.4 1061.0h0M1060.4 1053.6h0M1016.1 1049.7h0M1027.2 1054.8h0M1041.0 1060.4h0M1043.8 1053.6h0M1029.4 1041.6h0M1023.0 1057.5h0M1015.7 1047.3h0M1015.9 1061.5h0M1059.0 1058.7h0M1046.9 1060.8h0M1060.5 1046.8h0M1024.3 1041.4h0M1015.8 1056.0h0M1013.5 1052.2h0M1046.3 1048.1h0M1049.1 1045.2h0M1019.7 1046.9h0M1025.4 1057.1h0M1026.4 1056.9h0M1016.9 1045.3h0M1024.5 1060.1h0M1026.4 1043.3h0M1015.7 1054.5h0M1019.1 1056.9h0M1017.8 1048.7h0M1052.1 1055.2h0M1013.9 1055.2h0M1052.7 1049.9h0M1042.9 1047.3h0M1035.6 1054.5h0M1020.2 1047.6h0M1054.0 1049.7h0M1025.5 1049.1h0M1054.0 1047.5h0M1013.9 1061.5h0M1047.7 1046.3h0M1038.9 1063.9h0M1020.0 1048.4h0M1049.3 1060.6h0M1047.9 1044.7h0M1015.8 1045.1h0M1033.9 1059.7h0M1079.9 1070.6h0M1078.6 1071.2h0M1084.8 1076.1h0M1081.5 1060.8h0M1078.8 1045.8h0M1068.3 1073.7h0M1083.0 1044.5h0M1077.3 1080.7h0M1077.9 1070.9h0M1073.7 1079.0h0M1080.6 1049.9h0M1081.9 1061.0h0M1090.7 1051.7h0M1071.6 1059.9h0M1064.0 1067.0h0M1082.7 1042.3h0M1091.6 1068.1h0M1068.0 1041.8h0M1068.7 1069.9h0M1074.8 1052.6h0M1086.1 1078.2h0M1083.7 1077.0h0M1088.3 1067.2h0M1082.5 1050.0h0M1068.0 1062.8h0M1086.2 1051.6h0M1068.2 1061.8h0M1072.0 1044.7h0M1078.2 1067.2h0M1063.9 1080.0h0M1089.8 1058.7h0M1066.3 1043.9h0M1077.0 1046.1h0M1066.4 1058.0h0M1077.5 1066.9h0M1085.2 1060.4h0M1068.0 1066.3h0M1088.6 1062.9h0M1072.7 1068.8h0M1087.2 1043.6h0M1078.4 1070.8h0M1066.4 1082.3h0M1070.3 1065.4h0M1080.4 1048.8h0M1069.2 1042.3h0M1078.8 1080.8h0M1087.5 1054.7h0M1084.6 1053.1h0M1078.7 1060.0h0M1090.0 1050.5h0M1089.0 1079.9h0M1085.6 1069.0h0M1081.4 1043.6h0M1090.9 1050.9h0M1079.0 1076.7h0M1089.4 1077.9h0M1082.9 1042.0h0M1075.2 1070.5h0M1069.0 1050.8h0M1076.0 1077.7h0M1017.0 1083.7h0M1044.8 1078.1h0M1046.2 1076.1h0M1034.4 1070.9h0M1052.1 1070.3h0M1056.8 1068.5h0M1045.9 1080.0h0M1042.5 1079.8h0M1036.6 1070.6h0M1057.4 1067.1h0M1059.9 1078.8h0M1020.7 1076.8h0M1012.8 1066.1h0M1049.2 1067.2h0M1014.4 1075.2h0M1061.5 1072.8h0M1049.9 1066.8h0M1019.3 1064.0h0M1013.9 1065.6h0M1017.6 1082.5h0M1021.4 1064.4h0M1012.0 1073.4h0M1051.3 1075.6h0M1047.9 1068.9h0M1045.9 1072.5h0M1019.9 1083.8h0M1036.1 1082.7h0M1057.3 1082.2h0M1018.7 1066.7h0M1051.3 1083.2h0M1015.1 1081.9h0M1024.1 1075.1h0M1052.9 1075.1h0M1032.0 1064.5h0M1051.0 1075.5h0M1024.6 1064.4h0M1034.2 1066.1h0M1060.5 1064.8h0M1014.0 1078.3h0M1059.1 1072.2h0M1018.6 1069.9h0M1048.0 1069.8h0M1023.6 1082.4h0M1024.3 1073.3h0M1020.5 1068.0h0M1017.9 1075.1h0M1052.0 1064.4h0M1052.0 1075.5h0M1059.2 1082.2h0M1022.7 1066.7h0M1027.5 1094.9h0M1030.7 1095.6h0M1045.5 1098.5h0M1051.6 1099.7h0M1054.1 1100.7h0M1043.0 1090.5h0M1055.2 1090.6h0M1057.9 1090.3h0M1061.1 1090.9h0M1070.0 1090.6h0M1073.3 1090.3h0M1078.9 1090.6h0M1071.1 1093.2h0M1073.5 1094.0h0M1076.9 1093.9h0M1082.5 1094.8h0M1085.9 1094.9h0M1091.5 1095.8h0M1063.6 1089.0h0M1072.3 1089.0h0M1075.5 1088.5h0M1016.0 1088.0h0M1018.6 1087.8h0M1021.6 1087.5h0M1024.5 1087.6h0M1027.5 1086.9h0M1030.8 1087.6h0M1034.0 1086.9h0M1037.0 1087.5h0M1039.5 1087.1h0M1042.4 1087.6h0M1045.7 1087.9h0M1074.7 1093.4h0M1083.5 1094.6h0M1086.9 1095.4h0M1089.7 1096.4h0M1050.0 1084.5h0M1059.3 1085.1h0M1012.9 1100.3h0M1021.8 1101.8h0M1039.0 1089.2h0M1042.3 1089.6h0M1045.2 1089.2h0M1050.8 1089.3h0M1054.1 1089.2h0M1057.1 1089.2h0M1059.8 1089.3h0M1063.3 1089.6h0M1066.2 1089.5h0M1028.9 1091.1h0M1032.1 1090.5h0M1034.9 1090.0h0M1038.1 1090.0h0M1041.0 1089.5h0M1043.9 1088.8h0M1046.7 1089.0h0M1049.8 1088.8h0M1052.5 1088.9h0M1015.4 1087.5h0M1018.0 1087.5h0M1021.3 1087.9h0M1024.2 1088.7h0M1030.3 1089.5h0M1036.4 1090.6h0M1039.1 1091.4h0M1013.2 1097.4h0M1016.4 1098.3h0M1065.8 1098.6h0M1068.8 1098.0h0M1071.8 1098.2h0M1074.6 1098.0h0M1077.7 1097.8h0M1083.8 1097.3h0M1086.7 1097.4h0M1089.4 1097.5h0M1042.8 1087.6h0M1046.0 1088.7h0M1048.8 1088.8h0M1051.9 1089.1h0M1060.7 1090.0h0M1063.6 1090.6h0M1014.4 1085.0h0M1056.7 1094.7h0M1059.7 1095.0h0M1065.7 1095.4h0M1071.6 1095.6h0M1075.0 1095.5h0M1044.5 1099.5h0M1050.5 1100.6h0M1053.7 1101.9h0M1051.2 1096.0h0M1057.3 1095.0h0M1062.9 1094.5h0M1069.1 1093.3h0M1075.0 1093.0h0M1080.6 1092.5h0M1016.9 1100.7h0M1023.1 1100.3h0M1026.0 1100.2h0M1079.4 1097.8h0M1042.2 1098.9h0M1022.2 1092.5h0M1041.4 1091.1h0M1073.4 1100.3h0M1026.7 1100.2h0M1021.2 1086.8h0M1036.4 1100.9h0M1083.4 1099.0h0M1015.0 1087.3h0M1019.7 1101.4h0M1035.8 1087.0h0M1051.8 1085.0h0M1054.7 1100.3h0M1070.7 1089.2h0M1055.1 1094.8h0M1071.5 1089.0h0M1083.0 1084.0h0M1062.1 1088.7h0M1020.7 1091.6h0M1040.6 1085.1h0M1066.4 1097.4h0M1083.2 1097.8h0M1029.1 1099.3h0M1023.0 1091.8h0M1078.2 1086.1h0M1027.2 1088.6h0M1039.2 1093.8h0M1056.9 1099.9h0M1018.6 1089.0h0M1086.1 1084.9h0M1050.2 1091.6h0M1041.2 1092.1h0M1041.7 1090.1h0M1012.7 1101.7h0M1076.2 1099.2h0M1066.1 1092.9h0M1057.1 1098.3h0M1042.1 1099.1h0M1043.9 1091.5h0M1037.5 1088.9h0M1021.6 1090.8h0M1042.2 1095.4h0M1026.4 1100.7h0M1091.3 1100.0h0M1049.7 1090.0h0M1052.0 1091.4h0M1075.4 1094.8h0M1081.6 1092.8h0M1016.8 1093.1h0M1075.5 1098.6h0M1076.8 1087.2h0M1060.6 1094.1h0M1071.3 1085.1h0M1025.6 1092.8h0M1036.3 1100.3h0M1071.0 1098.2h0M1040.8 1095.5h0M1065.1 1089.6h0M1038.1 1089.8h0M1075.4 1095.6h0M1060.8 1089.0h0M1036.5 1096.9h0M1031.0 1086.0h0M1058.2 1100.7h0M1088.9 1087.8h0M1025.9 1084.6h0M1042.0 1092.0h0M1091.1 1086.8h0M1078.4 1099.1h0M1078.8 1101.5h0M1040.4 1097.3h0M1091.1 1089.9h0M1091.2 1096.9h0M1040.3 1090.9h0M1048.5 1091.3h0M1064.7 1092.0h0M1020.9 1090.8h0M1019.6 1090.6h0M1055.3 1084.1h0M1070.1 1101.0h0M1026.1 1094.3h0M1013.3 1086.4h0M1036.8 1084.2h0M1011.9 1090.2h0M1043.1 1096.4h0M1066.5 1091.2h0M1050.0 1091.3h0M1023.3 1089.7h0M1041.1 1100.3h0M1090.1 1098.2h0M1048.0 1100.7h0M1013.3 1085.9h0M1033.7 1089.7h0M1075.6 1101.8h0M1044.5 1099.3h0M1038.8 1098.6h0M1049.6 1092.3h0M1057.1 1086.4h0M1059.3 1099.3h0M1005.3 1075.8h0M1005.0 1026.6h0M996.9 1039.1h0M1008.3 1064.4h0M1009.2 982.0h0M998.2 1056.2h0M1007.8 1046.1h0M999.4 1056.7h0M1000.2 1072.7h0M1005.7 1019.7h0M1006.8 994.1h0M998.6 978.0h0M997.9 987.1h0M1009.0 1024.0h0M1001.9 703.7h0M997.8 728.7h0M1003.1 777.2h0M1002.0 799.0h0M996.1 730.6h0M998.2 766.8h0M1004.2 718.5h0M1007.3 754.8h0M996.4 738.6h0M997.9 784.5h0M1004.4 770.7h0M998.0 715.8h0M996.8 755.4h0M1005.4 766.7h0M1003.4 741.8h0M997.1 789.2h0M1004.7 771.2h0M999.7 761.4h0M1009.7 757.6h0M1006.6 750.6h0" stroke="#10107a" stroke-width="3.4" stroke-linecap="round" fill="none"/>
<path d="M206.0 891.8h0M208.0 893.4h0M210.0 895.3h0M211.8 896.8h0M212.2 897.2h0M216.3 901.1h0M217.8 902.6h0M219.7 904.8h0M219.7 905.0h0M221.9 906.9h0M223.4 908.8h0M225.0 911.0h0M227.1 912.6h0M228.4 914.1h0M230.4 916.1h0M231.9 918.4h0M206.7 880.8h0M209.0 878.9h0M210.7 876.1h0M210.9 875.7h0M212.9 874.5h0M214.2 872.3h0M338.9 762.9h0M341.6 763.2h0M344.6 764.2h0M347.4 765.2h0M350.3 766.3h0M350.2 765.8h0M352.2 767.0h0M354.4 767.2h0M356.7 767.9h0M358.9 768.7h0M361.4 769.6h0M363.4 770.2h0M363.5 769.6h0M366.3 769.7h0M369.1 769.4h0M371.7 769.0h0M332.7 775.2h0M335.2 775.2h0M338.0 775.3h0M340.1 775.4h0M342.9 775.2h0M345.4 775.5h0M347.6 775.6h0M350.2 775.4h0M350.1 775.8h0M352.6 775.6h0M354.9 775.2h0M357.4 774.9h0M359.4 775.0h0M362.0 774.4h0M364.4 774.3h0M366.6 774.2h0M369.4 774.4h0M371.4 774.0h0M371.9 769.6h0M373.8 768.8h0M376.4 768.1h0M378.4 766.8h0M381.0 765.8h0M383.3 765.0h0M385.7 764.3h0M387.7 763.4h0M389.8 761.6h0M390.2 761.9h0M392.4 761.2h0M394.8 760.6h0M399.4 759.8h0M401.8 758.7h0M404.0 758.2h0M406.5 757.9h0M408.7 748.5h0M413.4 748.2h0M415.6 748.0h0M418.2 748.2h0M420.3 748.3h0M422.7 748.3h0M424.1 736.8h0M426.8 736.9h0M429.4 737.2h0M432.2 736.7h0M432.8 743.5h0M435.2 743.3h0M437.8 743.1h0M440.0 743.1h0M442.3 743.7h0M445.0 743.5h0M447.5 743.3h0M449.7 743.0h0M452.3 743.8h0M454.6 743.5h0M459.2 743.5h0M461.6 743.4h0M461.9 743.5h0M464.1 743.1h0M466.0 742.1h0M468.5 741.9h0M470.7 741.1h0M473.0 740.3h0M474.7 739.4h0M477.3 738.8h0M479.3 738.3h0M481.9 737.4h0M483.9 737.1h0M485.9 736.7h0M488.5 735.8h0M490.7 734.9h0M492.5 734.5h0M494.7 733.9h0M496.9 732.9h0M499.6 732.7h0M501.7 732.1h0M503.8 731.5h0M508.2 729.7h0M510.5 729.1h0M512.5 728.8h0M514.9 727.7h0M516.9 727.8h0M519.3 726.8h0M521.6 726.4h0M523.7 725.9h0M526.1 724.8h0M528.2 724.6h0M530.4 723.6h0M532.5 722.6h0M535.0 722.5h0M537.1 721.6h0M539.0 720.8h0M541.4 720.4h0M545.9 719.0h0M548.0 718.3h0M550.5 718.3h0M552.7 717.2h0M554.5 716.8h0M557.2 715.7h0M558.9 715.4h0M561.1 714.5h0M563.5 713.7h0M566.0 713.4h0M568.1 712.4h0M584.4 706.9h0M587.1 706.2h0M588.9 705.9h0M591.1 705.2h0M593.5 704.0h0M596.0 703.4h0M597.8 703.3h0M602.6 701.6h0M604.9 701.3h0M607.1 700.8h0M608.9 699.6h0M611.5 698.9h0M613.5 698.7h0M615.8 698.0h0M618.2 697.0h0M620.6 696.8h0M622.7 695.7h0M624.8 695.4h0M626.8 694.8h0M629.2 694.3h0M631.5 693.6h0M633.7 692.8h0M636.3 692.5h0M640.7 690.8h0M642.8 690.0h0M645.1 689.5h0M647.4 689.0h0M649.7 688.4h0M652.0 687.4h0M653.8 687.1h0M656.2 686.6h0M658.6 685.5h0M660.5 685.2h0M662.7 684.5h0M665.2 684.1h0M667.2 682.8h0M669.6 682.5h0M672.1 681.6h0M674.2 681.3h0M676.2 680.3h0M678.3 679.8h0M680.9 679.2h0M682.9 679.0h0M685.2 677.8h0M687.8 677.6h0M689.8 676.7h0M692.3 675.8h0M694.5 675.9h0M408.5 807.8h0M412.3 804.1h0M413.7 802.7h0M415.4 801.5h0M417.6 799.3h0M419.3 797.6h0M421.3 796.1h0M423.1 794.7h0M412.8 801.3h0M415.5 800.6h0M418.2 799.0h0M327.8 1002.8h0M330.4 1002.0h0M333.0 1002.3h0M335.2 1001.9h0M337.9 1001.7h0M340.2 1001.6h0M342.9 1001.3h0M345.0 1001.4h0M347.8 1001.0h0M350.1 1001.0h0M349.9 1001.2h0M352.4 1000.6h0M354.7 1000.9h0M357.2 1001.0h0M359.6 1000.8h0M362.4 1000.6h0M364.5 1001.0h0M367.1 1000.7h0M367.2 1000.4h0M369.4 1002.0h0M371.9 1003.3h0M331.3 1012.1h0M333.8 1011.3h0M336.2 1010.8h0M338.6 1010.4h0M340.7 1009.5h0M343.1 1008.3h0M344.9 1008.1h0M345.3 1007.8h0M347.3 1007.7h0M349.8 1007.4h0M352.6 1007.6h0M355.2 1007.5h0M357.3 1007.1h0M360.3 1007.2h0M365.4 1006.9h0M368.2 1006.7h0M370.5 1007.0h0M370.5 1005.0h0M373.2 1005.8h0M375.2 1006.8h0M377.9 1008.0h0M380.0 1009.3h0M382.9 1010.0h0M385.1 1011.3h0M384.9 1010.6h0M387.3 1012.1h0M389.1 1012.9h0M393.5 1015.1h0M395.9 1015.4h0M397.6 1016.5h0M400.3 1017.5h0M400.1 1017.9h0M403.3 1018.3h0M406.4 1018.8h0M408.4 1040.9h0M411.1 1040.6h0M413.4 1040.4h0M415.8 1040.6h0M418.2 1040.9h0M420.2 1040.9h0M424.0 1031.6h0M426.4 1031.6h0M429.4 1030.9h0M432.0 1031.4h0M433.3 1040.4h0M435.4 1040.7h0M437.9 1040.3h0M440.2 1040.3h0M442.5 1040.2h0M445.3 1039.4h0M447.6 1039.9h0M450.4 1039.1h0M452.6 1039.5h0M455.2 1039.0h0M457.2 1038.3h0M459.5 1037.6h0M461.9 1036.3h0M463.5 1035.9h0M465.8 1036.2h0M468.2 1037.1h0M470.4 1038.0h0M472.6 1038.3h0M474.7 1039.1h0M476.9 1039.7h0M479.1 1039.8h0M481.4 1041.0h0M483.7 1041.5h0M486.1 1042.0h0M487.9 1042.9h0M490.2 1043.6h0M494.8 1044.6h0M496.8 1045.5h0M499.4 1045.5h0M501.3 1046.2h0M503.7 1046.8h0M505.9 1048.0h0M508.2 1048.2h0M510.4 1048.8h0M512.7 1049.4h0M514.5 1050.2h0M516.8 1050.6h0M519.2 1051.3h0M521.3 1052.1h0M523.4 1053.0h0M525.9 1053.3h0M528.1 1054.1h0M530.4 1054.4h0M534.6 1056.0h0M536.9 1056.3h0M539.4 1057.1h0M541.3 1057.5h0M543.4 1058.7h0M545.6 1059.3h0M548.1 1059.3h0M550.1 1060.5h0M552.6 1060.5h0M557.2 1062.2h0M559.3 1062.7h0M561.4 1063.1h0M563.5 1063.9h0M565.9 1064.5h0M567.7 1065.2h0M582.6 1068.5h0M584.4 1069.0h0M587.0 1070.2h0M589.3 1070.8h0M591.0 1071.1h0M593.6 1071.9h0M596.0 1072.1h0M598.3 1072.8h0M600.4 1074.2h0M607.1 1075.8h0M609.3 1076.7h0M613.8 1078.1h0M615.8 1078.3h0M617.8 1079.3h0M620.4 1079.8h0M622.7 1080.4h0M625.1 1080.8h0M627.0 1081.7h0M629.2 1082.2h0M631.4 1083.1h0M634.0 1083.5h0M635.9 1084.3h0M638.4 1085.3h0M640.3 1085.9h0M642.6 1086.3h0M644.9 1086.9h0M647.6 1087.6h0M649.7 1088.6h0M651.9 1088.9h0M654.0 1089.9h0M656.4 1090.0h0M658.4 1090.7h0M660.5 1091.4h0M663.2 1092.7h0M665.4 1092.7h0M667.7 1093.4h0M669.8 1094.6h0M672.2 1094.9h0M673.9 1095.5h0M676.1 1096.1h0M678.3 1096.8h0M680.6 1097.6h0M683.1 1098.5h0M685.6 1098.6h0M687.3 1099.5h0M690.1 1100.3h0M692.0 1101.0h0M694.5 1102.0h0M570.1 917.3h0M569.8 920.4h0M569.7 923.2h0M569.7 922.7h0M572.8 921.8h0M578.2 920.0h0M570.0 943.7h0M575.1 943.8h0M577.9 944.0h0M577.9 943.9h0M576.0 945.9h0M574.0 947.9h0M571.8 950.3h0M570.2 968.7h0M573.0 969.8h0M575.5 970.8h0M577.8 972.4h0M850.5 722.6h0M853.2 722.8h0M855.4 723.0h0M857.9 723.0h0M860.3 722.7h0M863.1 722.6h0M801.2 889.0h0M804.4 889.1h0M806.7 888.8h0M809.3 887.9h0M812.5 888.0h0M814.7 887.8h0M815.2 887.5h0M817.5 887.9h0M819.9 887.9h0M822.4 887.6h0M827.2 888.3h0M830.0 887.6h0M830.2 887.8h0M832.8 888.4h0M835.7 888.7h0M838.5 889.4h0M848.0 991.7h0M850.4 992.0h0M853.2 992.0h0M855.8 992.1h0M860.8 991.5h0M862.8 992.0h0M848.1 995.6h0M850.5 995.5h0M852.9 995.9h0M855.5 995.2h0M857.7 995.5h0M860.4 995.3h0M863.0 995.2h0M848.1 1026.9h0M850.4 1027.0h0M852.9 1027.1h0M858.3 1027.2h0M860.6 1026.9h0M863.2 1027.3h0M864.2 1053.4h0M867.2 1053.9h0M870.3 1053.4h0M1088.8 715.0h0M1093.5 715.0h0M1095.6 714.9h0M1098.5 715.2h0M1100.7 714.9h0M1102.9 715.2h0M1086.9 1061.5h0M1089.4 1061.8h0M1092.1 1061.4h0M1095.1 1061.7h0M1097.6 1061.4h0M1100.6 1061.4h0M1102.9 1061.7h0" stroke="#14147e" stroke-width="3.1" stroke-linecap="round" fill="none"/>
<text x="0" y="24" font-family="Liberation Sans" font-weight="bold" font-size="29" fill="#000">A</text>
<text x="1" y="598.8" font-family="Liberation Sans" font-weight="bold" font-size="29" fill="#000">B</text>
<text x="106" y="54.6" text-anchor="end" font-family="Liberation Sans" font-size="25.5" fill="#4a4a4a">0.06</text>
<text x="106" y="127.0" text-anchor="end" font-family="Liberation Sans" font-size="25.5" fill="#4a4a4a">0.04</text>
<text x="106" y="199.5" text-anchor="end" font-family="Liberation Sans" font-size="25.5" fill="#4a4a4a">0.02</text>
<text x="106" y="271.9" text-anchor="end" font-family="Liberation Sans" font-size="25.5" fill="#4a4a4a">0</text>
<text x="106" y="344.3" text-anchor="end" font-family="Liberation Sans" font-size="25.5" fill="#4a4a4a">-0.02</text>
<text x="106" y="416.8" text-anchor="end" font-family="Liberation Sans" font-size="25.5" fill="#4a4a4a">-0.04</text>
<text x="106" y="489.2" text-anchor="end" font-family="Liberation Sans" font-size="25.5" fill="#4a4a4a">-0.06</text>
<text x="114.7" y="526.5" text-anchor="middle" font-family="Liberation Sans" font-size="25.5" fill="#4a4a4a">0</text>
<text x="249.6" y="526.5" text-anchor="middle" font-family="Liberation Sans" font-size="25.5" fill="#4a4a4a">10</text>
<text x="384.5" y="526.5" text-anchor="middle" font-family="Liberation Sans" font-size="25.5" fill="#4a4a4a">20</text>
<text x="519.4" y="526.5" text-anchor="middle" font-family="Liberation Sans" font-size="25.5" fill="#4a4a4a">30</text>
<text x="654.3" y="526.5" text-anchor="middle" font-family="Liberation Sans" font-size="25.5" fill="#4a4a4a">40</text>
<text x="789.2" y="526.5" text-anchor="middle" font-family="Liberation Sans" font-size="25.5" fill="#4a4a4a">50</text>
<text x="924.1" y="526.5" text-anchor="middle" font-family="Liberation Sans" font-size="25.5" fill="#4a4a4a">60</text>
<text x="1059.0" y="526.5" text-anchor="middle" font-family="Liberation Sans" font-size="25.5" fill="#4a4a4a">70</text>
<path d="M114.5 45.8h9M1058.5 45.8h-9M114.5 118.2h9M1058.5 118.2h-9M114.5 190.7h9M1058.5 190.7h-9M114.5 263.1h9M1058.5 263.1h-9M114.5 335.5h9M1058.5 335.5h-9M114.5 408.0h9M1058.5 408.0h-9M114.5 480.4h9M1058.5 480.4h-9M114.7 491.5v-9M114.7 35.5v9M249.6 491.5v-9M249.6 35.5v9M384.5 491.5v-9M384.5 35.5v9M519.4 491.5v-9M519.4 35.5v9M654.3 491.5v-9M654.3 35.5v9M789.2 491.5v-9M789.2 35.5v9M924.1 491.5v-9M924.1 35.5v9M1059.0 491.5v-9M1059.0 35.5v9" stroke="#808080" stroke-width="2.3" fill="none"/>
<rect x="114.5" y="35.5" width="944.0" height="456.0" stroke="#808080" stroke-width="2.5" fill="none"/>
<text x="587.5" y="559" text-anchor="middle" font-family="Liberation Sans" font-size="25.5" fill="#222">Pulsating frequency</text>
<text transform="translate(36,266.5) rotate(-90)" x="0" y="0" text-anchor="middle" font-family="Liberation Sans" font-size="25.5" fill="#1e1e1e">Displacement amplitude</text>
<text x="193.5" y="706.3" text-anchor="end" textLength="83.5" lengthAdjust="spacingAndGlyphs" font-family="Liberation Serif" font-size="50.5" fill="#000" stroke="#fff" stroke-width="0.6">0.04</text>
<text x="193.5" y="904.5" text-anchor="end" textLength="83.5" lengthAdjust="spacingAndGlyphs" font-family="Liberation Serif" font-size="50.5" fill="#000" stroke="#fff" stroke-width="0.6">0.00</text>
<text x="193.5" y="1102.7" text-anchor="end" textLength="83.5" lengthAdjust="spacingAndGlyphs" font-family="Liberation Serif" font-size="50.5" fill="#000" stroke="#fff" stroke-width="0.6">0.04</text>
<rect x="78.7" y="1084.1" width="29.3" height="2.3" fill="#000"/>
<text x="204.5" y="1181" text-anchor="middle" font-family="Liberation Serif" font-size="50.5" fill="#000" stroke="#fff" stroke-width="0.6">0</text>
<text x="333.1" y="1181" text-anchor="middle" font-family="Liberation Serif" font-size="50.5" fill="#000" stroke="#fff" stroke-width="0.6">10</text>
<text x="461.7" y="1181" text-anchor="middle" font-family="Liberation Serif" font-size="50.5" fill="#000" stroke="#fff" stroke-width="0.6">20</text>
<text x="590.3" y="1181" text-anchor="middle" font-family="Liberation Serif" font-size="50.5" fill="#000" stroke="#fff" stroke-width="0.6">30</text>
<text x="718.9" y="1181" text-anchor="middle" font-family="Liberation Serif" font-size="50.5" fill="#000" stroke="#fff" stroke-width="0.6">40</text>
<text x="847.5" y="1181" text-anchor="middle" font-family="Liberation Serif" font-size="50.5" fill="#000" stroke="#fff" stroke-width="0.6">50</text>
<text x="976.1" y="1181" text-anchor="middle" font-family="Liberation Serif" font-size="50.5" fill="#000" stroke="#fff" stroke-width="0.6">60</text>
<text x="1104.7" y="1181" text-anchor="middle" font-family="Liberation Serif" font-size="50.5" fill="#000" stroke="#fff" stroke-width="0.6">70</text>
<path d="M204.5 688.8h13M1105 688.8h-13M204.5 887.0h13M1105 887.0h-13M204.5 1085.2h13M1105 1085.2h-13M204.5 1134.5v-12M204.5 640v12M333.1 1134.5v-12M333.1 640v12M461.7 1134.5v-12M461.7 640v12M590.3 1134.5v-12M590.3 640v12M718.9 1134.5v-12M718.9 640v12M847.5 1134.5v-12M847.5 640v12M976.1 1134.5v-12M976.1 640v12M1104.7 1134.5v-12M1104.7 640v12" stroke="#000" stroke-width="3.3" fill="none"/>
<rect x="204.5" y="640" width="900.5" height="494.5" stroke="#000" stroke-width="3" fill="none"/>
<text x="444" y="1245.5" textLength="345" lengthAdjust="spacingAndGlyphs" font-family="Liberation Serif" font-size="50.5" fill="#000" stroke="#fff" stroke-width="0.6">Forcing frequency</text>
<text x="812" y="1245.5" font-family="Liberation Serif" font-style="italic" font-size="50.5" fill="#000" stroke="#fff" stroke-width="0.6">ω</text>
<text x="844" y="1256.5" font-family="Liberation Serif" font-size="41" fill="#000" stroke="#fff" stroke-width="0.7">A</text>
<text transform="translate(40,882) rotate(-90)" x="0" y="0" text-anchor="middle" textLength="476" lengthAdjust="spacingAndGlyphs" font-family="Liberation Serif" font-size="50.5" fill="#000" stroke="#fff" stroke-width="0.6">Displacement amplitude</text>
</g>
</svg></body></html>
